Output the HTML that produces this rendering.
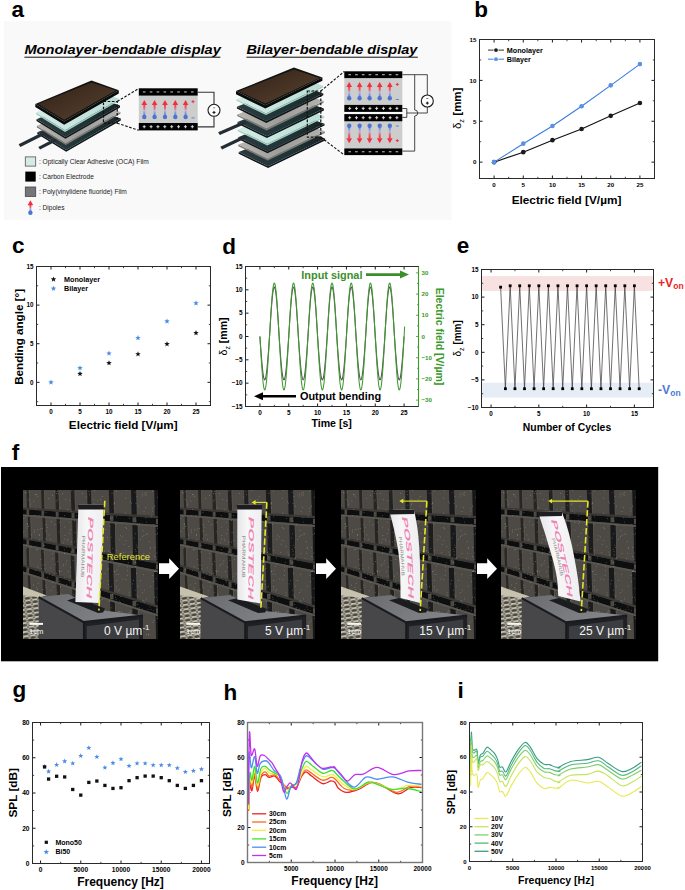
<!DOCTYPE html>
<html><head><meta charset="utf-8"><style>
html,body{margin:0;padding:0;background:#fff;}
svg{display:block;font-family:"Liberation Sans", sans-serif;}
</style></head><body>
<svg width="685" height="890" viewBox="0 0 685 890">
<text x="11.5" y="16.8" font-size="22.5" font-weight="bold" font-style="normal" text-anchor="start" fill="#000" >a</text>
<text x="474.2" y="16.8" font-size="22.5" font-weight="bold" font-style="normal" text-anchor="start" fill="#000" >b</text>
<text x="12" y="252.8" font-size="22.5" font-weight="bold" font-style="normal" text-anchor="start" fill="#000" >c</text>
<text x="222.3" y="254" font-size="22.5" font-weight="bold" font-style="normal" text-anchor="start" fill="#000" >d</text>
<text x="456.8" y="252.7" font-size="22.5" font-weight="bold" font-style="normal" text-anchor="start" fill="#000" >e</text>
<text x="11.8" y="460" font-size="22.5" font-weight="bold" font-style="normal" text-anchor="start" fill="#000" >f</text>
<text x="12.5" y="696.5" font-size="22.5" font-weight="bold" font-style="normal" text-anchor="start" fill="#000" >g</text>
<text x="223.5" y="699.5" font-size="22.5" font-weight="bold" font-style="normal" text-anchor="start" fill="#000" >h</text>
<text x="457.5" y="697.8" font-size="22.5" font-weight="bold" font-style="normal" text-anchor="start" fill="#000" >i</text>
<rect x="4" y="21" width="447.5" height="198.8" fill="#f9f9f9" />
<defs>
<linearGradient id="gphone" x1="0" y1="0" x2="1" y2="1">
<stop offset="0" stop-color="#2c1f15"/><stop offset="0.45" stop-color="#433022"/><stop offset="0.8" stop-color="#523c2b"/><stop offset="1" stop-color="#3a2a1e"/></linearGradient>
<linearGradient id="goca" x1="0" y1="0" x2="1" y2="0">
<stop offset="0" stop-color="#d3ebe5"/><stop offset="1" stop-color="#b9ddd5"/></linearGradient>
<linearGradient id="gel" x1="0" y1="0" x2="1" y2="0">
<stop offset="0" stop-color="#2c3a40"/><stop offset="0.6" stop-color="#1f3436"/><stop offset="1" stop-color="#1a2326"/></linearGradient>
<linearGradient id="gpv" x1="0" y1="0" x2="1" y2="0">
<stop offset="0" stop-color="#b9b6b0"/><stop offset="0.5" stop-color="#9d9c99"/><stop offset="1" stop-color="#b2b2ae"/></linearGradient>
<linearGradient id="gdip" x1="0" y1="0" x2="0" y2="1">
<stop offset="0" stop-color="#f03844"/><stop offset="0.3" stop-color="#e6687a"/><stop offset="0.5" stop-color="#c0b4dc"/><stop offset="0.7" stop-color="#7a98e0"/><stop offset="1" stop-color="#4a74d0"/></linearGradient>
<linearGradient id="gdipd" x1="0" y1="1" x2="0" y2="0">
<stop offset="0" stop-color="#f03844"/><stop offset="0.3" stop-color="#e6687a"/><stop offset="0.5" stop-color="#c0b4dc"/><stop offset="0.7" stop-color="#7a98e0"/><stop offset="1" stop-color="#4a74d0"/></linearGradient>
</defs>
<polygon points="37.3,132.2 66.2,149.9 120.8,118.6 120.8,120.4 66.2,151.7 37.3,134" fill="#10171a" />
<polygon points="37.3,132.2 93.5,108.9 120.8,118.6 66.2,149.9" fill="url(#gel)" />
<polygon points="38.3,146.9 56,137.8 57.76,140.52 40.06,149.62" fill="#232d33" />
<polygon points="36.9,125.7 65.8,143.4 120.4,112.1 120.4,113.8 65.8,145.1 36.9,127.4" fill="#7a7975" />
<polygon points="36.9,125.7 93.1,102.4 120.4,112.1 65.8,143.4" fill="url(#gpv)" />
<polygon points="36.5,119.2 65.4,136.9 120,105.6 120,107.4 65.4,138.7 36.5,121" fill="#10171a" />
<polygon points="36.5,119.2 92.7,95.9 120,105.6 65.4,136.9" fill="url(#gel)" />
<polygon points="18.6,144.2 44,131.6 45.76,134.32 20.36,146.92" fill="#232d33" />
<polygon points="40.5,133.5 44,131.6 52,137 48.5,139" fill="#232d33" />
<polygon points="36.1,112.6 65,130.3 119.6,99 119.6,100.6 65,131.9 36.1,114.2" fill="#a6d0c6" />
<polygon points="36.1,112.6 92.3,89.3 119.6,99 65,130.3" fill="url(#goca)" />
<polygon points="35.3,103.9 64.2,121.6 118.8,90.3 118.8,93.5 64.2,124.8 35.3,107.1" fill="#0b0b0b" />
<polygon points="35.3,103.9 91.5,80.6 118.8,90.3 64.2,121.6" fill="#121212" />
<polygon points="38.1,104.1 91.5,82.6 115.8,90.6 64.2,119.8" fill="url(#gphone)" />
<polygon points="238.7,152 268.1,166.3 325.1,138.6 325.1,140.4 268.1,168.1 238.7,153.8" fill="#10171a" />
<polygon points="238.7,152 296.6,128.5 325.1,138.6 268.1,166.3" fill="url(#gel)" />
<polygon points="238.4,144.6 267.8,158.9 324.8,131.2 324.8,132.9 267.8,160.6 238.4,146.3" fill="#7a7975" />
<polygon points="238.4,144.6 296.3,121.1 324.8,131.2 267.8,158.9" fill="url(#gpv)" />
<polygon points="238.1,137.2 267.5,151.5 324.5,123.8 324.5,125.6 267.5,153.3 238.1,139" fill="#10171a" />
<polygon points="238.1,137.2 296,113.7 324.5,123.8 267.5,151.5" fill="url(#gel)" />
<polygon points="220.3,146.8 245.5,134.8 247.26,137.52 222.06,149.52" fill="#232d33" />
<polygon points="237.8,129.6 267.2,143.9 324.2,116.2 324.2,117.8 267.2,145.5 237.8,131.2" fill="#a6d0c6" />
<polygon points="237.8,129.6 295.7,106.1 324.2,116.2 267.2,143.9" fill="url(#goca)" />
<polygon points="237.5,122 266.9,136.3 323.9,108.6 323.9,110.4 266.9,138.1 237.5,123.8" fill="#10171a" />
<polygon points="237.5,122 295.4,98.5 323.9,108.6 266.9,136.3" fill="url(#gel)" />
<polygon points="237.2,114.4 266.6,128.7 323.6,101 323.6,102.7 266.6,130.4 237.2,116.1" fill="#7a7975" />
<polygon points="237.2,114.4 295.1,90.9 323.6,101 266.6,128.7" fill="url(#gpv)" />
<polygon points="236.9,106.8 266.3,121.1 323.3,93.4 323.3,95.2 266.3,122.9 236.9,108.6" fill="#10171a" />
<polygon points="236.9,106.8 294.8,83.3 323.3,93.4 266.3,121.1" fill="url(#gel)" />
<polygon points="218.1,132.3 245,120.5 246.76,123.22 219.86,135.02" fill="#232d33" />
<polygon points="236.6,99.2 266,113.5 323,85.8 323,87.4 266,115.1 236.6,100.8" fill="#a6d0c6" />
<polygon points="236.6,99.2 294.5,75.7 323,85.8 266,113.5" fill="url(#goca)" />
<polygon points="236,91 265.4,105.3 322.4,77.6 322.4,80.8 265.4,108.5 236,94.2" fill="#0b0b0b" />
<polygon points="236,91 293.9,67.5 322.4,77.6 265.4,105.3" fill="#121212" />
<polygon points="238.8,91.2 293.9,69.5 319.4,77.9 265.4,103.5" fill="url(#gphone)" />
<rect x="103.5" y="101.5" width="13.7" height="21.7" fill="none" stroke="#111" stroke-width="1.2" stroke-dasharray="2.6,1.6"/>
<line x1="117.2" y1="101.5" x2="138.8" y2="88.5" stroke="#111" stroke-width="1.1" stroke-dasharray="2.6,1.6"/>
<line x1="117.2" y1="123.2" x2="138.8" y2="130.3" stroke="#111" stroke-width="1.1" stroke-dasharray="2.6,1.6"/>
<rect x="307.3" y="91" width="13.5" height="46.2" fill="none" stroke="#111" stroke-width="1.2" stroke-dasharray="2.6,1.6"/>
<line x1="320.8" y1="91" x2="344.3" y2="71.5" stroke="#111" stroke-width="1.1" stroke-dasharray="2.6,1.6"/>
<line x1="320.8" y1="137.2" x2="344.3" y2="155" stroke="#111" stroke-width="1.1" stroke-dasharray="2.6,1.6"/>
<rect x="138.8" y="95.4" width="58.9" height="27.6" fill="#cdcdcd" />
<rect x="138.8" y="88.3" width="58.9" height="7.3" fill="#000" />
<rect x="142.9" y="91.4" width="2.6" height="1.1" fill="#b8b8b8" />
<rect x="149.77" y="91.4" width="2.6" height="1.1" fill="#b8b8b8" />
<rect x="156.64" y="91.4" width="2.6" height="1.1" fill="#b8b8b8" />
<rect x="163.51" y="91.4" width="2.6" height="1.1" fill="#b8b8b8" />
<rect x="170.39" y="91.4" width="2.6" height="1.1" fill="#b8b8b8" />
<rect x="177.26" y="91.4" width="2.6" height="1.1" fill="#b8b8b8" />
<rect x="184.13" y="91.4" width="2.6" height="1.1" fill="#b8b8b8" />
<rect x="191" y="91.4" width="2.6" height="1.1" fill="#b8b8b8" />
<rect x="138.8" y="123" width="58.9" height="7.4" fill="#000" />
<rect x="142.7" y="126.2" width="3" height="1" fill="#d8d8d8" />
<rect x="143.7" y="125.1" width="1" height="3.2" fill="#d8d8d8" />
<rect x="149.57" y="126.2" width="3" height="1" fill="#d8d8d8" />
<rect x="150.57" y="125.1" width="1" height="3.2" fill="#d8d8d8" />
<rect x="156.44" y="126.2" width="3" height="1" fill="#d8d8d8" />
<rect x="157.44" y="125.1" width="1" height="3.2" fill="#d8d8d8" />
<rect x="163.31" y="126.2" width="3" height="1" fill="#d8d8d8" />
<rect x="164.31" y="125.1" width="1" height="3.2" fill="#d8d8d8" />
<rect x="170.19" y="126.2" width="3" height="1" fill="#d8d8d8" />
<rect x="171.19" y="125.1" width="1" height="3.2" fill="#d8d8d8" />
<rect x="177.06" y="126.2" width="3" height="1" fill="#d8d8d8" />
<rect x="178.06" y="125.1" width="1" height="3.2" fill="#d8d8d8" />
<rect x="183.93" y="126.2" width="3" height="1" fill="#d8d8d8" />
<rect x="184.93" y="125.1" width="1" height="3.2" fill="#d8d8d8" />
<rect x="190.8" y="126.2" width="3" height="1" fill="#d8d8d8" />
<rect x="191.8" y="125.1" width="1" height="3.2" fill="#d8d8d8" />
<rect x="143.3" y="104.4" width="2" height="12.6" fill="url(#gdip)" />
<polygon points="144.3,99.9 147.1,104.9 141.5,104.9" fill="#f2303c" />
<circle cx="144.3" cy="117" r="2.2" fill="#4a74d0"/>
<rect x="153.6" y="104.4" width="2" height="12.6" fill="url(#gdip)" />
<polygon points="154.6,99.9 157.4,104.9 151.8,104.9" fill="#f2303c" />
<circle cx="154.6" cy="117" r="2.2" fill="#4a74d0"/>
<rect x="164" y="104.4" width="2" height="12.6" fill="url(#gdip)" />
<polygon points="165,99.9 167.8,104.9 162.2,104.9" fill="#f2303c" />
<circle cx="165" cy="117" r="2.2" fill="#4a74d0"/>
<rect x="174.3" y="104.4" width="2" height="12.6" fill="url(#gdip)" />
<polygon points="175.3,99.9 178.1,104.9 172.5,104.9" fill="#f2303c" />
<circle cx="175.3" cy="117" r="2.2" fill="#4a74d0"/>
<rect x="184.6" y="104.4" width="2" height="12.6" fill="url(#gdip)" />
<polygon points="185.6,99.9 188.4,104.9 182.8,104.9" fill="#f2303c" />
<circle cx="185.6" cy="117" r="2.2" fill="#4a74d0"/>
<rect x="191.5" y="101.1" width="3" height="1" fill="#f2303c" />
<rect x="192.5" y="100.1" width="1" height="3" fill="#f2303c" />
<rect x="191.5" y="117.4" width="3" height="1" fill="#4a8ae0" />
<polyline points="197.7,92.3 214,92.3 214,104" fill="none" stroke="#333" stroke-width="1.1" />
<polyline points="214,116.5 214,126.9 197.7,126.9" fill="none" stroke="#333" stroke-width="1.1" />
<circle cx="214" cy="110.3" r="6" fill="#fff" stroke="#1a1a1a" stroke-width="1.1"/>
<rect x="212.9" y="107.4" width="2.2" height="0.9" fill="#777" />
<rect x="212.5" y="111.9" width="3" height="1" fill="#111" />
<rect x="213.5" y="110.9" width="1" height="3" fill="#111" />
<rect x="344.3" y="78.1" width="58" height="26.8" fill="#cdcdcd" />
<rect x="344.3" y="121.3" width="58" height="27.1" fill="#cdcdcd" />
<rect x="344.3" y="71.3" width="58" height="6.8" fill="#000" />
<rect x="348.4" y="74.15" width="2.6" height="1.1" fill="#b8b8b8" />
<rect x="355.14" y="74.15" width="2.6" height="1.1" fill="#b8b8b8" />
<rect x="361.89" y="74.15" width="2.6" height="1.1" fill="#b8b8b8" />
<rect x="368.63" y="74.15" width="2.6" height="1.1" fill="#b8b8b8" />
<rect x="375.37" y="74.15" width="2.6" height="1.1" fill="#b8b8b8" />
<rect x="382.11" y="74.15" width="2.6" height="1.1" fill="#b8b8b8" />
<rect x="388.86" y="74.15" width="2.6" height="1.1" fill="#b8b8b8" />
<rect x="395.6" y="74.15" width="2.6" height="1.1" fill="#b8b8b8" />
<rect x="344.3" y="104.9" width="58" height="7" fill="#000" />
<rect x="348.2" y="107.9" width="3" height="1" fill="#d8d8d8" />
<rect x="349.2" y="106.8" width="1" height="3.2" fill="#d8d8d8" />
<rect x="354.94" y="107.9" width="3" height="1" fill="#d8d8d8" />
<rect x="355.94" y="106.8" width="1" height="3.2" fill="#d8d8d8" />
<rect x="361.69" y="107.9" width="3" height="1" fill="#d8d8d8" />
<rect x="362.69" y="106.8" width="1" height="3.2" fill="#d8d8d8" />
<rect x="368.43" y="107.9" width="3" height="1" fill="#d8d8d8" />
<rect x="369.43" y="106.8" width="1" height="3.2" fill="#d8d8d8" />
<rect x="375.17" y="107.9" width="3" height="1" fill="#d8d8d8" />
<rect x="376.17" y="106.8" width="1" height="3.2" fill="#d8d8d8" />
<rect x="381.91" y="107.9" width="3" height="1" fill="#d8d8d8" />
<rect x="382.91" y="106.8" width="1" height="3.2" fill="#d8d8d8" />
<rect x="388.66" y="107.9" width="3" height="1" fill="#d8d8d8" />
<rect x="389.66" y="106.8" width="1" height="3.2" fill="#d8d8d8" />
<rect x="395.4" y="107.9" width="3" height="1" fill="#d8d8d8" />
<rect x="396.4" y="106.8" width="1" height="3.2" fill="#d8d8d8" />
<rect x="344.3" y="114.1" width="58" height="7.2" fill="#000" />
<rect x="348.2" y="117.2" width="3" height="1" fill="#d8d8d8" />
<rect x="349.2" y="116.1" width="1" height="3.2" fill="#d8d8d8" />
<rect x="354.94" y="117.2" width="3" height="1" fill="#d8d8d8" />
<rect x="355.94" y="116.1" width="1" height="3.2" fill="#d8d8d8" />
<rect x="361.69" y="117.2" width="3" height="1" fill="#d8d8d8" />
<rect x="362.69" y="116.1" width="1" height="3.2" fill="#d8d8d8" />
<rect x="368.43" y="117.2" width="3" height="1" fill="#d8d8d8" />
<rect x="369.43" y="116.1" width="1" height="3.2" fill="#d8d8d8" />
<rect x="375.17" y="117.2" width="3" height="1" fill="#d8d8d8" />
<rect x="376.17" y="116.1" width="1" height="3.2" fill="#d8d8d8" />
<rect x="381.91" y="117.2" width="3" height="1" fill="#d8d8d8" />
<rect x="382.91" y="116.1" width="1" height="3.2" fill="#d8d8d8" />
<rect x="388.66" y="117.2" width="3" height="1" fill="#d8d8d8" />
<rect x="389.66" y="116.1" width="1" height="3.2" fill="#d8d8d8" />
<rect x="395.4" y="117.2" width="3" height="1" fill="#d8d8d8" />
<rect x="396.4" y="116.1" width="1" height="3.2" fill="#d8d8d8" />
<rect x="344.3" y="148.4" width="58" height="6.7" fill="#000" />
<rect x="348.4" y="151.2" width="2.6" height="1.1" fill="#b8b8b8" />
<rect x="355.14" y="151.2" width="2.6" height="1.1" fill="#b8b8b8" />
<rect x="361.89" y="151.2" width="2.6" height="1.1" fill="#b8b8b8" />
<rect x="368.63" y="151.2" width="2.6" height="1.1" fill="#b8b8b8" />
<rect x="375.37" y="151.2" width="2.6" height="1.1" fill="#b8b8b8" />
<rect x="382.11" y="151.2" width="2.6" height="1.1" fill="#b8b8b8" />
<rect x="388.86" y="151.2" width="2.6" height="1.1" fill="#b8b8b8" />
<rect x="395.6" y="151.2" width="2.6" height="1.1" fill="#b8b8b8" />
<rect x="348.2" y="86.6" width="2" height="11.7" fill="url(#gdip)" />
<polygon points="349.2,82.1 352,87.1 346.4,87.1" fill="#f2303c" />
<circle cx="349.2" cy="98.3" r="2.2" fill="#4a74d0"/>
<rect x="348.2" y="125.3" width="2" height="12.9" fill="url(#gdipd)" />
<polygon points="349.2,143.2 352,138.2 346.4,138.2" fill="#f2303c" />
<circle cx="349.2" cy="125.8" r="2.2" fill="#4a74d0"/>
<rect x="358.6" y="86.6" width="2" height="11.7" fill="url(#gdip)" />
<polygon points="359.6,82.1 362.4,87.1 356.8,87.1" fill="#f2303c" />
<circle cx="359.6" cy="98.3" r="2.2" fill="#4a74d0"/>
<rect x="358.6" y="125.3" width="2" height="12.9" fill="url(#gdipd)" />
<polygon points="359.6,143.2 362.4,138.2 356.8,138.2" fill="#f2303c" />
<circle cx="359.6" cy="125.8" r="2.2" fill="#4a74d0"/>
<rect x="368.6" y="86.6" width="2" height="11.7" fill="url(#gdip)" />
<polygon points="369.6,82.1 372.4,87.1 366.8,87.1" fill="#f2303c" />
<circle cx="369.6" cy="98.3" r="2.2" fill="#4a74d0"/>
<rect x="368.6" y="125.3" width="2" height="12.9" fill="url(#gdipd)" />
<polygon points="369.6,143.2 372.4,138.2 366.8,138.2" fill="#f2303c" />
<circle cx="369.6" cy="125.8" r="2.2" fill="#4a74d0"/>
<rect x="378.7" y="86.6" width="2" height="11.7" fill="url(#gdip)" />
<polygon points="379.7,82.1 382.5,87.1 376.9,87.1" fill="#f2303c" />
<circle cx="379.7" cy="98.3" r="2.2" fill="#4a74d0"/>
<rect x="378.7" y="125.3" width="2" height="12.9" fill="url(#gdipd)" />
<polygon points="379.7,143.2 382.5,138.2 376.9,138.2" fill="#f2303c" />
<circle cx="379.7" cy="125.8" r="2.2" fill="#4a74d0"/>
<rect x="388.8" y="86.6" width="2" height="11.7" fill="url(#gdip)" />
<polygon points="389.8,82.1 392.6,87.1 387,87.1" fill="#f2303c" />
<circle cx="389.8" cy="98.3" r="2.2" fill="#4a74d0"/>
<rect x="388.8" y="125.3" width="2" height="12.9" fill="url(#gdipd)" />
<polygon points="389.8,143.2 392.6,138.2 387,138.2" fill="#f2303c" />
<circle cx="389.8" cy="125.8" r="2.2" fill="#4a74d0"/>
<rect x="395.8" y="83.9" width="3" height="1" fill="#f2303c" />
<rect x="396.8" y="82.9" width="1" height="3" fill="#f2303c" />
<rect x="395.8" y="99" width="3" height="1" fill="#4a8ae0" />
<rect x="395.8" y="125.5" width="3" height="1" fill="#4a8ae0" />
<rect x="395.8" y="140.1" width="3" height="1" fill="#f2303c" />
<rect x="396.8" y="139.1" width="1" height="3" fill="#f2303c" />
<polyline points="402.3,74.7 427.3,74.7 427.3,95.2" fill="none" stroke="#333" stroke-width="0.9" />
<polyline points="427.3,106.8 427.3,113 406.8,113" fill="none" stroke="#333" stroke-width="0.9" />
<polyline points="402.3,108.5 406.8,108.5 406.8,117.4 402.3,117.4" fill="none" stroke="#333" stroke-width="0.9" />
<path d="M414.7,74.7 L414.7,110 A3,3 0 0 1 414.7,116 L414.7,151.1 L402.3,151.1" fill="none" stroke="#333" stroke-width="0.9" />
<circle cx="427.3" cy="101" r="6" fill="#fff" stroke="#1a1a1a" stroke-width="1.1"/>
<rect x="426.2" y="98.1" width="2.2" height="0.9" fill="#777" />
<rect x="425.8" y="102.6" width="3" height="1" fill="#111" />
<rect x="426.8" y="101.6" width="1" height="3" fill="#111" />
<text x="24.4" y="54.3" font-size="13.6" font-weight="bold" font-style="italic" text-anchor="start" fill="#000" textLength="196.5" lengthAdjust="spacingAndGlyphs">Monolayer-bendable display</text>
<rect x="24.4" y="56.7" width="196" height="1" fill="#111" />
<text x="246.4" y="54.3" font-size="13.6" font-weight="bold" font-style="italic" text-anchor="start" fill="#000" textLength="171" lengthAdjust="spacingAndGlyphs">Bilayer-bendable display</text>
<rect x="246.4" y="56.7" width="171.4" height="1" fill="#111" />
<rect x="25.3" y="156.9" width="10.4" height="9.2" fill="#d6ebe6" stroke="#555" stroke-width="0.8"/>
<rect x="25.3" y="171.6" width="10.4" height="10" fill="#000" />
<rect x="25.3" y="187" width="10.4" height="9.4" fill="#74767a" stroke="#444" stroke-width="0.8"/>
<rect x="29.4" y="204.7" width="2" height="8.1" fill="url(#gdip)" />
<polygon points="30.4,200.2 33.2,205.2 27.6,205.2" fill="#f2303c" />
<circle cx="30.4" cy="212.8" r="2.2" fill="#4a74d0"/>
<text x="38.9" y="163.9" font-size="6.6" font-weight="normal" font-style="normal" text-anchor="start" fill="#222" >: Optically Clear Adhesive (OCA) Film</text>
<text x="38.9" y="179" font-size="6.6" font-weight="normal" font-style="normal" text-anchor="start" fill="#222" >: Carbon Electrode</text>
<text x="38.9" y="194" font-size="6.6" font-weight="normal" font-style="normal" text-anchor="start" fill="#222" >: Poly(vinylidene fluoride) Film</text>
<text x="38.9" y="210.3" font-size="6.6" font-weight="normal" font-style="normal" text-anchor="start" fill="#222" >: Dipoles</text>
<line x1="494.08" y1="178.5" x2="494.08" y2="175.5" stroke="#1a1a1a" stroke-width="1" />
<line x1="494.08" y1="39.5" x2="494.08" y2="42.5" stroke="#1a1a1a" stroke-width="1" />
<line x1="523.25" y1="178.5" x2="523.25" y2="175.5" stroke="#1a1a1a" stroke-width="1" />
<line x1="523.25" y1="39.5" x2="523.25" y2="42.5" stroke="#1a1a1a" stroke-width="1" />
<line x1="552.42" y1="178.5" x2="552.42" y2="175.5" stroke="#1a1a1a" stroke-width="1" />
<line x1="552.42" y1="39.5" x2="552.42" y2="42.5" stroke="#1a1a1a" stroke-width="1" />
<line x1="581.58" y1="178.5" x2="581.58" y2="175.5" stroke="#1a1a1a" stroke-width="1" />
<line x1="581.58" y1="39.5" x2="581.58" y2="42.5" stroke="#1a1a1a" stroke-width="1" />
<line x1="610.75" y1="178.5" x2="610.75" y2="175.5" stroke="#1a1a1a" stroke-width="1" />
<line x1="610.75" y1="39.5" x2="610.75" y2="42.5" stroke="#1a1a1a" stroke-width="1" />
<line x1="639.92" y1="178.5" x2="639.92" y2="175.5" stroke="#1a1a1a" stroke-width="1" />
<line x1="639.92" y1="39.5" x2="639.92" y2="42.5" stroke="#1a1a1a" stroke-width="1" />
<line x1="508.67" y1="178.5" x2="508.67" y2="176.8" stroke="#1a1a1a" stroke-width="0.8" />
<line x1="508.67" y1="39.5" x2="508.67" y2="41.2" stroke="#1a1a1a" stroke-width="0.8" />
<line x1="537.83" y1="178.5" x2="537.83" y2="176.8" stroke="#1a1a1a" stroke-width="0.8" />
<line x1="537.83" y1="39.5" x2="537.83" y2="41.2" stroke="#1a1a1a" stroke-width="0.8" />
<line x1="567" y1="178.5" x2="567" y2="176.8" stroke="#1a1a1a" stroke-width="0.8" />
<line x1="567" y1="39.5" x2="567" y2="41.2" stroke="#1a1a1a" stroke-width="0.8" />
<line x1="596.17" y1="178.5" x2="596.17" y2="176.8" stroke="#1a1a1a" stroke-width="0.8" />
<line x1="596.17" y1="39.5" x2="596.17" y2="41.2" stroke="#1a1a1a" stroke-width="0.8" />
<line x1="625.33" y1="178.5" x2="625.33" y2="176.8" stroke="#1a1a1a" stroke-width="0.8" />
<line x1="625.33" y1="39.5" x2="625.33" y2="41.2" stroke="#1a1a1a" stroke-width="0.8" />
<line x1="479.5" y1="162.15" x2="482.5" y2="162.15" stroke="#1a1a1a" stroke-width="1" />
<line x1="654.5" y1="162.15" x2="651.5" y2="162.15" stroke="#1a1a1a" stroke-width="1" />
<line x1="479.5" y1="121.26" x2="482.5" y2="121.26" stroke="#1a1a1a" stroke-width="1" />
<line x1="654.5" y1="121.26" x2="651.5" y2="121.26" stroke="#1a1a1a" stroke-width="1" />
<line x1="479.5" y1="80.38" x2="482.5" y2="80.38" stroke="#1a1a1a" stroke-width="1" />
<line x1="654.5" y1="80.38" x2="651.5" y2="80.38" stroke="#1a1a1a" stroke-width="1" />
<line x1="479.5" y1="39.5" x2="482.5" y2="39.5" stroke="#1a1a1a" stroke-width="1" />
<line x1="654.5" y1="39.5" x2="651.5" y2="39.5" stroke="#1a1a1a" stroke-width="1" />
<line x1="479.5" y1="141.71" x2="481.2" y2="141.71" stroke="#1a1a1a" stroke-width="0.8" />
<line x1="654.5" y1="141.71" x2="652.8" y2="141.71" stroke="#1a1a1a" stroke-width="0.8" />
<line x1="479.5" y1="100.82" x2="481.2" y2="100.82" stroke="#1a1a1a" stroke-width="0.8" />
<line x1="654.5" y1="100.82" x2="652.8" y2="100.82" stroke="#1a1a1a" stroke-width="0.8" />
<line x1="479.5" y1="59.94" x2="481.2" y2="59.94" stroke="#1a1a1a" stroke-width="0.8" />
<line x1="654.5" y1="59.94" x2="652.8" y2="59.94" stroke="#1a1a1a" stroke-width="0.8" />
<rect x="479.5" y="39.5" width="175" height="139" fill="none" stroke="#2a2a2a" stroke-width="1"/>
<text x="494.08" y="187.2" font-size="6.2" font-weight="bold" font-style="normal" text-anchor="middle" fill="#000" >0</text>
<text x="523.25" y="187.2" font-size="6.2" font-weight="bold" font-style="normal" text-anchor="middle" fill="#000" >5</text>
<text x="552.42" y="187.2" font-size="6.2" font-weight="bold" font-style="normal" text-anchor="middle" fill="#000" >10</text>
<text x="581.58" y="187.2" font-size="6.2" font-weight="bold" font-style="normal" text-anchor="middle" fill="#000" >15</text>
<text x="610.75" y="187.2" font-size="6.2" font-weight="bold" font-style="normal" text-anchor="middle" fill="#000" >20</text>
<text x="639.92" y="187.2" font-size="6.2" font-weight="bold" font-style="normal" text-anchor="middle" fill="#000" >25</text>
<text x="476.5" y="164.38" font-size="6.2" font-weight="bold" font-style="normal" text-anchor="end" fill="#000" >0</text>
<text x="476.5" y="123.5" font-size="6.2" font-weight="bold" font-style="normal" text-anchor="end" fill="#000" >5</text>
<text x="476.5" y="82.61" font-size="6.2" font-weight="bold" font-style="normal" text-anchor="end" fill="#000" >10</text>
<text x="476.5" y="41.73" font-size="6.2" font-weight="bold" font-style="normal" text-anchor="end" fill="#000" >15</text>
<polyline points="494.08,162.15 523.25,152.17 552.42,140.15 581.58,129.03 610.75,115.87 639.92,103.03" fill="none" stroke="#111" stroke-width="1.1" />
<polyline points="494.08,162.15 523.25,143.67 552.42,126.01 581.58,106.22 610.75,85.37 639.92,64.11" fill="none" stroke="#3b7ddd" stroke-width="1.1" />
<circle cx="494.08" cy="162.15" r="2.3" fill="#1a1a1a"/>
<circle cx="523.25" cy="152.17" r="2.3" fill="#1a1a1a"/>
<circle cx="552.42" cy="140.15" r="2.3" fill="#1a1a1a"/>
<circle cx="581.58" cy="129.03" r="2.3" fill="#1a1a1a"/>
<circle cx="610.75" cy="115.87" r="2.3" fill="#1a1a1a"/>
<circle cx="639.92" cy="103.03" r="2.3" fill="#1a1a1a"/>
<circle cx="494.08" cy="162.15" r="2.3" fill="#5b8fe8"/>
<circle cx="523.25" cy="143.67" r="2.3" fill="#5b8fe8"/>
<circle cx="552.42" cy="126.01" r="2.3" fill="#5b8fe8"/>
<circle cx="581.58" cy="106.22" r="2.3" fill="#5b8fe8"/>
<circle cx="610.75" cy="85.37" r="2.3" fill="#5b8fe8"/>
<circle cx="639.92" cy="64.11" r="2.3" fill="#5b8fe8"/>
<line x1="488" y1="50.1" x2="493.6" y2="50.1" stroke="#333" stroke-width="1" />
<line x1="498.4" y1="50.1" x2="504" y2="50.1" stroke="#333" stroke-width="1" />
<circle cx="496" cy="50.1" r="1.9" fill="#1a1a1a"/>
<line x1="488" y1="59.2" x2="493.6" y2="59.2" stroke="#3b7ddd" stroke-width="1" />
<line x1="498.4" y1="59.2" x2="504" y2="59.2" stroke="#3b7ddd" stroke-width="1" />
<circle cx="496" cy="59.2" r="1.9" fill="#5b8fe8"/>
<text x="506.8" y="52.6" font-size="7.2" font-weight="bold" font-style="normal" text-anchor="start" fill="#000" >Monolayer</text>
<text x="506.8" y="61.7" font-size="7.2" font-weight="bold" font-style="normal" text-anchor="start" fill="#000" >Bilayer</text>
<text x="566.5" y="203.8" font-size="11.8" font-weight="bold" font-style="normal" text-anchor="middle" fill="#000" >Electric field [V/µm]</text>
<text transform="translate(460.6,108.3) rotate(-90)" font-size="11.5" font-weight="bold" text-anchor="middle"><tspan font-weight="normal">δ</tspan><tspan font-size="7.5" dy="3" font-weight="normal">z</tspan><tspan dy="-3"> [mm]</tspan></text>
<line x1="51" y1="405.5" x2="51" y2="402.5" stroke="#1a1a1a" stroke-width="1" />
<line x1="51" y1="266.5" x2="51" y2="269.5" stroke="#1a1a1a" stroke-width="1" />
<line x1="80" y1="405.5" x2="80" y2="402.5" stroke="#1a1a1a" stroke-width="1" />
<line x1="80" y1="266.5" x2="80" y2="269.5" stroke="#1a1a1a" stroke-width="1" />
<line x1="109" y1="405.5" x2="109" y2="402.5" stroke="#1a1a1a" stroke-width="1" />
<line x1="109" y1="266.5" x2="109" y2="269.5" stroke="#1a1a1a" stroke-width="1" />
<line x1="138" y1="405.5" x2="138" y2="402.5" stroke="#1a1a1a" stroke-width="1" />
<line x1="138" y1="266.5" x2="138" y2="269.5" stroke="#1a1a1a" stroke-width="1" />
<line x1="167" y1="405.5" x2="167" y2="402.5" stroke="#1a1a1a" stroke-width="1" />
<line x1="167" y1="266.5" x2="167" y2="269.5" stroke="#1a1a1a" stroke-width="1" />
<line x1="196" y1="405.5" x2="196" y2="402.5" stroke="#1a1a1a" stroke-width="1" />
<line x1="196" y1="266.5" x2="196" y2="269.5" stroke="#1a1a1a" stroke-width="1" />
<line x1="65.5" y1="405.5" x2="65.5" y2="403.8" stroke="#1a1a1a" stroke-width="0.8" />
<line x1="65.5" y1="266.5" x2="65.5" y2="268.2" stroke="#1a1a1a" stroke-width="0.8" />
<line x1="94.5" y1="405.5" x2="94.5" y2="403.8" stroke="#1a1a1a" stroke-width="0.8" />
<line x1="94.5" y1="266.5" x2="94.5" y2="268.2" stroke="#1a1a1a" stroke-width="0.8" />
<line x1="123.5" y1="405.5" x2="123.5" y2="403.8" stroke="#1a1a1a" stroke-width="0.8" />
<line x1="123.5" y1="266.5" x2="123.5" y2="268.2" stroke="#1a1a1a" stroke-width="0.8" />
<line x1="152.5" y1="405.5" x2="152.5" y2="403.8" stroke="#1a1a1a" stroke-width="0.8" />
<line x1="152.5" y1="266.5" x2="152.5" y2="268.2" stroke="#1a1a1a" stroke-width="0.8" />
<line x1="181.5" y1="405.5" x2="181.5" y2="403.8" stroke="#1a1a1a" stroke-width="0.8" />
<line x1="181.5" y1="266.5" x2="181.5" y2="268.2" stroke="#1a1a1a" stroke-width="0.8" />
<line x1="36.5" y1="382.33" x2="39.5" y2="382.33" stroke="#1a1a1a" stroke-width="1" />
<line x1="210.5" y1="382.33" x2="207.5" y2="382.33" stroke="#1a1a1a" stroke-width="1" />
<line x1="36.5" y1="343.72" x2="39.5" y2="343.72" stroke="#1a1a1a" stroke-width="1" />
<line x1="210.5" y1="343.72" x2="207.5" y2="343.72" stroke="#1a1a1a" stroke-width="1" />
<line x1="36.5" y1="305.11" x2="39.5" y2="305.11" stroke="#1a1a1a" stroke-width="1" />
<line x1="210.5" y1="305.11" x2="207.5" y2="305.11" stroke="#1a1a1a" stroke-width="1" />
<line x1="36.5" y1="266.5" x2="39.5" y2="266.5" stroke="#1a1a1a" stroke-width="1" />
<line x1="210.5" y1="266.5" x2="207.5" y2="266.5" stroke="#1a1a1a" stroke-width="1" />
<line x1="36.5" y1="363.03" x2="38.2" y2="363.03" stroke="#1a1a1a" stroke-width="0.8" />
<line x1="210.5" y1="363.03" x2="208.8" y2="363.03" stroke="#1a1a1a" stroke-width="0.8" />
<line x1="36.5" y1="324.42" x2="38.2" y2="324.42" stroke="#1a1a1a" stroke-width="0.8" />
<line x1="210.5" y1="324.42" x2="208.8" y2="324.42" stroke="#1a1a1a" stroke-width="0.8" />
<line x1="36.5" y1="285.81" x2="38.2" y2="285.81" stroke="#1a1a1a" stroke-width="0.8" />
<line x1="210.5" y1="285.81" x2="208.8" y2="285.81" stroke="#1a1a1a" stroke-width="0.8" />
<line x1="36.5" y1="401.64" x2="38.2" y2="401.64" stroke="#1a1a1a" stroke-width="0.8" />
<line x1="210.5" y1="401.64" x2="208.8" y2="401.64" stroke="#1a1a1a" stroke-width="0.8" />
<rect x="36.5" y="266.5" width="174" height="139" fill="none" stroke="#2a2a2a" stroke-width="1"/>
<text x="51" y="414.2" font-size="6.3" font-weight="bold" font-style="normal" text-anchor="middle" fill="#000" >0</text>
<text x="80" y="414.2" font-size="6.3" font-weight="bold" font-style="normal" text-anchor="middle" fill="#000" >5</text>
<text x="109" y="414.2" font-size="6.3" font-weight="bold" font-style="normal" text-anchor="middle" fill="#000" >10</text>
<text x="138" y="414.2" font-size="6.3" font-weight="bold" font-style="normal" text-anchor="middle" fill="#000" >15</text>
<text x="167" y="414.2" font-size="6.3" font-weight="bold" font-style="normal" text-anchor="middle" fill="#000" >20</text>
<text x="196" y="414.2" font-size="6.3" font-weight="bold" font-style="normal" text-anchor="middle" fill="#000" >25</text>
<text x="33.5" y="384.6" font-size="6.3" font-weight="bold" font-style="normal" text-anchor="end" fill="#000" >0</text>
<text x="33.5" y="345.99" font-size="6.3" font-weight="bold" font-style="normal" text-anchor="end" fill="#000" >5</text>
<text x="33.5" y="307.38" font-size="6.3" font-weight="bold" font-style="normal" text-anchor="end" fill="#000" >10</text>
<text x="33.5" y="268.77" font-size="6.3" font-weight="bold" font-style="normal" text-anchor="end" fill="#000" >15</text>
<polygon points="80,370.94 80.72,372.85 82.76,372.94 81.16,374.22 81.7,376.19 80,375.06 78.3,376.19 78.84,374.22 77.24,372.94 79.28,372.85" fill="#111" />
<polygon points="109,360.13 109.72,362.04 111.76,362.13 110.16,363.4 110.7,365.37 109,364.25 107.3,365.37 107.84,363.4 106.24,362.13 108.28,362.04" fill="#111" />
<polygon points="138,351.25 138.72,353.16 140.76,353.25 139.16,354.52 139.7,356.49 138,355.37 136.3,356.49 136.84,354.52 135.24,353.25 137.28,353.16" fill="#111" />
<polygon points="167,341.21 167.72,343.12 169.76,343.21 168.16,344.48 168.7,346.45 167,345.33 165.3,346.45 165.84,344.48 164.24,343.21 166.28,343.12" fill="#111" />
<polygon points="196,330.01 196.72,331.93 198.76,332.01 197.16,333.29 197.7,335.26 196,334.13 194.3,335.26 194.84,333.29 193.24,332.01 195.28,331.93" fill="#111" />
<polygon points="51,379.43 51.72,381.35 53.76,381.44 52.16,382.71 52.7,384.68 51,383.55 49.3,384.68 49.84,382.71 48.24,381.44 50.28,381.35" fill="#4a8ae8" />
<polygon points="80,365.15 80.72,367.06 82.76,367.15 81.16,368.42 81.7,370.39 80,369.27 78.3,370.39 78.84,368.42 77.24,367.15 79.28,367.06" fill="#4a8ae8" />
<polygon points="109,350.48 109.72,352.39 111.76,352.48 110.16,353.75 110.7,355.72 109,354.59 107.3,355.72 107.84,353.75 106.24,352.48 108.28,352.39" fill="#4a8ae8" />
<polygon points="138,335.03 138.72,336.95 140.76,337.03 139.16,338.31 139.7,340.28 138,339.15 136.3,340.28 136.84,338.31 135.24,337.03 137.28,336.95" fill="#4a8ae8" />
<polygon points="167,318.43 167.72,320.34 169.76,320.43 168.16,321.7 168.7,323.67 167,322.55 165.3,323.67 165.84,321.7 164.24,320.43 166.28,320.34" fill="#4a8ae8" />
<polygon points="196,300.28 196.72,302.2 198.76,302.28 197.16,303.56 197.7,305.53 196,304.4 194.3,305.53 194.84,303.56 193.24,302.28 195.28,302.2" fill="#4a8ae8" />
<polygon points="53.5,276.4 54.22,278.31 56.26,278.4 54.66,279.68 55.2,281.65 53.5,280.52 51.8,281.65 52.34,279.68 50.74,278.4 52.78,278.31" fill="#111" />
<polygon points="53.5,285.7 54.22,287.61 56.26,287.7 54.66,288.98 55.2,290.95 53.5,289.82 51.8,290.95 52.34,288.98 50.74,287.7 52.78,287.61" fill="#4a8ae8" />
<text x="64" y="282" font-size="7.2" font-weight="bold" font-style="normal" text-anchor="start" fill="#000" >Monolayer</text>
<text x="64" y="291.3" font-size="7.2" font-weight="bold" font-style="normal" text-anchor="start" fill="#000" >Bilayer</text>
<text x="123.2" y="429.4" font-size="11.7" font-weight="bold" font-style="normal" text-anchor="middle" fill="#000" >Electric field [V/µm]</text>
<text transform="translate(23.2,336.9) rotate(-90)" font-size="11.2" font-weight="bold" text-anchor="middle" textLength="95.8" lengthAdjust="spacingAndGlyphs">Bending angle [°]</text>
<line x1="259.92" y1="406.5" x2="259.92" y2="403.5" stroke="#1a1a1a" stroke-width="1" />
<line x1="259.92" y1="266.5" x2="259.92" y2="269.5" stroke="#1a1a1a" stroke-width="1" />
<line x1="288.75" y1="406.5" x2="288.75" y2="403.5" stroke="#1a1a1a" stroke-width="1" />
<line x1="288.75" y1="266.5" x2="288.75" y2="269.5" stroke="#1a1a1a" stroke-width="1" />
<line x1="317.58" y1="406.5" x2="317.58" y2="403.5" stroke="#1a1a1a" stroke-width="1" />
<line x1="317.58" y1="266.5" x2="317.58" y2="269.5" stroke="#1a1a1a" stroke-width="1" />
<line x1="346.42" y1="406.5" x2="346.42" y2="403.5" stroke="#1a1a1a" stroke-width="1" />
<line x1="346.42" y1="266.5" x2="346.42" y2="269.5" stroke="#1a1a1a" stroke-width="1" />
<line x1="375.25" y1="406.5" x2="375.25" y2="403.5" stroke="#1a1a1a" stroke-width="1" />
<line x1="375.25" y1="266.5" x2="375.25" y2="269.5" stroke="#1a1a1a" stroke-width="1" />
<line x1="404.08" y1="406.5" x2="404.08" y2="403.5" stroke="#1a1a1a" stroke-width="1" />
<line x1="404.08" y1="266.5" x2="404.08" y2="269.5" stroke="#1a1a1a" stroke-width="1" />
<line x1="274.33" y1="406.5" x2="274.33" y2="404.8" stroke="#1a1a1a" stroke-width="0.8" />
<line x1="274.33" y1="266.5" x2="274.33" y2="268.2" stroke="#1a1a1a" stroke-width="0.8" />
<line x1="303.17" y1="406.5" x2="303.17" y2="404.8" stroke="#1a1a1a" stroke-width="0.8" />
<line x1="303.17" y1="266.5" x2="303.17" y2="268.2" stroke="#1a1a1a" stroke-width="0.8" />
<line x1="332" y1="406.5" x2="332" y2="404.8" stroke="#1a1a1a" stroke-width="0.8" />
<line x1="332" y1="266.5" x2="332" y2="268.2" stroke="#1a1a1a" stroke-width="0.8" />
<line x1="360.83" y1="406.5" x2="360.83" y2="404.8" stroke="#1a1a1a" stroke-width="0.8" />
<line x1="360.83" y1="266.5" x2="360.83" y2="268.2" stroke="#1a1a1a" stroke-width="0.8" />
<line x1="389.67" y1="406.5" x2="389.67" y2="404.8" stroke="#1a1a1a" stroke-width="0.8" />
<line x1="389.67" y1="266.5" x2="389.67" y2="268.2" stroke="#1a1a1a" stroke-width="0.8" />
<line x1="245.5" y1="406.5" x2="248.5" y2="406.5" stroke="#1a1a1a" stroke-width="1" />
<line x1="245.5" y1="383.17" x2="248.5" y2="383.17" stroke="#1a1a1a" stroke-width="1" />
<line x1="245.5" y1="359.83" x2="248.5" y2="359.83" stroke="#1a1a1a" stroke-width="1" />
<line x1="245.5" y1="336.5" x2="248.5" y2="336.5" stroke="#1a1a1a" stroke-width="1" />
<line x1="245.5" y1="313.17" x2="248.5" y2="313.17" stroke="#1a1a1a" stroke-width="1" />
<line x1="245.5" y1="289.83" x2="248.5" y2="289.83" stroke="#1a1a1a" stroke-width="1" />
<line x1="245.5" y1="266.5" x2="248.5" y2="266.5" stroke="#1a1a1a" stroke-width="1" />
<line x1="245.5" y1="394.83" x2="247.2" y2="394.83" stroke="#1a1a1a" stroke-width="0.8" />
<line x1="245.5" y1="371.5" x2="247.2" y2="371.5" stroke="#1a1a1a" stroke-width="0.8" />
<line x1="245.5" y1="348.17" x2="247.2" y2="348.17" stroke="#1a1a1a" stroke-width="0.8" />
<line x1="245.5" y1="324.83" x2="247.2" y2="324.83" stroke="#1a1a1a" stroke-width="0.8" />
<line x1="245.5" y1="301.5" x2="247.2" y2="301.5" stroke="#1a1a1a" stroke-width="0.8" />
<line x1="245.5" y1="278.17" x2="247.2" y2="278.17" stroke="#1a1a1a" stroke-width="0.8" />
<rect x="245.5" y="266.5" width="173" height="140" fill="none" stroke="#2a2a2a" stroke-width="1"/>
<text x="259.92" y="415.2" font-size="6.4" font-weight="bold" font-style="normal" text-anchor="middle" fill="#000" >0</text>
<text x="288.75" y="415.2" font-size="6.4" font-weight="bold" font-style="normal" text-anchor="middle" fill="#000" >5</text>
<text x="317.58" y="415.2" font-size="6.4" font-weight="bold" font-style="normal" text-anchor="middle" fill="#000" >10</text>
<text x="346.42" y="415.2" font-size="6.4" font-weight="bold" font-style="normal" text-anchor="middle" fill="#000" >15</text>
<text x="375.25" y="415.2" font-size="6.4" font-weight="bold" font-style="normal" text-anchor="middle" fill="#000" >20</text>
<text x="404.08" y="415.2" font-size="6.4" font-weight="bold" font-style="normal" text-anchor="middle" fill="#000" >25</text>
<text x="242.5" y="408.8" font-size="6.4" font-weight="bold" font-style="normal" text-anchor="end" fill="#000" >−15</text>
<text x="242.5" y="385.47" font-size="6.4" font-weight="bold" font-style="normal" text-anchor="end" fill="#000" >−10</text>
<text x="242.5" y="362.14" font-size="6.4" font-weight="bold" font-style="normal" text-anchor="end" fill="#000" >−5</text>
<text x="242.5" y="338.8" font-size="6.4" font-weight="bold" font-style="normal" text-anchor="end" fill="#000" >0</text>
<text x="242.5" y="315.47" font-size="6.4" font-weight="bold" font-style="normal" text-anchor="end" fill="#000" >5</text>
<text x="242.5" y="292.14" font-size="6.4" font-weight="bold" font-style="normal" text-anchor="end" fill="#000" >10</text>
<text x="242.5" y="268.8" font-size="6.4" font-weight="bold" font-style="normal" text-anchor="end" fill="#000" >15</text>
<line x1="418.5" y1="266.5" x2="418.5" y2="406.5" stroke="#3a9a2a" stroke-width="1.1" />
<line x1="418.5" y1="400.14" x2="416" y2="400.14" stroke="#3a9a2a" stroke-width="0.8" />
<text x="421.5" y="402.34" font-size="6.2" font-weight="bold" font-style="normal" text-anchor="start" fill="#3a9a2a" >−30</text>
<line x1="418.5" y1="378.92" x2="416" y2="378.92" stroke="#3a9a2a" stroke-width="0.8" />
<text x="421.5" y="381.12" font-size="6.2" font-weight="bold" font-style="normal" text-anchor="start" fill="#3a9a2a" >−20</text>
<line x1="418.5" y1="357.71" x2="416" y2="357.71" stroke="#3a9a2a" stroke-width="0.8" />
<text x="421.5" y="359.91" font-size="6.2" font-weight="bold" font-style="normal" text-anchor="start" fill="#3a9a2a" >−10</text>
<line x1="418.5" y1="336.5" x2="416" y2="336.5" stroke="#3a9a2a" stroke-width="0.8" />
<text x="421.5" y="338.7" font-size="6.2" font-weight="bold" font-style="normal" text-anchor="start" fill="#3a9a2a" >0</text>
<line x1="418.5" y1="315.29" x2="416" y2="315.29" stroke="#3a9a2a" stroke-width="0.8" />
<text x="421.5" y="317.49" font-size="6.2" font-weight="bold" font-style="normal" text-anchor="start" fill="#3a9a2a" >10</text>
<line x1="418.5" y1="294.08" x2="416" y2="294.08" stroke="#3a9a2a" stroke-width="0.8" />
<text x="421.5" y="296.28" font-size="6.2" font-weight="bold" font-style="normal" text-anchor="start" fill="#3a9a2a" >20</text>
<line x1="418.5" y1="272.86" x2="416" y2="272.86" stroke="#3a9a2a" stroke-width="0.8" />
<text x="421.5" y="275.06" font-size="6.2" font-weight="bold" font-style="normal" text-anchor="start" fill="#3a9a2a" >30</text>
<line x1="418.5" y1="389.53" x2="417" y2="389.53" stroke="#3a9a2a" stroke-width="0.8" />
<line x1="418.5" y1="368.32" x2="417" y2="368.32" stroke="#3a9a2a" stroke-width="0.8" />
<line x1="418.5" y1="347.11" x2="417" y2="347.11" stroke="#3a9a2a" stroke-width="0.8" />
<line x1="418.5" y1="325.89" x2="417" y2="325.89" stroke="#3a9a2a" stroke-width="0.8" />
<line x1="418.5" y1="304.68" x2="417" y2="304.68" stroke="#3a9a2a" stroke-width="0.8" />
<line x1="418.5" y1="283.47" x2="417" y2="283.47" stroke="#3a9a2a" stroke-width="0.8" />
<polyline points="259.92,336.5 260.2,340.58 260.49,344.63 260.78,348.61 261.07,352.48 261.36,356.2 261.65,359.75 261.94,363.1 262.22,366.21 262.51,369.05 262.8,371.61 263.09,373.86 263.38,375.77 263.67,377.33 263.95,378.54 264.24,379.37 264.53,379.81 264.82,379.88 265.11,379.56 265.39,378.85 265.68,377.78 265.97,376.33 266.26,374.53 266.55,372.4 266.84,369.94 267.12,367.19 267.41,364.16 267.7,360.89 267.99,357.41 268.28,353.74 268.57,349.91 268.86,345.97 269.14,341.94 269.43,337.86 269.72,333.39 270.01,328.76 270.3,324.2 270.58,319.74 270.87,315.44 271.16,311.32 271.45,307.42 271.74,303.79 272.03,300.44 272.31,297.41 272.6,294.73 272.89,292.42 273.18,290.51 273.47,289 273.76,287.91 274.05,287.25 274.33,287.03 274.62,287.25 274.91,287.91 275.2,289 275.49,290.51 275.77,292.42 276.06,294.73 276.35,297.41 276.64,300.44 276.93,303.79 277.22,307.42 277.5,311.32 277.79,315.44 278.08,319.74 278.37,324.2 278.66,328.76 278.95,333.39 279.24,337.86 279.52,341.94 279.81,345.97 280.1,349.91 280.39,353.74 280.68,357.41 280.97,360.89 281.25,364.16 281.54,367.19 281.83,369.94 282.12,372.4 282.41,374.53 282.69,376.33 282.98,377.78 283.27,378.85 283.56,379.56 283.85,379.88 284.14,379.81 284.43,379.37 284.71,378.54 285,377.33 285.29,375.77 285.58,373.86 285.87,371.61 286.15,369.05 286.44,366.21 286.73,363.1 287.02,359.75 287.31,356.2 287.6,352.48 287.88,348.61 288.17,344.63 288.46,340.58 288.75,336.5 289.04,331.84 289.33,327.23 289.62,322.7 289.9,318.29 290.19,314.04 290.48,309.99 290.77,306.18 291.06,302.64 291.35,299.39 291.63,296.48 291.92,293.92 292.21,291.74 292.5,289.96 292.79,288.59 293.07,287.64 293.36,287.13 293.65,287.06 293.94,287.42 294.23,288.22 294.52,289.45 294.81,291.1 295.09,293.15 295.38,295.59 295.67,298.39 295.96,301.52 296.25,304.97 296.53,308.7 296.82,312.67 297.11,316.85 297.4,321.21 297.69,325.71 297.98,330.3 298.26,334.95 298.55,339.23 298.84,343.29 299.13,347.29 299.42,351.2 299.71,354.98 300,358.59 300.28,362.01 300.57,365.2 300.86,368.14 301.15,370.79 301.44,373.14 301.73,375.17 302.01,376.85 302.3,378.18 302.59,379.13 302.88,379.71 303.17,379.9 303.45,379.71 303.74,379.13 304.03,378.18 304.32,376.85 304.61,375.17 304.9,373.14 305.19,370.79 305.47,368.14 305.76,365.2 306.05,362.01 306.34,358.59 306.63,354.98 306.92,351.2 307.2,347.29 307.49,343.29 307.78,339.23 308.07,334.95 308.36,330.3 308.64,325.71 308.93,321.21 309.22,316.85 309.51,312.67 309.8,308.7 310.09,304.97 310.38,301.52 310.66,298.39 310.95,295.59 311.24,293.15 311.53,291.1 311.82,289.45 312.11,288.22 312.39,287.42 312.68,287.06 312.97,287.13 313.26,287.64 313.55,288.59 313.83,289.96 314.12,291.74 314.41,293.92 314.7,296.48 314.99,299.39 315.28,302.64 315.56,306.18 315.85,309.99 316.14,314.04 316.43,318.29 316.72,322.7 317.01,327.23 317.3,331.84 317.58,336.5 317.87,340.58 318.16,344.63 318.45,348.61 318.74,352.48 319.02,356.2 319.31,359.75 319.6,363.1 319.89,366.21 320.18,369.05 320.47,371.61 320.75,373.86 321.04,375.77 321.33,377.33 321.62,378.54 321.91,379.37 322.2,379.81 322.49,379.88 322.77,379.56 323.06,378.85 323.35,377.78 323.64,376.33 323.93,374.53 324.22,372.4 324.5,369.94 324.79,367.19 325.08,364.16 325.37,360.89 325.66,357.41 325.94,353.74 326.23,349.91 326.52,345.97 326.81,341.94 327.1,337.86 327.39,333.39 327.68,328.76 327.96,324.2 328.25,319.74 328.54,315.44 328.83,311.32 329.12,307.42 329.4,303.79 329.69,300.44 329.98,297.41 330.27,294.73 330.56,292.42 330.85,290.51 331.13,289 331.42,287.91 331.71,287.25 332,287.03 332.29,287.25 332.58,287.91 332.87,289 333.15,290.51 333.44,292.42 333.73,294.73 334.02,297.41 334.31,300.44 334.6,303.79 334.88,307.42 335.17,311.32 335.46,315.44 335.75,319.74 336.04,324.2 336.32,328.76 336.61,333.39 336.9,337.86 337.19,341.94 337.48,345.97 337.77,349.91 338.06,353.74 338.34,357.41 338.63,360.89 338.92,364.16 339.21,367.19 339.5,369.94 339.79,372.4 340.07,374.53 340.36,376.33 340.65,377.78 340.94,378.85 341.23,379.56 341.51,379.88 341.8,379.81 342.09,379.37 342.38,378.54 342.67,377.33 342.96,375.77 343.25,373.86 343.53,371.61 343.82,369.05 344.11,366.21 344.4,363.1 344.69,359.75 344.98,356.2 345.26,352.48 345.55,348.61 345.84,344.63 346.13,340.58 346.42,336.5 346.71,331.84 346.99,327.23 347.28,322.7 347.57,318.29 347.86,314.04 348.15,309.99 348.44,306.18 348.72,302.64 349.01,299.39 349.3,296.48 349.59,293.92 349.88,291.74 350.16,289.96 350.45,288.59 350.74,287.64 351.03,287.13 351.32,287.06 351.61,287.42 351.89,288.22 352.18,289.45 352.47,291.1 352.76,293.15 353.05,295.59 353.34,298.39 353.62,301.52 353.91,304.97 354.2,308.7 354.49,312.67 354.78,316.85 355.07,321.21 355.36,325.71 355.64,330.3 355.93,334.95 356.22,339.23 356.51,343.29 356.8,347.29 357.09,351.2 357.37,354.98 357.66,358.59 357.95,362.01 358.24,365.2 358.53,368.14 358.81,370.79 359.1,373.14 359.39,375.17 359.68,376.85 359.97,378.18 360.26,379.13 360.54,379.71 360.83,379.9 361.12,379.71 361.41,379.13 361.7,378.18 361.99,376.85 362.27,375.17 362.56,373.14 362.85,370.79 363.14,368.14 363.43,365.2 363.72,362.01 364,358.59 364.29,354.98 364.58,351.2 364.87,347.29 365.16,343.29 365.45,339.23 365.74,334.95 366.02,330.3 366.31,325.71 366.6,321.21 366.89,316.85 367.18,312.67 367.46,308.7 367.75,304.97 368.04,301.52 368.33,298.39 368.62,295.59 368.91,293.15 369.19,291.1 369.48,289.45 369.77,288.22 370.06,287.42 370.35,287.06 370.64,287.13 370.93,287.64 371.21,288.59 371.5,289.96 371.79,291.74 372.08,293.92 372.37,296.48 372.65,299.39 372.94,302.64 373.23,306.18 373.52,309.99 373.81,314.04 374.1,318.29 374.38,322.7 374.67,327.23 374.96,331.84 375.25,336.5 375.54,340.58 375.83,344.63 376.12,348.61 376.4,352.48 376.69,356.2 376.98,359.75 377.27,363.1 377.56,366.21 377.85,369.05 378.13,371.61 378.42,373.86 378.71,375.77 379,377.33 379.29,378.54 379.58,379.37 379.86,379.81 380.15,379.88 380.44,379.56 380.73,378.85 381.02,377.78 381.31,376.33 381.59,374.53 381.88,372.4 382.17,369.94 382.46,367.19 382.75,364.16 383.03,360.89 383.32,357.41 383.61,353.74 383.9,349.91 384.19,345.97 384.48,341.94 384.76,337.86 385.05,333.39 385.34,328.76 385.63,324.2 385.92,319.74 386.21,315.44 386.5,311.32 386.78,307.42 387.07,303.79 387.36,300.44 387.65,297.41 387.94,294.73 388.23,292.42 388.51,290.51 388.8,289 389.09,287.91 389.38,287.25 389.67,287.03 389.96,287.25 390.24,287.91 390.53,289 390.82,290.51 391.11,292.42 391.4,294.73 391.69,297.41 391.97,300.44 392.26,303.79 392.55,307.42 392.84,311.32 393.13,315.44 393.41,319.74 393.7,324.2 393.99,328.76 394.28,333.39 394.57,337.86 394.86,341.94 395.14,345.97 395.43,349.91 395.72,353.74 396.01,357.41 396.3,360.89 396.59,364.16 396.88,367.19 397.16,369.94 397.45,372.4 397.74,374.53 398.03,376.33 398.32,377.78 398.61,378.85 398.89,379.56 399.18,379.88 399.47,379.81 399.76,379.37 400.05,378.54 400.34,377.33 400.62,375.77 400.91,373.86 401.2,371.61 401.49,369.05 401.78,366.21 402.06,363.1 402.35,359.75 402.64,356.2 402.93,352.48 403.22,348.61 403.51,344.63 403.79,340.58 404.08,336.5" fill="none" stroke="#555" stroke-width="1.1" />
<polyline points="259.92,336.5 260.2,341.53 260.49,346.51 260.78,351.41 261.07,356.17 261.36,360.76 261.65,365.13 261.94,369.25 262.22,373.08 262.51,376.58 262.8,379.73 263.09,382.49 263.38,384.85 263.67,386.77 263.95,388.25 264.24,389.28 264.53,389.83 264.82,389.91 265.11,389.51 265.39,388.65 265.68,387.32 265.97,385.54 266.26,383.32 266.55,380.69 266.84,377.67 267.12,374.28 267.41,370.56 267.7,366.53 267.99,362.24 268.28,357.72 268.57,353.01 268.86,348.16 269.14,343.2 269.43,338.18 269.72,333.14 270.01,328.14 270.3,323.21 270.58,318.4 270.87,313.75 271.16,309.3 271.45,305.09 271.74,301.16 272.03,297.55 272.31,294.28 272.6,291.38 272.89,288.89 273.18,286.82 273.47,285.19 273.76,284.01 274.05,283.3 274.33,283.07 274.62,283.3 274.91,284.01 275.2,285.19 275.49,286.82 275.77,288.89 276.06,291.38 276.35,294.28 276.64,297.55 276.93,301.16 277.22,305.09 277.5,309.3 277.79,313.75 278.08,318.4 278.37,323.21 278.66,328.14 278.95,333.14 279.24,338.18 279.52,343.2 279.81,348.16 280.1,353.01 280.39,357.72 280.68,362.24 280.97,366.53 281.25,370.56 281.54,374.28 281.83,377.67 282.12,380.69 282.41,383.32 282.69,385.54 282.98,387.32 283.27,388.65 283.56,389.51 283.85,389.91 284.14,389.83 284.43,389.28 284.71,388.25 285,386.77 285.29,384.85 285.58,382.49 285.87,379.73 286.15,376.58 286.44,373.08 286.73,369.25 287.02,365.13 287.31,360.76 287.6,356.17 287.88,351.41 288.17,346.51 288.46,341.53 288.75,336.5 289.04,331.47 289.33,326.49 289.62,321.59 289.9,316.83 290.19,312.24 290.48,307.87 290.77,303.75 291.06,299.92 291.35,296.42 291.63,293.27 291.92,290.51 292.21,288.15 292.5,286.23 292.79,284.75 293.07,283.72 293.36,283.17 293.65,283.09 293.94,283.49 294.23,284.35 294.52,285.68 294.81,287.46 295.09,289.68 295.38,292.31 295.67,295.33 295.96,298.72 296.25,302.44 296.53,306.47 296.82,310.76 297.11,315.28 297.4,319.99 297.69,324.84 297.98,329.8 298.26,334.82 298.55,339.86 298.84,344.86 299.13,349.79 299.42,354.6 299.71,359.25 300,363.7 300.28,367.91 300.57,371.84 300.86,375.45 301.15,378.72 301.44,381.62 301.73,384.11 302.01,386.18 302.3,387.81 302.59,388.99 302.88,389.7 303.17,389.93 303.45,389.7 303.74,388.99 304.03,387.81 304.32,386.18 304.61,384.11 304.9,381.62 305.19,378.72 305.47,375.45 305.76,371.84 306.05,367.91 306.34,363.7 306.63,359.25 306.92,354.6 307.2,349.79 307.49,344.86 307.78,339.86 308.07,334.82 308.36,329.8 308.64,324.84 308.93,319.99 309.22,315.28 309.51,310.76 309.8,306.47 310.09,302.44 310.38,298.72 310.66,295.33 310.95,292.31 311.24,289.68 311.53,287.46 311.82,285.68 312.11,284.35 312.39,283.49 312.68,283.09 312.97,283.17 313.26,283.72 313.55,284.75 313.83,286.23 314.12,288.15 314.41,290.51 314.7,293.27 314.99,296.42 315.28,299.92 315.56,303.75 315.85,307.87 316.14,312.24 316.43,316.83 316.72,321.59 317.01,326.49 317.3,331.47 317.58,336.5 317.87,341.53 318.16,346.51 318.45,351.41 318.74,356.17 319.02,360.76 319.31,365.13 319.6,369.25 319.89,373.08 320.18,376.58 320.47,379.73 320.75,382.49 321.04,384.85 321.33,386.77 321.62,388.25 321.91,389.28 322.2,389.83 322.49,389.91 322.77,389.51 323.06,388.65 323.35,387.32 323.64,385.54 323.93,383.32 324.22,380.69 324.5,377.67 324.79,374.28 325.08,370.56 325.37,366.53 325.66,362.24 325.94,357.72 326.23,353.01 326.52,348.16 326.81,343.2 327.1,338.18 327.39,333.14 327.68,328.14 327.96,323.21 328.25,318.4 328.54,313.75 328.83,309.3 329.12,305.09 329.4,301.16 329.69,297.55 329.98,294.28 330.27,291.38 330.56,288.89 330.85,286.82 331.13,285.19 331.42,284.01 331.71,283.3 332,283.07 332.29,283.3 332.58,284.01 332.87,285.19 333.15,286.82 333.44,288.89 333.73,291.38 334.02,294.28 334.31,297.55 334.6,301.16 334.88,305.09 335.17,309.3 335.46,313.75 335.75,318.4 336.04,323.21 336.32,328.14 336.61,333.14 336.9,338.18 337.19,343.2 337.48,348.16 337.77,353.01 338.06,357.72 338.34,362.24 338.63,366.53 338.92,370.56 339.21,374.28 339.5,377.67 339.79,380.69 340.07,383.32 340.36,385.54 340.65,387.32 340.94,388.65 341.23,389.51 341.51,389.91 341.8,389.83 342.09,389.28 342.38,388.25 342.67,386.77 342.96,384.85 343.25,382.49 343.53,379.73 343.82,376.58 344.11,373.08 344.4,369.25 344.69,365.13 344.98,360.76 345.26,356.17 345.55,351.41 345.84,346.51 346.13,341.53 346.42,336.5 346.71,331.47 346.99,326.49 347.28,321.59 347.57,316.83 347.86,312.24 348.15,307.87 348.44,303.75 348.72,299.92 349.01,296.42 349.3,293.27 349.59,290.51 349.88,288.15 350.16,286.23 350.45,284.75 350.74,283.72 351.03,283.17 351.32,283.09 351.61,283.49 351.89,284.35 352.18,285.68 352.47,287.46 352.76,289.68 353.05,292.31 353.34,295.33 353.62,298.72 353.91,302.44 354.2,306.47 354.49,310.76 354.78,315.28 355.07,319.99 355.36,324.84 355.64,329.8 355.93,334.82 356.22,339.86 356.51,344.86 356.8,349.79 357.09,354.6 357.37,359.25 357.66,363.7 357.95,367.91 358.24,371.84 358.53,375.45 358.81,378.72 359.1,381.62 359.39,384.11 359.68,386.18 359.97,387.81 360.26,388.99 360.54,389.7 360.83,389.93 361.12,389.7 361.41,388.99 361.7,387.81 361.99,386.18 362.27,384.11 362.56,381.62 362.85,378.72 363.14,375.45 363.43,371.84 363.72,367.91 364,363.7 364.29,359.25 364.58,354.6 364.87,349.79 365.16,344.86 365.45,339.86 365.74,334.82 366.02,329.8 366.31,324.84 366.6,319.99 366.89,315.28 367.18,310.76 367.46,306.47 367.75,302.44 368.04,298.72 368.33,295.33 368.62,292.31 368.91,289.68 369.19,287.46 369.48,285.68 369.77,284.35 370.06,283.49 370.35,283.09 370.64,283.17 370.93,283.72 371.21,284.75 371.5,286.23 371.79,288.15 372.08,290.51 372.37,293.27 372.65,296.42 372.94,299.92 373.23,303.75 373.52,307.87 373.81,312.24 374.1,316.83 374.38,321.59 374.67,326.49 374.96,331.47 375.25,336.5 375.54,341.53 375.83,346.51 376.12,351.41 376.4,356.17 376.69,360.76 376.98,365.13 377.27,369.25 377.56,373.08 377.85,376.58 378.13,379.73 378.42,382.49 378.71,384.85 379,386.77 379.29,388.25 379.58,389.28 379.86,389.83 380.15,389.91 380.44,389.51 380.73,388.65 381.02,387.32 381.31,385.54 381.59,383.32 381.88,380.69 382.17,377.67 382.46,374.28 382.75,370.56 383.03,366.53 383.32,362.24 383.61,357.72 383.9,353.01 384.19,348.16 384.48,343.2 384.76,338.18 385.05,333.14 385.34,328.14 385.63,323.21 385.92,318.4 386.21,313.75 386.5,309.3 386.78,305.09 387.07,301.16 387.36,297.55 387.65,294.28 387.94,291.38 388.23,288.89 388.51,286.82 388.8,285.19 389.09,284.01 389.38,283.3 389.67,283.07 389.96,283.3 390.24,284.01 390.53,285.19 390.82,286.82 391.11,288.89 391.4,291.38 391.69,294.28 391.97,297.55 392.26,301.16 392.55,305.09 392.84,309.3 393.13,313.75 393.41,318.4 393.7,323.21 393.99,328.14 394.28,333.14 394.57,338.18 394.86,343.2 395.14,348.16 395.43,353.01 395.72,357.72 396.01,362.24 396.3,366.53 396.59,370.56 396.88,374.28 397.16,377.67 397.45,380.69 397.74,383.32 398.03,385.54 398.32,387.32 398.61,388.65 398.89,389.51 399.18,389.91 399.47,389.83 399.76,389.28 400.05,388.25 400.34,386.77 400.62,384.85 400.91,382.49 401.2,379.73 401.49,376.58 401.78,373.08 402.06,369.25 402.35,365.13 402.64,360.76 402.93,356.17 403.22,351.41 403.51,346.51 403.79,341.53 404.08,336.5 404.37,331.47 404.66,326.49" fill="none" stroke="#3f9a30" stroke-width="1.05" />
<text x="301.3" y="279" font-size="10.9" font-weight="bold" font-style="normal" text-anchor="start" fill="#3a8f2a" >Input signal</text>
<line x1="366" y1="274.6" x2="402" y2="274.6" stroke="#3a8f2a" stroke-width="2.6" />
<polygon points="400,270.6 409,274.6 400,278.6" fill="#3a8f2a" />
<text x="300" y="400" font-size="10.9" font-weight="bold" font-style="normal" text-anchor="start" fill="#000" >Output bending</text>
<line x1="262" y1="396.3" x2="296" y2="396.3" stroke="#000" stroke-width="2.6" />
<polygon points="263,392.3 254,396.3 263,400.3" fill="#000" />
<text x="331.7" y="427.1" font-size="10.6" font-weight="bold" font-style="normal" text-anchor="middle" fill="#000" >Time [s]</text>
<text transform="translate(227.2,336.5) rotate(-90)" font-size="10.5" font-weight="bold" text-anchor="middle"><tspan font-weight="normal">δ</tspan><tspan font-size="7" dy="3" font-weight="normal">z</tspan><tspan dy="-3"> [mm]</tspan></text>
<text transform="translate(436,336.5) rotate(90)" font-size="10.5" font-weight="bold" text-anchor="middle" fill="#3a9a2a">Electric field [V/µm]</text>
<rect x="481.5" y="276.12" width="172" height="14.9" fill="#f8e1e1" />
<rect x="481.5" y="382.66" width="172" height="14.9" fill="#e7edf7" />
<line x1="491.06" y1="407.5" x2="491.06" y2="404.5" stroke="#1a1a1a" stroke-width="1" />
<line x1="491.06" y1="269.5" x2="491.06" y2="272.5" stroke="#1a1a1a" stroke-width="1" />
<line x1="538.83" y1="407.5" x2="538.83" y2="404.5" stroke="#1a1a1a" stroke-width="1" />
<line x1="538.83" y1="269.5" x2="538.83" y2="272.5" stroke="#1a1a1a" stroke-width="1" />
<line x1="586.61" y1="407.5" x2="586.61" y2="404.5" stroke="#1a1a1a" stroke-width="1" />
<line x1="586.61" y1="269.5" x2="586.61" y2="272.5" stroke="#1a1a1a" stroke-width="1" />
<line x1="634.39" y1="407.5" x2="634.39" y2="404.5" stroke="#1a1a1a" stroke-width="1" />
<line x1="634.39" y1="269.5" x2="634.39" y2="272.5" stroke="#1a1a1a" stroke-width="1" />
<line x1="514.94" y1="407.5" x2="514.94" y2="405.8" stroke="#1a1a1a" stroke-width="0.8" />
<line x1="514.94" y1="269.5" x2="514.94" y2="271.2" stroke="#1a1a1a" stroke-width="0.8" />
<line x1="562.72" y1="407.5" x2="562.72" y2="405.8" stroke="#1a1a1a" stroke-width="0.8" />
<line x1="562.72" y1="269.5" x2="562.72" y2="271.2" stroke="#1a1a1a" stroke-width="0.8" />
<line x1="610.5" y1="407.5" x2="610.5" y2="405.8" stroke="#1a1a1a" stroke-width="0.8" />
<line x1="610.5" y1="269.5" x2="610.5" y2="271.2" stroke="#1a1a1a" stroke-width="0.8" />
<line x1="481.5" y1="407.5" x2="484.5" y2="407.5" stroke="#1a1a1a" stroke-width="1" />
<line x1="653.5" y1="407.5" x2="650.5" y2="407.5" stroke="#1a1a1a" stroke-width="1" />
<line x1="481.5" y1="379.9" x2="484.5" y2="379.9" stroke="#1a1a1a" stroke-width="1" />
<line x1="653.5" y1="379.9" x2="650.5" y2="379.9" stroke="#1a1a1a" stroke-width="1" />
<line x1="481.5" y1="352.3" x2="484.5" y2="352.3" stroke="#1a1a1a" stroke-width="1" />
<line x1="653.5" y1="352.3" x2="650.5" y2="352.3" stroke="#1a1a1a" stroke-width="1" />
<line x1="481.5" y1="324.7" x2="484.5" y2="324.7" stroke="#1a1a1a" stroke-width="1" />
<line x1="653.5" y1="324.7" x2="650.5" y2="324.7" stroke="#1a1a1a" stroke-width="1" />
<line x1="481.5" y1="297.1" x2="484.5" y2="297.1" stroke="#1a1a1a" stroke-width="1" />
<line x1="653.5" y1="297.1" x2="650.5" y2="297.1" stroke="#1a1a1a" stroke-width="1" />
<line x1="481.5" y1="269.5" x2="484.5" y2="269.5" stroke="#1a1a1a" stroke-width="1" />
<line x1="653.5" y1="269.5" x2="650.5" y2="269.5" stroke="#1a1a1a" stroke-width="1" />
<line x1="481.5" y1="393.7" x2="483.2" y2="393.7" stroke="#1a1a1a" stroke-width="0.8" />
<line x1="653.5" y1="393.7" x2="651.8" y2="393.7" stroke="#1a1a1a" stroke-width="0.8" />
<line x1="481.5" y1="366.1" x2="483.2" y2="366.1" stroke="#1a1a1a" stroke-width="0.8" />
<line x1="653.5" y1="366.1" x2="651.8" y2="366.1" stroke="#1a1a1a" stroke-width="0.8" />
<line x1="481.5" y1="338.5" x2="483.2" y2="338.5" stroke="#1a1a1a" stroke-width="0.8" />
<line x1="653.5" y1="338.5" x2="651.8" y2="338.5" stroke="#1a1a1a" stroke-width="0.8" />
<line x1="481.5" y1="310.9" x2="483.2" y2="310.9" stroke="#1a1a1a" stroke-width="0.8" />
<line x1="653.5" y1="310.9" x2="651.8" y2="310.9" stroke="#1a1a1a" stroke-width="0.8" />
<line x1="481.5" y1="283.3" x2="483.2" y2="283.3" stroke="#1a1a1a" stroke-width="0.8" />
<line x1="653.5" y1="283.3" x2="651.8" y2="283.3" stroke="#1a1a1a" stroke-width="0.8" />
<rect x="481.5" y="269.5" width="172" height="138" fill="none" stroke="#2a2a2a" stroke-width="1"/>
<text x="491.06" y="416.2" font-size="6.3" font-weight="bold" font-style="normal" text-anchor="middle" fill="#000" >0</text>
<text x="538.83" y="416.2" font-size="6.3" font-weight="bold" font-style="normal" text-anchor="middle" fill="#000" >5</text>
<text x="586.61" y="416.2" font-size="6.3" font-weight="bold" font-style="normal" text-anchor="middle" fill="#000" >10</text>
<text x="634.39" y="416.2" font-size="6.3" font-weight="bold" font-style="normal" text-anchor="middle" fill="#000" >15</text>
<text x="478.5" y="409.77" font-size="6.3" font-weight="bold" font-style="normal" text-anchor="end" fill="#000" >−10</text>
<text x="478.5" y="382.17" font-size="6.3" font-weight="bold" font-style="normal" text-anchor="end" fill="#000" >−5</text>
<text x="478.5" y="354.57" font-size="6.3" font-weight="bold" font-style="normal" text-anchor="end" fill="#000" >0</text>
<text x="478.5" y="326.97" font-size="6.3" font-weight="bold" font-style="normal" text-anchor="end" fill="#000" >5</text>
<text x="478.5" y="299.37" font-size="6.3" font-weight="bold" font-style="normal" text-anchor="end" fill="#000" >10</text>
<text x="478.5" y="271.77" font-size="6.3" font-weight="bold" font-style="normal" text-anchor="end" fill="#000" >15</text>
<polyline points="500.61,287.16 505.39,388.73 510.17,285.78 514.94,388.73 519.72,285.78 524.5,388.73 529.28,285.78 534.06,388.73 538.83,285.78 543.61,388.73 548.39,285.78 553.17,388.73 557.94,285.78 562.72,388.73 567.5,285.78 572.28,388.73 577.06,285.78 581.83,388.73 586.61,285.78 591.39,388.73 596.17,285.78 600.94,388.73 605.72,285.78 610.5,388.73 615.28,285.78 620.06,388.73 624.83,285.78 629.61,388.73 634.39,285.78 639.17,388.73" fill="none" stroke="#333" stroke-width="0.7" />
<rect x="499.21" y="285.76" width="2.8" height="2.8" fill="#000" />
<rect x="503.99" y="387.33" width="2.8" height="2.8" fill="#000" />
<rect x="508.77" y="284.38" width="2.8" height="2.8" fill="#000" />
<rect x="513.54" y="387.33" width="2.8" height="2.8" fill="#000" />
<rect x="518.32" y="284.38" width="2.8" height="2.8" fill="#000" />
<rect x="523.1" y="387.33" width="2.8" height="2.8" fill="#000" />
<rect x="527.88" y="284.38" width="2.8" height="2.8" fill="#000" />
<rect x="532.66" y="387.33" width="2.8" height="2.8" fill="#000" />
<rect x="537.43" y="284.38" width="2.8" height="2.8" fill="#000" />
<rect x="542.21" y="387.33" width="2.8" height="2.8" fill="#000" />
<rect x="546.99" y="284.38" width="2.8" height="2.8" fill="#000" />
<rect x="551.77" y="387.33" width="2.8" height="2.8" fill="#000" />
<rect x="556.54" y="284.38" width="2.8" height="2.8" fill="#000" />
<rect x="561.32" y="387.33" width="2.8" height="2.8" fill="#000" />
<rect x="566.1" y="284.38" width="2.8" height="2.8" fill="#000" />
<rect x="570.88" y="387.33" width="2.8" height="2.8" fill="#000" />
<rect x="575.66" y="284.38" width="2.8" height="2.8" fill="#000" />
<rect x="580.43" y="387.33" width="2.8" height="2.8" fill="#000" />
<rect x="585.21" y="284.38" width="2.8" height="2.8" fill="#000" />
<rect x="589.99" y="387.33" width="2.8" height="2.8" fill="#000" />
<rect x="594.77" y="284.38" width="2.8" height="2.8" fill="#000" />
<rect x="599.54" y="387.33" width="2.8" height="2.8" fill="#000" />
<rect x="604.32" y="284.38" width="2.8" height="2.8" fill="#000" />
<rect x="609.1" y="387.33" width="2.8" height="2.8" fill="#000" />
<rect x="613.88" y="284.38" width="2.8" height="2.8" fill="#000" />
<rect x="618.66" y="387.33" width="2.8" height="2.8" fill="#000" />
<rect x="623.43" y="284.38" width="2.8" height="2.8" fill="#000" />
<rect x="628.21" y="387.33" width="2.8" height="2.8" fill="#000" />
<rect x="632.99" y="284.38" width="2.8" height="2.8" fill="#000" />
<rect x="637.77" y="387.33" width="2.8" height="2.8" fill="#000" />
<text x="658" y="286.5" font-size="12.2" font-weight="bold" font-style="normal" text-anchor="start" fill="#ea2424" >+V<tspan font-size="8.5" dy="2.8">on</tspan></text>
<text x="658" y="393.5" font-size="12.2" font-weight="bold" font-style="normal" text-anchor="start" fill="#4f7ad4" >-V<tspan font-size="8.5" dy="2.8">on</tspan></text>
<text x="567" y="430.5" font-size="10.4" font-weight="bold" font-style="normal" text-anchor="middle" fill="#000" >Number of Cycles</text>
<text transform="translate(461.4,338.3) rotate(-90)" font-size="10" font-weight="bold" text-anchor="middle"><tspan font-weight="normal">δ</tspan><tspan font-size="7" dy="3" font-weight="normal">z</tspan><tspan dy="-3"> [mm]</tspan></text>
<line x1="40.55" y1="863.5" x2="40.55" y2="860.5" stroke="#1a1a1a" stroke-width="1" />
<line x1="40.55" y1="722.5" x2="40.55" y2="725.5" stroke="#1a1a1a" stroke-width="1" />
<line x1="80.77" y1="863.5" x2="80.77" y2="860.5" stroke="#1a1a1a" stroke-width="1" />
<line x1="80.77" y1="722.5" x2="80.77" y2="725.5" stroke="#1a1a1a" stroke-width="1" />
<line x1="121" y1="863.5" x2="121" y2="860.5" stroke="#1a1a1a" stroke-width="1" />
<line x1="121" y1="722.5" x2="121" y2="725.5" stroke="#1a1a1a" stroke-width="1" />
<line x1="161.23" y1="863.5" x2="161.23" y2="860.5" stroke="#1a1a1a" stroke-width="1" />
<line x1="161.23" y1="722.5" x2="161.23" y2="725.5" stroke="#1a1a1a" stroke-width="1" />
<line x1="201.45" y1="863.5" x2="201.45" y2="860.5" stroke="#1a1a1a" stroke-width="1" />
<line x1="201.45" y1="722.5" x2="201.45" y2="725.5" stroke="#1a1a1a" stroke-width="1" />
<line x1="60.66" y1="863.5" x2="60.66" y2="861.8" stroke="#1a1a1a" stroke-width="0.8" />
<line x1="60.66" y1="722.5" x2="60.66" y2="724.2" stroke="#1a1a1a" stroke-width="0.8" />
<line x1="100.89" y1="863.5" x2="100.89" y2="861.8" stroke="#1a1a1a" stroke-width="0.8" />
<line x1="100.89" y1="722.5" x2="100.89" y2="724.2" stroke="#1a1a1a" stroke-width="0.8" />
<line x1="141.11" y1="863.5" x2="141.11" y2="861.8" stroke="#1a1a1a" stroke-width="0.8" />
<line x1="141.11" y1="722.5" x2="141.11" y2="724.2" stroke="#1a1a1a" stroke-width="0.8" />
<line x1="181.34" y1="863.5" x2="181.34" y2="861.8" stroke="#1a1a1a" stroke-width="0.8" />
<line x1="181.34" y1="722.5" x2="181.34" y2="724.2" stroke="#1a1a1a" stroke-width="0.8" />
<line x1="32.5" y1="863.5" x2="35.5" y2="863.5" stroke="#1a1a1a" stroke-width="1" />
<line x1="209.5" y1="863.5" x2="206.5" y2="863.5" stroke="#1a1a1a" stroke-width="1" />
<line x1="32.5" y1="828.25" x2="35.5" y2="828.25" stroke="#1a1a1a" stroke-width="1" />
<line x1="209.5" y1="828.25" x2="206.5" y2="828.25" stroke="#1a1a1a" stroke-width="1" />
<line x1="32.5" y1="793" x2="35.5" y2="793" stroke="#1a1a1a" stroke-width="1" />
<line x1="209.5" y1="793" x2="206.5" y2="793" stroke="#1a1a1a" stroke-width="1" />
<line x1="32.5" y1="757.75" x2="35.5" y2="757.75" stroke="#1a1a1a" stroke-width="1" />
<line x1="209.5" y1="757.75" x2="206.5" y2="757.75" stroke="#1a1a1a" stroke-width="1" />
<line x1="32.5" y1="722.5" x2="35.5" y2="722.5" stroke="#1a1a1a" stroke-width="1" />
<line x1="209.5" y1="722.5" x2="206.5" y2="722.5" stroke="#1a1a1a" stroke-width="1" />
<line x1="32.5" y1="845.88" x2="34.2" y2="845.88" stroke="#1a1a1a" stroke-width="0.8" />
<line x1="209.5" y1="845.88" x2="207.8" y2="845.88" stroke="#1a1a1a" stroke-width="0.8" />
<line x1="32.5" y1="810.62" x2="34.2" y2="810.62" stroke="#1a1a1a" stroke-width="0.8" />
<line x1="209.5" y1="810.62" x2="207.8" y2="810.62" stroke="#1a1a1a" stroke-width="0.8" />
<line x1="32.5" y1="775.38" x2="34.2" y2="775.38" stroke="#1a1a1a" stroke-width="0.8" />
<line x1="209.5" y1="775.38" x2="207.8" y2="775.38" stroke="#1a1a1a" stroke-width="0.8" />
<line x1="32.5" y1="740.12" x2="34.2" y2="740.12" stroke="#1a1a1a" stroke-width="0.8" />
<line x1="209.5" y1="740.12" x2="207.8" y2="740.12" stroke="#1a1a1a" stroke-width="0.8" />
<rect x="32.5" y="722.5" width="177" height="141" fill="none" stroke="#2a2a2a" stroke-width="1"/>
<text x="40.55" y="872.2" font-size="6.6" font-weight="bold" font-style="normal" text-anchor="middle" fill="#000" >0</text>
<text x="80.77" y="872.2" font-size="6.6" font-weight="bold" font-style="normal" text-anchor="middle" fill="#000" >5000</text>
<text x="121" y="872.2" font-size="6.6" font-weight="bold" font-style="normal" text-anchor="middle" fill="#000" >10000</text>
<text x="161.23" y="872.2" font-size="6.6" font-weight="bold" font-style="normal" text-anchor="middle" fill="#000" >15000</text>
<text x="201.45" y="872.2" font-size="6.6" font-weight="bold" font-style="normal" text-anchor="middle" fill="#000" >20000</text>
<text x="29.5" y="865.88" font-size="6.6" font-weight="bold" font-style="normal" text-anchor="end" fill="#000" >0</text>
<text x="29.5" y="830.63" font-size="6.6" font-weight="bold" font-style="normal" text-anchor="end" fill="#000" >20</text>
<text x="29.5" y="795.38" font-size="6.6" font-weight="bold" font-style="normal" text-anchor="end" fill="#000" >40</text>
<text x="29.5" y="760.13" font-size="6.6" font-weight="bold" font-style="normal" text-anchor="end" fill="#000" >60</text>
<text x="29.5" y="724.88" font-size="6.6" font-weight="bold" font-style="normal" text-anchor="end" fill="#000" >80</text>
<polygon points="44.57,763.86 45.23,765.65 47.14,765.73 45.65,766.91 46.16,768.75 44.57,767.7 42.98,768.75 43.49,766.91 42,765.73 43.9,765.65" fill="#4a8ae8" />
<polygon points="48.59,768.8 49.26,770.58 51.16,770.66 49.67,771.85 50.18,773.68 48.59,772.63 47,773.68 47.51,771.85 46.02,770.66 47.92,770.58" fill="#4a8ae8" />
<polygon points="56.64,762.1 57.3,763.88 59.2,763.97 57.71,765.15 58.22,766.98 56.64,765.93 55.05,766.98 55.56,765.15 54.07,763.97 55.97,763.88" fill="#4a8ae8" />
<polygon points="64.68,758.57 65.35,760.36 67.25,760.44 65.76,761.63 66.27,763.46 64.68,762.41 63.09,763.46 63.6,761.63 62.11,760.44 64.02,760.36" fill="#4a8ae8" />
<polygon points="72.73,760.69 73.39,762.47 75.3,762.56 73.81,763.74 74.31,765.57 72.73,764.52 71.14,765.57 71.65,763.74 70.16,762.56 72.06,762.47" fill="#4a8ae8" />
<polygon points="80.77,753.11 81.44,754.89 83.34,754.98 81.85,756.16 82.36,758 80.77,756.95 79.19,758 79.69,756.16 78.2,754.98 80.11,754.89" fill="#4a8ae8" />
<polygon points="88.82,745.18 89.48,746.96 91.39,747.05 89.9,748.23 90.41,750.06 88.82,749.01 87.23,750.06 87.74,748.23 86.25,747.05 88.15,746.96" fill="#4a8ae8" />
<polygon points="96.86,754.17 97.53,755.95 99.43,756.03 97.94,757.22 98.45,759.05 96.86,758 95.28,759.05 95.79,757.22 94.3,756.03 96.2,755.95" fill="#4a8ae8" />
<polygon points="104.91,764.92 105.58,766.7 107.48,766.79 105.99,767.97 106.5,769.8 104.91,768.75 103.32,769.8 103.83,767.97 102.34,766.79 104.24,766.7" fill="#4a8ae8" />
<polygon points="112.95,760.34 113.62,762.12 115.52,762.2 114.03,763.39 114.54,765.22 112.95,764.17 111.37,765.22 111.88,763.39 110.39,762.2 112.29,762.12" fill="#4a8ae8" />
<polygon points="121,756.46 121.67,758.24 123.57,758.33 122.08,759.51 122.59,761.34 121,760.29 119.41,761.34 119.92,759.51 118.43,758.33 120.33,758.24" fill="#4a8ae8" />
<polygon points="129.05,763.16 129.71,764.94 131.61,765.02 130.12,766.21 130.63,768.04 129.05,766.99 127.46,768.04 127.97,766.21 126.48,765.02 128.38,764.94" fill="#4a8ae8" />
<polygon points="137.09,760.69 137.76,762.47 139.66,762.56 138.17,763.74 138.68,765.57 137.09,764.52 135.5,765.57 136.01,763.74 134.52,762.56 136.42,762.47" fill="#4a8ae8" />
<polygon points="145.14,760.69 145.8,762.47 147.7,762.56 146.21,763.74 146.72,765.57 145.14,764.52 143.55,765.57 144.06,763.74 142.57,762.56 144.47,762.47" fill="#4a8ae8" />
<polygon points="153.18,762.45 153.85,764.24 155.75,764.32 154.26,765.5 154.77,767.34 153.18,766.29 151.59,767.34 152.1,765.5 150.61,764.32 152.52,764.24" fill="#4a8ae8" />
<polygon points="161.23,762.45 161.89,764.24 163.8,764.32 162.31,765.5 162.81,767.34 161.23,766.29 159.64,767.34 160.15,765.5 158.66,764.32 160.56,764.24" fill="#4a8ae8" />
<polygon points="169.27,762.45 169.94,764.24 171.84,764.32 170.35,765.5 170.86,767.34 169.27,766.29 167.69,767.34 168.19,765.5 166.7,764.32 168.61,764.24" fill="#4a8ae8" />
<polygon points="177.32,765.45 177.98,767.23 179.89,767.31 178.4,768.5 178.91,770.33 177.32,769.28 175.73,770.33 176.24,768.5 174.75,767.31 176.65,767.23" fill="#4a8ae8" />
<polygon points="185.36,769.15 186.03,770.93 187.93,771.02 186.44,772.2 186.95,774.03 185.36,772.98 183.78,774.03 184.29,772.2 182.8,771.02 184.7,770.93" fill="#4a8ae8" />
<polygon points="193.41,768.09 194.08,769.88 195.98,769.96 194.49,771.14 195,772.98 193.41,771.93 191.82,772.98 192.33,771.14 190.84,769.96 192.74,769.88" fill="#4a8ae8" />
<polygon points="201.45,766.51 202.12,768.29 204.02,768.37 202.53,769.56 203.04,771.39 201.45,770.34 199.87,771.39 200.38,769.56 198.89,768.37 200.79,768.29" fill="#4a8ae8" />
<rect x="42.92" y="765.26" width="3.3" height="3.3" fill="#111" />
<rect x="46.94" y="777.43" width="3.3" height="3.3" fill="#111" />
<rect x="54.99" y="774.61" width="3.3" height="3.3" fill="#111" />
<rect x="63.03" y="775.31" width="3.3" height="3.3" fill="#111" />
<rect x="71.08" y="787.83" width="3.3" height="3.3" fill="#111" />
<rect x="79.12" y="793.47" width="3.3" height="3.3" fill="#111" />
<rect x="87.17" y="780.77" width="3.3" height="3.3" fill="#111" />
<rect x="95.21" y="779.37" width="3.3" height="3.3" fill="#111" />
<rect x="103.26" y="783.77" width="3.3" height="3.3" fill="#111" />
<rect x="111.3" y="786.77" width="3.3" height="3.3" fill="#111" />
<rect x="119.35" y="786.06" width="3.3" height="3.3" fill="#111" />
<rect x="127.4" y="779.01" width="3.3" height="3.3" fill="#111" />
<rect x="135.44" y="776.02" width="3.3" height="3.3" fill="#111" />
<rect x="143.49" y="774.43" width="3.3" height="3.3" fill="#111" />
<rect x="151.53" y="774.43" width="3.3" height="3.3" fill="#111" />
<rect x="159.58" y="776.02" width="3.3" height="3.3" fill="#111" />
<rect x="167.62" y="779.01" width="3.3" height="3.3" fill="#111" />
<rect x="175.67" y="783.77" width="3.3" height="3.3" fill="#111" />
<rect x="183.71" y="786.77" width="3.3" height="3.3" fill="#111" />
<rect x="191.76" y="783.77" width="3.3" height="3.3" fill="#111" />
<rect x="199.8" y="779.01" width="3.3" height="3.3" fill="#111" />
<rect x="44.7" y="840.7" width="3.2" height="3.2" fill="#111" />
<polygon points="46.3,849.1 47.02,851.01 49.06,851.1 47.46,852.38 48,854.35 46.3,853.22 44.6,854.35 45.14,852.38 43.54,851.1 45.58,851.01" fill="#4a8ae8" />
<text x="55.4" y="844.6" font-size="7" font-weight="bold" font-style="normal" text-anchor="start" fill="#000" >Mono50</text>
<text x="55.4" y="854.4" font-size="7" font-weight="bold" font-style="normal" text-anchor="start" fill="#000" >Bi50</text>
<text x="120.5" y="885.5" font-size="12" font-weight="bold" font-style="normal" text-anchor="middle" fill="#000" >Frequency [Hz]</text>
<text transform="translate(16.6,792.8) rotate(-90)" font-size="11.5" font-weight="bold" text-anchor="middle" textLength="49.5" lengthAdjust="spacingAndGlyphs">SPL [dB]</text>
<line x1="291.25" y1="862.5" x2="291.25" y2="859.5" stroke="#1a1a1a" stroke-width="1" />
<line x1="291.25" y1="722.5" x2="291.25" y2="725.5" stroke="#1a1a1a" stroke-width="1" />
<line x1="335" y1="862.5" x2="335" y2="859.5" stroke="#1a1a1a" stroke-width="1" />
<line x1="335" y1="722.5" x2="335" y2="725.5" stroke="#1a1a1a" stroke-width="1" />
<line x1="378.75" y1="862.5" x2="378.75" y2="859.5" stroke="#1a1a1a" stroke-width="1" />
<line x1="378.75" y1="722.5" x2="378.75" y2="725.5" stroke="#1a1a1a" stroke-width="1" />
<line x1="422.5" y1="862.5" x2="422.5" y2="859.5" stroke="#1a1a1a" stroke-width="1" />
<line x1="422.5" y1="722.5" x2="422.5" y2="725.5" stroke="#1a1a1a" stroke-width="1" />
<line x1="269.38" y1="862.5" x2="269.38" y2="860.8" stroke="#1a1a1a" stroke-width="0.8" />
<line x1="269.38" y1="722.5" x2="269.38" y2="724.2" stroke="#1a1a1a" stroke-width="0.8" />
<line x1="313.12" y1="862.5" x2="313.12" y2="860.8" stroke="#1a1a1a" stroke-width="0.8" />
<line x1="313.12" y1="722.5" x2="313.12" y2="724.2" stroke="#1a1a1a" stroke-width="0.8" />
<line x1="356.88" y1="862.5" x2="356.88" y2="860.8" stroke="#1a1a1a" stroke-width="0.8" />
<line x1="356.88" y1="722.5" x2="356.88" y2="724.2" stroke="#1a1a1a" stroke-width="0.8" />
<line x1="400.62" y1="862.5" x2="400.62" y2="860.8" stroke="#1a1a1a" stroke-width="0.8" />
<line x1="400.62" y1="722.5" x2="400.62" y2="724.2" stroke="#1a1a1a" stroke-width="0.8" />
<line x1="247.5" y1="862.5" x2="250.5" y2="862.5" stroke="#1a1a1a" stroke-width="1" />
<line x1="422.5" y1="862.5" x2="419.5" y2="862.5" stroke="#1a1a1a" stroke-width="1" />
<line x1="247.5" y1="827.5" x2="250.5" y2="827.5" stroke="#1a1a1a" stroke-width="1" />
<line x1="422.5" y1="827.5" x2="419.5" y2="827.5" stroke="#1a1a1a" stroke-width="1" />
<line x1="247.5" y1="792.5" x2="250.5" y2="792.5" stroke="#1a1a1a" stroke-width="1" />
<line x1="422.5" y1="792.5" x2="419.5" y2="792.5" stroke="#1a1a1a" stroke-width="1" />
<line x1="247.5" y1="757.5" x2="250.5" y2="757.5" stroke="#1a1a1a" stroke-width="1" />
<line x1="422.5" y1="757.5" x2="419.5" y2="757.5" stroke="#1a1a1a" stroke-width="1" />
<line x1="247.5" y1="722.5" x2="250.5" y2="722.5" stroke="#1a1a1a" stroke-width="1" />
<line x1="422.5" y1="722.5" x2="419.5" y2="722.5" stroke="#1a1a1a" stroke-width="1" />
<line x1="247.5" y1="845" x2="249.2" y2="845" stroke="#1a1a1a" stroke-width="0.8" />
<line x1="422.5" y1="845" x2="420.8" y2="845" stroke="#1a1a1a" stroke-width="0.8" />
<line x1="247.5" y1="810" x2="249.2" y2="810" stroke="#1a1a1a" stroke-width="0.8" />
<line x1="422.5" y1="810" x2="420.8" y2="810" stroke="#1a1a1a" stroke-width="0.8" />
<line x1="247.5" y1="775" x2="249.2" y2="775" stroke="#1a1a1a" stroke-width="0.8" />
<line x1="422.5" y1="775" x2="420.8" y2="775" stroke="#1a1a1a" stroke-width="0.8" />
<line x1="247.5" y1="740" x2="249.2" y2="740" stroke="#1a1a1a" stroke-width="0.8" />
<line x1="422.5" y1="740" x2="420.8" y2="740" stroke="#1a1a1a" stroke-width="0.8" />
<rect x="247.5" y="722.5" width="175" height="140" fill="none" stroke="#777" stroke-width="1.4"/>
<text x="291.25" y="871.2" font-size="6.5" font-weight="bold" font-style="normal" text-anchor="middle" fill="#000" >5000</text>
<text x="335" y="871.2" font-size="6.5" font-weight="bold" font-style="normal" text-anchor="middle" fill="#000" >10000</text>
<text x="378.75" y="871.2" font-size="6.5" font-weight="bold" font-style="normal" text-anchor="middle" fill="#000" >15000</text>
<text x="422.5" y="871.2" font-size="6.5" font-weight="bold" font-style="normal" text-anchor="middle" fill="#000" >20000</text>
<text x="244.5" y="864.84" font-size="6.5" font-weight="bold" font-style="normal" text-anchor="end" fill="#000" >0</text>
<text x="244.5" y="829.84" font-size="6.5" font-weight="bold" font-style="normal" text-anchor="end" fill="#000" >20</text>
<text x="244.5" y="794.84" font-size="6.5" font-weight="bold" font-style="normal" text-anchor="end" fill="#000" >40</text>
<text x="244.5" y="759.84" font-size="6.5" font-weight="bold" font-style="normal" text-anchor="end" fill="#000" >60</text>
<text x="244.5" y="724.84" font-size="6.5" font-weight="bold" font-style="normal" text-anchor="end" fill="#000" >80</text>
<clipPath id="ch30"><rect x="247.5" y="722.5" width="175.0" height="140.0"/></clipPath>
<path d="M248.47,810.7 C248.7,806.54 249.28,789.09 249.85,785.74 C250.43,782.38 251.13,792.21 251.93,790.59 C252.74,788.97 253.78,775.91 254.71,776.03 C255.63,776.14 256.44,791.05 257.48,791.28 C258.52,791.51 259.68,780.19 260.95,777.41 C262.22,774.64 263.72,774.64 265.11,774.64 C266.5,774.64 267.65,777.18 269.27,777.41 C270.89,777.64 273.09,775.33 274.82,776.03 C276.55,776.72 278.06,779.96 279.67,781.57 C281.29,783.19 283.14,784.58 284.53,785.74 C285.92,786.89 286.72,788.28 288,788.51 C289.27,788.74 290.77,787.24 292.16,787.12 C293.54,787.01 294.7,789.66 296.32,787.82 C297.94,785.97 300.25,778.68 301.87,776.03 C303.48,773.37 304.41,771.87 306.03,771.87 C307.64,771.87 308.8,774.06 311.57,776.03 C314.35,777.99 319.43,782.85 322.67,783.65 C325.91,784.46 328.96,781.11 330.99,780.88 C333.03,780.65 333.65,781.04 334.88,782.27 C336.1,783.5 336.36,786.56 338.32,788.25 C340.28,789.94 343.41,792.18 346.64,792.41 C349.88,792.64 353.58,791.26 357.74,789.64 C361.9,788.02 367.45,783.28 371.61,782.7 C375.77,782.13 378.31,784.32 382.7,786.17 C387.1,788.02 393.34,793.57 397.96,793.8 C402.58,794.03 406.51,788.6 410.44,787.56 C414.37,786.52 419.69,787.56 421.54,787.56" fill="none" stroke="#f02020" stroke-width="1.3" clip-path="url(#ch30)" stroke-linejoin="round"/>
<clipPath id="ch25"><rect x="247.5" y="722.5" width="175.0" height="140.0"/></clipPath>
<path d="M248.47,810.7 C248.7,805.85 249.28,785.5 249.85,781.57 C250.43,777.64 251.13,788.51 251.93,787.12 C252.74,785.74 253.78,773.02 254.71,773.25 C255.63,773.48 256.44,788.05 257.48,788.51 C258.52,788.97 259.68,778.8 260.95,776.03 C262.22,773.25 263.72,771.87 265.11,771.87 C266.5,771.87 267.65,775.56 269.27,776.03 C270.89,776.49 273.09,773.95 274.82,774.64 C276.55,775.33 278.06,778.34 279.67,780.19 C281.29,782.04 283.14,784.46 284.53,785.74 C285.92,787.01 286.72,787.82 288,787.82 C289.27,787.82 290.77,785.85 292.16,785.74 C293.54,785.62 294.7,788.97 296.32,787.12 C297.94,785.27 300.25,777.53 301.87,774.64 C303.48,771.75 304.41,770.02 306.03,769.79 C307.64,769.55 308.8,771.52 311.57,773.25 C314.35,774.99 319.43,779.49 322.67,780.19 C325.91,780.88 328.96,777.64 330.99,777.41 C333.03,777.18 332.73,776.99 334.88,778.8 C337.02,780.61 340.64,786.4 343.87,788.25 C347.1,790.11 349.65,790.89 354.27,789.92 C358.9,788.95 366.87,783.17 371.61,782.43 C376.35,781.69 378.54,783.81 382.7,785.48 C386.87,787.14 391.95,792.3 396.57,792.41 C401.2,792.53 406.28,787.1 410.44,786.17 C414.6,785.25 419.69,786.75 421.54,786.87" fill="none" stroke="#f86a20" stroke-width="1.3" clip-path="url(#ch25)" stroke-linejoin="round"/>
<clipPath id="ch20"><rect x="247.5" y="722.5" width="175.0" height="140.0"/></clipPath>
<path d="M248.47,809.31 C248.7,804.23 249.28,783.19 249.85,778.8 C250.43,774.41 251.13,784.35 251.93,782.96 C252.74,781.57 253.78,770.02 254.71,770.48 C255.63,770.94 256.44,785.27 257.48,785.74 C258.52,786.2 259.68,776.14 260.95,773.25 C262.22,770.36 263.72,768.4 265.11,768.4 C266.5,768.4 267.65,772.33 269.27,773.25 C270.89,774.18 273.09,773.37 274.82,773.95 C276.55,774.52 278.06,774.52 279.67,776.72 C281.29,778.92 283.14,784.93 284.53,787.12 C285.92,789.32 286.72,790.36 288,789.9 C289.27,789.43 290.77,785.04 292.16,784.35 C293.54,783.65 294.7,787.58 296.32,785.74 C297.94,783.89 300.25,776.49 301.87,773.25 C303.48,770.02 304.41,766.9 306.03,766.32 C307.64,765.74 308.8,768.05 311.57,769.79 C314.35,771.52 319.43,775.91 322.67,776.72 C325.91,777.53 328.96,774.75 330.99,774.64 C333.03,774.52 332.73,774.34 334.88,776.03 C337.02,777.72 340.52,782.56 343.87,784.79 C347.22,787.01 350.8,789.71 354.97,789.36 C359.13,789.02 364.67,783.47 368.83,782.7 C373,781.94 375.77,783.63 379.93,784.79 C384.09,785.94 389.18,789.52 393.8,789.64 C398.42,789.75 403.05,786.06 407.67,785.48 C412.29,784.9 419.23,786.06 421.54,786.17" fill="none" stroke="#f0f040" stroke-width="1.3" clip-path="url(#ch20)" stroke-linejoin="round"/>
<clipPath id="ch15"><rect x="247.5" y="722.5" width="175.0" height="140.0"/></clipPath>
<path d="M248.47,805.15 C248.7,799.84 249.28,777.41 249.85,773.25 C250.43,769.09 251.13,781.34 251.93,780.19 C252.74,779.03 253.78,765.86 254.71,766.32 C255.63,766.78 256.44,782.61 257.48,782.96 C258.52,783.31 259.68,771.17 260.95,768.4 C262.22,765.62 263.72,766.09 265.11,766.32 C266.5,766.55 267.65,768.63 269.27,769.79 C270.89,770.94 273.09,772.21 274.82,773.25 C276.55,774.29 278.17,773.71 279.67,776.03 C281.18,778.34 282.56,784.23 283.83,787.12 C285.11,790.01 286.03,793.59 287.3,793.36 C288.57,793.13 289.96,787.47 291.46,785.74 C292.97,784 294.58,785.74 296.32,782.96 C298.05,780.19 300.25,772.67 301.87,769.09 C303.48,765.51 304.41,762.16 306.03,761.46 C307.64,760.77 308.8,762.97 311.57,764.93 C314.35,766.9 319.43,772.33 322.67,773.25 C325.91,774.18 328.96,770.71 330.99,770.48 C333.03,770.25 334.35,771.68 334.88,771.87 C335.4,772.05 332.66,770.03 334.16,771.61 C335.66,773.18 340.4,778.43 343.87,781.32 C347.34,784.21 350.8,788.83 354.97,788.95 C359.13,789.06 364.67,782.59 368.83,782.01 C373,781.43 376,784.21 379.93,785.48 C383.86,786.75 388.02,789.18 392.41,789.64 C396.81,790.1 401.43,787.91 406.28,788.25 C411.14,788.6 419,791.14 421.54,791.72" fill="none" stroke="#40e030" stroke-width="1.3" clip-path="url(#ch15)" stroke-linejoin="round"/>
<clipPath id="ch10"><rect x="247.5" y="722.5" width="175.0" height="140.0"/></clipPath>
<path d="M248.05,792.67 C248.24,785.97 248.63,756.61 249.16,752.45 C249.69,748.29 250.32,767.01 251.24,767.7 C252.17,768.4 253.71,755.68 254.71,756.61 C255.7,757.53 256.28,772.1 257.21,773.25 C258.13,774.41 258.82,765.62 260.26,763.54 C261.69,761.46 264.3,760.77 265.8,760.77 C267.31,760.77 267.88,761.93 269.27,763.54 C270.66,765.16 272.39,768.63 274.13,770.48 C275.86,772.33 278.29,772.79 279.67,774.64 C281.06,776.49 281.29,777.53 282.45,781.57 C283.6,785.62 285.22,797.99 286.61,798.91 C288,799.84 289.15,789.78 290.77,787.12 C292.39,784.46 294.7,786.2 296.32,782.96 C297.94,779.72 298.86,772.21 300.48,767.7 C302.1,763.2 303.95,757.07 306.03,755.92 C308.11,754.76 310.19,758.57 312.96,760.77 C315.74,762.97 319.66,767.94 322.67,769.09 C325.67,770.25 328.96,767.94 330.99,767.7 C333.03,767.47 334.35,767.79 334.88,767.7 C335.4,767.62 332.66,765.36 334.16,767.17 C335.66,768.98 340.52,775.21 343.87,778.54 C347.22,781.87 350.57,787.37 354.27,787.14 C357.97,786.91 362.25,778.47 366.06,777.16 C369.88,775.84 372.76,779.28 377.16,779.24 C381.55,779.19 387.33,776.42 392.41,776.88 C397.5,777.34 402.82,780.76 407.67,782.01 C412.52,783.26 419.23,783.98 421.54,784.37" fill="none" stroke="#4a90f0" stroke-width="1.3" clip-path="url(#ch10)" stroke-linejoin="round"/>
<clipPath id="ch5"><rect x="247.5" y="722.5" width="175.0" height="140.0"/></clipPath>
<path d="M248.47,803.77 C248.63,791.98 248.98,741.12 249.44,733.03 C249.9,724.94 250.36,752.56 251.24,755.22 C252.12,757.88 253.71,747.13 254.71,748.98 C255.7,750.83 256.28,765.16 257.21,766.32 C258.13,767.47 259.05,757.72 260.26,755.92 C261.46,754.11 263.03,754.92 264.42,755.5 C265.8,756.08 267.31,758.16 268.58,759.38 C269.85,760.61 271.01,761.46 272.05,762.85 C273.09,764.24 273.78,765.97 274.82,767.7 C275.86,769.44 277.25,770.94 278.29,773.25 C279.33,775.56 280.14,778.45 281.06,781.57 C281.99,784.69 282.91,791.05 283.83,791.98 C284.76,792.9 285.57,788.62 286.61,787.12 C287.65,785.62 289.04,783.19 290.08,782.96 C291.12,782.73 291.81,784.69 292.85,785.74 C293.89,786.78 295.28,790.36 296.32,789.2 C297.36,788.05 298.17,783.31 299.09,778.8 C300.02,774.29 300.71,766.43 301.87,762.16 C303.02,757.88 304.64,754.07 306.03,753.14 C307.41,752.22 308.57,754.88 310.19,756.61 C311.81,758.34 313.65,761.58 315.74,763.54 C317.82,765.51 320.13,767.82 322.67,768.4 C325.21,768.98 328.96,767.13 330.99,767.01 C333.03,766.9 334.35,767.68 334.88,767.7 C335.4,767.73 333.12,766.06 334.16,767.17 C335.2,768.28 338.9,772.07 341.1,774.38 C343.29,776.69 345.03,780.99 347.34,781.04 C349.65,781.09 352.31,775.82 354.97,774.66 C357.62,773.5 359.59,775.31 363.29,774.11 C366.99,772.9 372.07,767.36 377.16,767.45 C382.24,767.54 388.48,774.08 393.8,774.66 C399.12,775.24 404.43,771.61 409.06,770.92 C413.68,770.22 419.46,770.57 421.54,770.5" fill="none" stroke="#c030f0" stroke-width="1.3" clip-path="url(#ch5)" stroke-linejoin="round"/>
<line x1="252.1" y1="813.8" x2="266.2" y2="813.8" stroke="#f02020" stroke-width="1.3" />
<text x="268.9" y="816.2" font-size="6.8" font-weight="bold" font-style="normal" text-anchor="start" fill="#000" >30cm</text>
<line x1="252.1" y1="822" x2="266.2" y2="822" stroke="#f86a20" stroke-width="1.3" />
<text x="268.9" y="824.4" font-size="6.8" font-weight="bold" font-style="normal" text-anchor="start" fill="#000" >25cm</text>
<line x1="252.1" y1="830.3" x2="266.2" y2="830.3" stroke="#f0f040" stroke-width="1.3" />
<text x="268.9" y="832.7" font-size="6.8" font-weight="bold" font-style="normal" text-anchor="start" fill="#000" >20cm</text>
<line x1="252.1" y1="838.9" x2="266.2" y2="838.9" stroke="#40e030" stroke-width="1.3" />
<text x="268.9" y="841.3" font-size="6.8" font-weight="bold" font-style="normal" text-anchor="start" fill="#000" >15cm</text>
<line x1="252.1" y1="847.2" x2="266.2" y2="847.2" stroke="#4a90f0" stroke-width="1.3" />
<text x="268.9" y="849.6" font-size="6.8" font-weight="bold" font-style="normal" text-anchor="start" fill="#000" >10cm</text>
<line x1="252.1" y1="855.5" x2="266.2" y2="855.5" stroke="#c030f0" stroke-width="1.3" />
<text x="268.9" y="857.9" font-size="6.8" font-weight="bold" font-style="normal" text-anchor="start" fill="#000" >5cm</text>
<text x="334.7" y="885.2" font-size="12" font-weight="bold" font-style="normal" text-anchor="middle" fill="#000" >Frequency [Hz]</text>
<text transform="translate(231.1,792.4) rotate(-90)" font-size="11.5" font-weight="bold" text-anchor="middle" textLength="49.3" lengthAdjust="spacingAndGlyphs">SPL [dB]</text>
<line x1="469.5" y1="861.5" x2="469.5" y2="858.5" stroke="#1a1a1a" stroke-width="1" />
<line x1="469.5" y1="722.5" x2="469.5" y2="725.5" stroke="#1a1a1a" stroke-width="1" />
<line x1="512.75" y1="861.5" x2="512.75" y2="858.5" stroke="#1a1a1a" stroke-width="1" />
<line x1="512.75" y1="722.5" x2="512.75" y2="725.5" stroke="#1a1a1a" stroke-width="1" />
<line x1="556" y1="861.5" x2="556" y2="858.5" stroke="#1a1a1a" stroke-width="1" />
<line x1="556" y1="722.5" x2="556" y2="725.5" stroke="#1a1a1a" stroke-width="1" />
<line x1="599.25" y1="861.5" x2="599.25" y2="858.5" stroke="#1a1a1a" stroke-width="1" />
<line x1="599.25" y1="722.5" x2="599.25" y2="725.5" stroke="#1a1a1a" stroke-width="1" />
<line x1="642.5" y1="861.5" x2="642.5" y2="858.5" stroke="#1a1a1a" stroke-width="1" />
<line x1="642.5" y1="722.5" x2="642.5" y2="725.5" stroke="#1a1a1a" stroke-width="1" />
<line x1="491.12" y1="861.5" x2="491.12" y2="859.8" stroke="#1a1a1a" stroke-width="0.8" />
<line x1="491.12" y1="722.5" x2="491.12" y2="724.2" stroke="#1a1a1a" stroke-width="0.8" />
<line x1="534.38" y1="861.5" x2="534.38" y2="859.8" stroke="#1a1a1a" stroke-width="0.8" />
<line x1="534.38" y1="722.5" x2="534.38" y2="724.2" stroke="#1a1a1a" stroke-width="0.8" />
<line x1="577.62" y1="861.5" x2="577.62" y2="859.8" stroke="#1a1a1a" stroke-width="0.8" />
<line x1="577.62" y1="722.5" x2="577.62" y2="724.2" stroke="#1a1a1a" stroke-width="0.8" />
<line x1="620.88" y1="861.5" x2="620.88" y2="859.8" stroke="#1a1a1a" stroke-width="0.8" />
<line x1="620.88" y1="722.5" x2="620.88" y2="724.2" stroke="#1a1a1a" stroke-width="0.8" />
<line x1="469.5" y1="861.5" x2="472.5" y2="861.5" stroke="#1a1a1a" stroke-width="1" />
<line x1="642.5" y1="861.5" x2="639.5" y2="861.5" stroke="#1a1a1a" stroke-width="1" />
<line x1="469.5" y1="826.75" x2="472.5" y2="826.75" stroke="#1a1a1a" stroke-width="1" />
<line x1="642.5" y1="826.75" x2="639.5" y2="826.75" stroke="#1a1a1a" stroke-width="1" />
<line x1="469.5" y1="792" x2="472.5" y2="792" stroke="#1a1a1a" stroke-width="1" />
<line x1="642.5" y1="792" x2="639.5" y2="792" stroke="#1a1a1a" stroke-width="1" />
<line x1="469.5" y1="757.25" x2="472.5" y2="757.25" stroke="#1a1a1a" stroke-width="1" />
<line x1="642.5" y1="757.25" x2="639.5" y2="757.25" stroke="#1a1a1a" stroke-width="1" />
<line x1="469.5" y1="722.5" x2="472.5" y2="722.5" stroke="#1a1a1a" stroke-width="1" />
<line x1="642.5" y1="722.5" x2="639.5" y2="722.5" stroke="#1a1a1a" stroke-width="1" />
<line x1="469.5" y1="844.12" x2="471.2" y2="844.12" stroke="#1a1a1a" stroke-width="0.8" />
<line x1="642.5" y1="844.12" x2="640.8" y2="844.12" stroke="#1a1a1a" stroke-width="0.8" />
<line x1="469.5" y1="809.38" x2="471.2" y2="809.38" stroke="#1a1a1a" stroke-width="0.8" />
<line x1="642.5" y1="809.38" x2="640.8" y2="809.38" stroke="#1a1a1a" stroke-width="0.8" />
<line x1="469.5" y1="774.62" x2="471.2" y2="774.62" stroke="#1a1a1a" stroke-width="0.8" />
<line x1="642.5" y1="774.62" x2="640.8" y2="774.62" stroke="#1a1a1a" stroke-width="0.8" />
<line x1="469.5" y1="739.88" x2="471.2" y2="739.88" stroke="#1a1a1a" stroke-width="0.8" />
<line x1="642.5" y1="739.88" x2="640.8" y2="739.88" stroke="#1a1a1a" stroke-width="0.8" />
<rect x="469.5" y="722.5" width="173" height="139" fill="none" stroke="#2a2a2a" stroke-width="1"/>
<text x="469.5" y="870.2" font-size="6" font-weight="bold" font-style="normal" text-anchor="middle" fill="#000" >0</text>
<text x="512.75" y="870.2" font-size="6" font-weight="bold" font-style="normal" text-anchor="middle" fill="#000" >5000</text>
<text x="556" y="870.2" font-size="6" font-weight="bold" font-style="normal" text-anchor="middle" fill="#000" >10000</text>
<text x="599.25" y="870.2" font-size="6" font-weight="bold" font-style="normal" text-anchor="middle" fill="#000" >15000</text>
<text x="642.5" y="870.2" font-size="6" font-weight="bold" font-style="normal" text-anchor="middle" fill="#000" >20000</text>
<text x="466.5" y="863.66" font-size="6" font-weight="bold" font-style="normal" text-anchor="end" fill="#000" >0</text>
<text x="466.5" y="828.91" font-size="6" font-weight="bold" font-style="normal" text-anchor="end" fill="#000" >20</text>
<text x="466.5" y="794.16" font-size="6" font-weight="bold" font-style="normal" text-anchor="end" fill="#000" >40</text>
<text x="466.5" y="759.41" font-size="6" font-weight="bold" font-style="normal" text-anchor="end" fill="#000" >60</text>
<text x="466.5" y="724.66" font-size="6" font-weight="bold" font-style="normal" text-anchor="end" fill="#000" >80</text>
<clipPath id="ci0"><rect x="469.5" y="722.5" width="173.0" height="139.0"/></clipPath>
<path d="M470.55,760.77 C470.69,756.03 471.1,734.53 471.38,732.34 C471.66,730.14 471.77,744.59 472.21,747.59 C472.65,750.6 473.37,750.14 474.02,750.37 C474.66,750.6 475.56,748.87 476.1,748.98 C476.63,749.1 476.86,748.87 477.21,751.06 C477.55,753.26 477.67,761.46 478.18,762.16 C478.68,762.85 479.45,756.72 480.26,755.22 C481.07,753.72 481.92,754.48 483.03,753.14 C484.14,751.8 485.64,747.76 486.91,747.18 C488.19,746.6 489.34,748.56 490.66,749.67 C491.98,750.78 493.66,752.22 494.82,753.83 C495.98,755.45 496.78,757.19 497.59,759.38 C498.4,761.58 498.87,765.74 499.67,767.01 C500.48,768.28 501.41,766.2 502.45,767.01 C503.49,767.82 504.53,772.67 505.92,771.87 C507.3,771.06 508.8,765.74 510.77,762.16 C512.73,758.57 515.35,753.65 517.7,750.37 C520.06,747.09 522.84,743.04 524.92,742.46 C527,741.88 528.15,744.2 530.19,746.9 C532.22,749.6 534.81,755.8 537.12,758.69 C539.43,761.58 541.98,763.24 544.06,764.24 C546.14,765.23 547.76,764.19 549.6,764.65 C551.45,765.12 553.42,766.55 555.15,767.01 C556.89,767.47 559.48,767.31 560.01,767.43 C560.54,767.54 556.52,768.7 558.32,767.7 C560.12,766.71 565.95,762.8 570.8,761.46 C575.66,760.12 582.82,760.35 587.45,759.66 C592.07,758.97 595.08,756.66 598.54,757.3 C602.01,757.95 604.32,761.16 608.25,763.54 C612.18,765.92 617.96,770.89 622.12,771.59 C626.28,772.28 629.98,769.28 633.22,767.7 C636.45,766.13 640.15,763.08 641.54,762.16" fill="none" stroke="#3a9c86" stroke-width="1.1" clip-path="url(#ci0)" stroke-linejoin="round"/>
<clipPath id="ci1"><rect x="469.5" y="722.5" width="173.0" height="139.0"/></clipPath>
<path d="M470.55,763.82 C470.69,759.08 471.1,737.58 471.38,735.39 C471.66,733.19 471.77,747.72 472.21,750.64 C472.65,753.57 473.37,752.87 474.02,752.92 C474.66,752.97 475.56,750.98 476.1,750.95 C476.63,750.92 476.86,750.62 477.21,752.72 C477.55,754.82 477.67,762.79 478.18,763.54 C478.68,764.3 479.45,758.52 480.26,757.27 C481.07,756.02 481.92,757.06 483.03,756.07 C484.14,755.08 485.64,751.71 486.91,751.34 C488.19,750.97 489.34,752.73 490.66,753.83 C491.98,754.94 493.66,756.38 494.82,758 C495.98,759.61 496.78,761.35 497.59,763.54 C498.4,765.74 498.87,769.9 499.67,771.17 C500.48,772.44 501.41,770.36 502.45,771.17 C503.49,771.98 504.53,776.88 505.92,776.03 C507.3,775.17 508.8,769.73 510.77,766.03 C512.73,762.34 515.35,757.26 517.7,753.84 C520.06,750.42 522.84,746.11 524.92,745.51 C527,744.92 528.15,747.43 530.19,750.26 C532.22,753.08 534.81,759.42 537.12,762.45 C539.43,765.47 541.98,767.36 544.06,768.4 C546.14,769.43 547.76,768.26 549.6,768.67 C551.45,769.08 553.42,770.47 555.15,770.88 C556.89,771.3 559.48,771.12 560.01,771.17 C560.54,771.22 556.52,772.21 558.32,771.17 C560.12,770.13 565.95,766.25 570.8,764.93 C575.66,763.61 582.82,763.96 587.45,763.27 C592.07,762.57 595.08,760.15 598.54,760.77 C602.01,761.39 604.32,764.58 608.25,767.01 C612.18,769.44 617.96,774.64 622.12,775.33 C626.28,776.03 629.98,772.79 633.22,771.17 C636.45,769.55 640.15,766.55 641.54,765.62" fill="none" stroke="#52b97c" stroke-width="1.1" clip-path="url(#ci1)" stroke-linejoin="round"/>
<clipPath id="ci2"><rect x="469.5" y="722.5" width="173.0" height="139.0"/></clipPath>
<path d="M470.55,768.4 C470.69,763.66 471.1,742.16 471.38,739.97 C471.66,737.77 471.77,752.32 472.21,755.22 C472.65,758.12 473.37,757.36 474.02,757.37 C474.66,757.37 475.56,755.32 476.1,755.25 C476.63,755.18 476.86,754.87 477.21,756.95 C477.55,759.02 477.67,766.94 478.18,767.7 C478.68,768.47 479.45,762.74 480.26,761.53 C481.07,760.32 481.92,761.4 483.03,760.46 C484.14,759.53 485.64,756.29 486.91,755.92 C488.19,755.54 489.34,757.16 490.66,758.19 C491.98,759.23 493.66,760.56 494.82,762.11 C495.98,763.66 496.78,765.35 497.59,767.5 C498.4,769.65 498.87,773.78 499.67,775 C500.48,776.23 501.41,774.09 502.45,774.84 C503.49,775.59 504.53,780.32 505.92,779.49 C507.3,778.66 508.8,773.41 510.77,769.86 C512.73,766.3 515.35,761.42 517.7,758.17 C520.06,754.92 522.84,750.94 524.92,750.37 C527,749.79 528.15,752.05 530.19,754.73 C532.22,757.4 534.81,763.56 537.12,766.42 C539.43,769.27 541.98,770.87 544.06,771.87 C546.14,772.86 547.76,771.88 549.6,772.38 C551.45,772.87 553.42,774.34 555.15,774.83 C556.89,775.32 559.48,775.25 560.01,775.33 C560.54,775.42 556.52,776.37 558.32,775.33 C560.12,774.29 565.95,770.48 570.8,769.09 C575.66,767.7 582.82,767.75 587.45,767.01 C592.07,766.27 595.08,764.08 598.54,764.65 C602.01,765.23 604.32,768.07 608.25,770.48 C612.18,772.88 617.96,778.38 622.12,779.08 C626.28,779.77 629.98,776.12 633.22,774.64 C636.45,773.16 640.15,770.94 641.54,770.2" fill="none" stroke="#7ed068" stroke-width="1.1" clip-path="url(#ci2)" stroke-linejoin="round"/>
<clipPath id="ci3"><rect x="469.5" y="722.5" width="173.0" height="139.0"/></clipPath>
<path d="M470.55,773.95 C470.69,769.21 471.1,747.71 471.38,745.51 C471.66,743.32 471.77,758.01 472.21,760.77 C472.65,763.53 473.37,762.37 474.02,762.08 C474.66,761.78 475.56,759.31 476.1,759 C476.63,758.68 476.86,758.26 477.21,760.17 C477.55,762.09 477.67,769.68 478.18,770.48 C478.68,771.28 479.45,765.91 480.26,764.96 C481.07,764.01 481.92,765.36 483.03,764.78 C484.14,764.19 485.64,761.59 486.91,761.46 C488.19,761.34 489.34,762.89 490.66,764.01 C491.98,765.14 493.66,766.6 494.82,768.24 C495.98,769.87 496.78,771.62 497.59,773.82 C498.4,776.03 498.87,780.2 499.67,781.48 C500.48,782.77 501.41,780.7 502.45,781.52 C503.49,782.35 504.53,787.25 505.92,786.43 C507.3,785.61 508.8,780.24 510.77,776.61 C512.73,772.99 515.35,768.01 517.7,764.67 C520.06,761.34 522.84,757.26 524.92,756.61 C527,755.96 528.15,758.18 530.19,760.78 C532.22,763.38 534.81,769.44 537.12,772.22 C539.43,774.99 541.98,776.38 544.06,777.41 C546.14,778.45 547.76,777.75 549.6,778.41 C551.45,779.06 553.42,780.7 555.15,781.35 C556.89,781.99 559.48,782.11 560.01,782.27 C560.54,782.42 556.52,783.42 558.32,782.27 C560.12,781.11 565.95,776.65 570.8,775.33 C575.66,774.02 582.82,775.06 587.45,774.36 C592.07,773.67 595.08,770.89 598.54,771.17 C602.01,771.45 604.32,773.6 608.25,776.03 C612.18,778.45 617.96,784.81 622.12,785.74 C626.28,786.66 629.98,783.19 633.22,781.57 C636.45,779.96 640.15,776.95 641.54,776.03" fill="none" stroke="#c4e45e" stroke-width="1.1" clip-path="url(#ci3)" stroke-linejoin="round"/>
<clipPath id="ci4"><rect x="469.5" y="722.5" width="173.0" height="139.0"/></clipPath>
<path d="M470.55,785.74 C470.69,781 471.1,759.5 471.38,757.3 C471.66,755.11 471.77,769.55 472.21,772.56 C472.65,775.56 473.37,775.1 474.02,775.33 C474.66,775.56 475.56,773.83 476.1,773.95 C476.63,774.06 476.86,773.83 477.21,776.03 C477.55,778.22 477.67,786.41 478.18,787.12 C478.68,787.83 479.45,781.75 480.26,780.29 C481.07,778.82 481.92,779.63 483.03,778.34 C484.14,777.05 485.64,773.14 486.91,772.56 C488.19,771.98 489.34,773.8 490.66,774.84 C491.98,775.87 493.66,777.2 494.82,778.75 C495.98,780.31 496.78,781.99 497.59,784.14 C498.4,786.29 498.87,790.42 499.67,791.65 C500.48,792.87 501.41,790.74 502.45,791.49 C503.49,792.23 504.53,796.95 505.92,796.14 C507.3,795.32 508.8,790.12 510.77,786.61 C512.73,783.09 515.35,778.27 517.7,775.07 C520.06,771.87 522.84,767.99 524.92,767.43 C527,766.86 528.15,769.04 530.19,771.67 C532.22,774.31 534.81,780.41 537.12,783.21 C539.43,786.02 541.98,787.82 544.06,788.51 C546.14,789.2 547.76,787.4 549.6,787.33 C551.45,787.26 553.42,788.13 555.15,788.1 C556.89,788.06 559.48,787.05 560.01,787.12 C560.54,787.19 556.52,789.66 558.32,788.51 C560.12,787.35 565.95,781.11 570.8,780.19 C575.66,779.26 582.82,782.78 587.45,782.96 C592.07,783.15 595.08,780.6 598.54,781.3 C602.01,781.99 604.32,784.65 608.25,787.12 C612.18,789.6 617.96,795.33 622.12,796.14 C626.28,796.95 629.98,793.59 633.22,791.98 C636.45,790.36 640.15,787.35 641.54,786.43" fill="none" stroke="#e8e850" stroke-width="1.1" clip-path="url(#ci4)" stroke-linejoin="round"/>
<line x1="474.5" y1="818.5" x2="488.5" y2="818.5" stroke="#e8e850" stroke-width="1.3" />
<text x="491" y="820.9" font-size="6.8" font-weight="bold" font-style="normal" text-anchor="start" fill="#000" >10V</text>
<line x1="474.5" y1="826.7" x2="488.5" y2="826.7" stroke="#c4e45e" stroke-width="1.3" />
<text x="491" y="829.1" font-size="6.8" font-weight="bold" font-style="normal" text-anchor="start" fill="#000" >20V</text>
<line x1="474.5" y1="834.9" x2="488.5" y2="834.9" stroke="#7ed068" stroke-width="1.3" />
<text x="491" y="837.3" font-size="6.8" font-weight="bold" font-style="normal" text-anchor="start" fill="#000" >30V</text>
<line x1="474.5" y1="843.1" x2="488.5" y2="843.1" stroke="#52b97c" stroke-width="1.3" />
<text x="491" y="845.5" font-size="6.8" font-weight="bold" font-style="normal" text-anchor="start" fill="#000" >40V</text>
<line x1="474.5" y1="851.3" x2="488.5" y2="851.3" stroke="#3a9c86" stroke-width="1.3" />
<text x="491" y="853.7" font-size="6.8" font-weight="bold" font-style="normal" text-anchor="start" fill="#000" >50V</text>
<text x="556" y="884.2" font-size="10.5" font-weight="bold" font-style="normal" text-anchor="middle" fill="#000" >Frequency [Hz]</text>
<text transform="translate(454.6,792.2) rotate(-90)" font-size="10.5" font-weight="bold" text-anchor="middle">SPL [dB]</text>
<rect x="1" y="467" width="657.2" height="194.3" fill="#000" />
<defs>
<pattern id="mesh" width="7" height="4.4" patternUnits="userSpaceOnUse" patternTransform="rotate(-8)">
<rect width="7" height="4.4" fill="#c4c0ae"/>
<ellipse cx="3.5" cy="2.2" rx="3.1" ry="1.35" fill="#4a4841"/>
<ellipse cx="0" cy="0" rx="1.2" ry="0.6" fill="#4a4841"/>
<ellipse cx="7" cy="0" rx="1.2" ry="0.6" fill="#4a4841"/>
<ellipse cx="0" cy="4.4" rx="1.2" ry="0.6" fill="#4a4841"/>
<ellipse cx="7" cy="4.4" rx="1.2" ry="0.6" fill="#4a4841"/>
</pattern>
<linearGradient id="gboxtop" x1="0" y1="0" x2="1" y2="0.3">
<stop offset="0" stop-color="#6a6b6f"/><stop offset="1" stop-color="#85868a"/></linearGradient>
<linearGradient id="gstrip" x1="0" y1="0" x2="1" y2="0">
<stop offset="0" stop-color="#e6e6ea"/><stop offset="0.4" stop-color="#f7f7f8"/><stop offset="1" stop-color="#eeeef0"/></linearGradient>
</defs>
<defs><g id="foam"><rect x="0" y="0" width="135" height="149" fill="#4d4a45"/>
<polygon points="-11.2,-5.06 -8.8,-5.06 -8,18.58 -10.4,18.58" fill="#2b2926"/>
<polygon points="-8.8,-5.06 -7.9,-5.06 -7.1,18.58 -8,18.58" fill="#55524c"/>
<polygon points="3.24,-5.7 5.76,-5.7 6.56,19.62 4.04,19.62" fill="#2a2825"/>
<polygon points="5.76,-5.7 6.66,-5.7 7.46,19.62 6.56,19.62" fill="#55524c"/>
<polygon points="17.94,-6.36 20.86,-6.36 21.66,20.69 18.74,20.69" fill="#272623"/>
<polygon points="20.86,-6.36 21.76,-6.36 22.56,20.69 21.66,20.69" fill="#55524c"/>
<polygon points="32.05,-7 35.35,-7 36.15,21.72 32.85,21.72" fill="#252422"/>
<polygon points="35.35,-7 36.25,-7 37.05,21.72 36.15,21.72" fill="#55524c"/>
<polygon points="47.64,-7.7 51.36,-7.7 52.16,22.86 48.44,22.86" fill="#222220"/>
<polygon points="51.36,-7.7 52.26,-7.7 53.06,22.86 52.16,22.86" fill="#55524c"/>
<polygon points="63.92,-8.43 68.08,-8.43 68.88,24.04 64.72,24.04" fill="#201f1f"/>
<polygon points="68.08,-8.43 68.98,-8.43 69.78,24.04 68.88,24.04" fill="#55524c"/>
<polygon points="85.63,-9.41 90.37,-9.41 91.17,25.62 86.43,25.62" fill="#1c1c1c"/>
<polygon points="90.37,-9.41 91.27,-9.41 92.07,25.62 91.17,25.62" fill="#55524c"/>
<polygon points="107.83,-10.41 113.17,-10.41 113.97,27.24 108.63,27.24" fill="#18191a"/>
<polygon points="113.17,-10.41 114.07,-10.41 114.87,27.24 113.97,27.24" fill="#55524c"/>
<polygon points="131.01,-11.46 136.99,-11.46 137.79,28.93 131.81,28.93" fill="#151618"/>
<polygon points="136.99,-11.46 137.89,-11.46 138.69,28.93 137.79,28.93" fill="#55524c"/>
<polygon points="157,-12.61 163,-12.61 163.8,30.8 157.8,30.8" fill="#151618"/>
<polygon points="163,-12.61 163.9,-12.61 164.7,30.8 163.8,30.8" fill="#55524c"/>
<polygon points="-9.7,23.69 -7.3,23.69 -6.5,47.39 -8.9,47.39" fill="#2b2926"/>
<polygon points="-7.3,23.69 -6.4,23.69 -5.6,47.39 -6.5,47.39" fill="#55524c"/>
<polygon points="4.72,24.73 7.28,24.73 8.08,50.13 5.52,50.13" fill="#2a2825"/>
<polygon points="7.28,24.73 8.18,24.73 8.98,50.13 8.08,50.13" fill="#55524c"/>
<polygon points="19.42,25.8 22.38,25.8 23.18,52.95 20.22,52.95" fill="#272623"/>
<polygon points="22.38,25.8 23.28,25.8 24.08,52.95 23.18,52.95" fill="#55524c"/>
<polygon points="33.53,26.83 36.87,26.83 37.67,55.65 34.33,55.65" fill="#252422"/>
<polygon points="36.87,26.83 37.77,26.83 38.57,55.65 37.67,55.65" fill="#55524c"/>
<polygon points="49.12,27.96 52.88,27.96 53.68,58.63 49.92,58.63" fill="#222120"/>
<polygon points="52.88,27.96 53.78,27.96 54.58,58.63 53.68,58.63" fill="#55524c"/>
<polygon points="65.4,29.15 69.6,29.15 70.4,61.75 66.2,61.75" fill="#201f1f"/>
<polygon points="69.6,29.15 70.5,29.15 71.3,61.75 70.4,61.75" fill="#55524c"/>
<polygon points="87.11,30.73 91.89,30.73 92.69,65.91 87.91,65.91" fill="#1c1c1c"/>
<polygon points="91.89,30.73 92.79,30.73 93.59,65.91 92.69,65.91" fill="#55524c"/>
<polygon points="109.31,32.35 114.69,32.35 115.49,70.16 110.11,70.16" fill="#18191a"/>
<polygon points="114.69,32.35 115.59,32.35 116.39,70.16 115.49,70.16" fill="#55524c"/>
<polygon points="132.5,34.04 138.5,34.04 139.3,74.59 133.3,74.59" fill="#151618"/>
<polygon points="138.5,34.04 139.4,34.04 140.2,74.59 139.3,74.59" fill="#55524c"/>
<polygon points="158.5,35.9 164.5,35.9 165.3,79.51 159.3,79.51" fill="#151618"/>
<polygon points="164.5,35.9 165.4,35.9 166.2,79.51 165.3,79.51" fill="#55524c"/>
<polygon points="-11.2,52.11 -8.8,52.11 -8,73.39 -10.4,73.39" fill="#2b2926"/>
<polygon points="-8.8,52.11 -7.9,52.11 -7.1,73.39 -8,73.39" fill="#55524c"/>
<polygon points="3.24,54.85 5.76,54.85 6.56,77.9 4.04,77.9" fill="#2a2825"/>
<polygon points="5.76,54.85 6.66,54.85 7.46,77.9 6.56,77.9" fill="#55524c"/>
<polygon points="17.94,57.66 20.86,57.66 21.66,82.54 18.74,82.54" fill="#272623"/>
<polygon points="20.86,57.66 21.76,57.66 22.56,82.54 21.66,82.54" fill="#55524c"/>
<polygon points="32.05,60.37 35.35,60.37 36.15,86.98 32.85,86.98" fill="#252422"/>
<polygon points="35.35,60.37 36.25,60.37 37.05,86.98 36.15,86.98" fill="#55524c"/>
<polygon points="47.64,63.35 51.36,63.35 52.16,91.9 48.44,91.9" fill="#222220"/>
<polygon points="51.36,63.35 52.26,63.35 53.06,91.9 52.16,91.9" fill="#55524c"/>
<polygon points="63.92,66.47 68.08,66.47 68.88,97.03 64.72,97.03" fill="#201f1f"/>
<polygon points="68.08,66.47 68.98,66.47 69.78,97.03 68.88,97.03" fill="#55524c"/>
<polygon points="85.63,70.62 90.37,70.62 91.17,103.88 86.43,103.88" fill="#1c1c1c"/>
<polygon points="90.37,70.62 91.27,70.62 92.07,103.88 91.17,103.88" fill="#55524c"/>
<polygon points="107.83,74.87 113.17,74.87 113.97,110.88 108.63,110.88" fill="#18191a"/>
<polygon points="113.17,74.87 114.07,74.87 114.87,110.88 113.97,110.88" fill="#55524c"/>
<polygon points="131.01,79.31 136.99,79.31 137.79,118.19 131.81,118.19" fill="#151618"/>
<polygon points="136.99,79.31 137.89,79.31 138.69,118.19 137.79,118.19" fill="#55524c"/>
<polygon points="157,84.22 163,84.22 163.8,126.28 157.8,126.28" fill="#151618"/>
<polygon points="163,84.22 163.9,84.22 164.7,126.28 163.8,126.28" fill="#55524c"/>
<polygon points="-9.7,78.86 -7.3,78.86 -6.5,97.25 -8.9,97.25" fill="#2b2926"/>
<polygon points="-7.3,78.86 -6.4,78.86 -5.6,97.25 -6.5,97.25" fill="#55524c"/>
<polygon points="4.72,83.37 7.28,83.37 8.08,103.64 5.52,103.64" fill="#2a2825"/>
<polygon points="7.28,83.37 8.18,83.37 8.98,103.64 8.08,103.64" fill="#55524c"/>
<polygon points="19.42,88 22.38,88 23.18,110.21 20.22,110.21" fill="#272623"/>
<polygon points="22.38,88 23.28,88 24.08,110.21 23.18,110.21" fill="#55524c"/>
<polygon points="33.53,92.45 36.87,92.45 37.67,116.51 34.33,116.51" fill="#252422"/>
<polygon points="36.87,92.45 37.77,92.45 38.57,116.51 37.67,116.51" fill="#55524c"/>
<polygon points="49.12,97.37 52.88,97.37 53.68,123.48 49.92,123.48" fill="#222120"/>
<polygon points="52.88,97.37 53.78,97.37 54.58,123.48 53.68,123.48" fill="#55524c"/>
<polygon points="65.4,102.5 69.6,102.5 70.4,130.75 66.2,130.75" fill="#201f1f"/>
<polygon points="69.6,102.5 70.5,102.5 71.3,130.75 70.4,130.75" fill="#55524c"/>
<polygon points="87.11,109.34 91.89,109.34 92.69,140.45 87.91,140.45" fill="#1c1c1c"/>
<polygon points="91.89,109.34 92.79,109.34 93.59,140.45 92.69,140.45" fill="#55524c"/>
<polygon points="109.31,116.34 114.69,116.34 115.49,150.36 110.11,150.36" fill="#18191a"/>
<polygon points="114.69,116.34 115.59,116.34 116.39,150.36 115.49,150.36" fill="#55524c"/>
<polygon points="132.5,123.66 138.5,123.66 139.3,160.72 133.3,160.72" fill="#151618"/>
<polygon points="138.5,123.66 139.4,123.66 140.2,160.72 139.3,160.72" fill="#55524c"/>
<polygon points="158.5,131.74 164.5,131.74 165.3,172.18 159.3,172.18" fill="#151618"/>
<polygon points="164.5,131.74 165.4,131.74 166.2,172.18 165.3,172.18" fill="#55524c"/>
<polygon points="-11.2,101.59 -8.8,101.59 -8,117.8 -10.4,117.8" fill="#2b2926"/>
<polygon points="-8.8,101.59 -7.9,101.59 -7.1,117.8 -8,117.8" fill="#55524c"/>
<polygon points="3.24,107.98 5.76,107.98 6.56,126.07 4.04,126.07" fill="#2a2825"/>
<polygon points="5.76,107.98 6.66,107.98 7.46,126.07 6.56,126.07" fill="#55524c"/>
<polygon points="17.94,114.55 20.86,114.55 21.66,134.57 18.74,134.57" fill="#272623"/>
<polygon points="20.86,114.55 21.76,114.55 22.56,134.57 21.66,134.57" fill="#55524c"/>
<polygon points="32.05,120.85 35.35,120.85 36.15,142.72 32.85,142.72" fill="#252422"/>
<polygon points="35.35,120.85 36.25,120.85 37.05,142.72 36.15,142.72" fill="#55524c"/>
<polygon points="47.64,127.82 51.36,127.82 52.16,151.73 48.44,151.73" fill="#222220"/>
<polygon points="51.36,127.82 52.26,127.82 53.06,151.73 52.16,151.73" fill="#55524c"/>
<polygon points="63.92,135.09 68.08,135.09 68.88,161.14 64.72,161.14" fill="#201f1f"/>
<polygon points="68.08,135.09 68.98,135.09 69.78,161.14 68.88,161.14" fill="#55524c"/>
<polygon points="85.63,144.79 90.37,144.79 91.17,173.69 86.43,173.69" fill="#1c1c1c"/>
<polygon points="90.37,144.79 91.27,144.79 92.07,173.69 91.17,173.69" fill="#55524c"/>
<polygon points="107.83,154.7 113.17,154.7 113.97,186.53 108.63,186.53" fill="#18191a"/>
<polygon points="113.17,154.7 114.07,154.7 114.87,186.53 113.97,186.53" fill="#55524c"/>
<polygon points="131.01,165.06 136.99,165.06 137.79,199.93 131.81,199.93" fill="#151618"/>
<polygon points="136.99,165.06 137.89,165.06 138.69,199.93 137.79,199.93" fill="#55524c"/>
<polygon points="157,176.52 163,176.52 163.8,214.76 157.8,214.76" fill="#151618"/>
<polygon points="163,176.52 163.9,176.52 164.7,214.76 163.8,214.76" fill="#55524c"/>
<polygon points="-9.7,123.65 -7.3,123.65 -6.5,139.52 -8.9,139.52" fill="#2b2926"/>
<polygon points="-7.3,123.65 -6.4,123.65 -5.6,139.52 -6.5,139.52" fill="#55524c"/>
<polygon points="4.72,131.92 7.28,131.92 8.08,149.72 5.52,149.72" fill="#2a2825"/>
<polygon points="7.28,131.92 8.18,131.92 8.98,149.72 8.08,149.72" fill="#55524c"/>
<polygon points="19.42,140.42 22.38,140.42 23.18,160.21 20.22,160.21" fill="#272623"/>
<polygon points="22.38,140.42 23.28,140.42 24.08,160.21 23.18,160.21" fill="#55524c"/>
<polygon points="33.53,148.58 36.87,148.58 37.67,170.27 34.33,170.27" fill="#252422"/>
<polygon points="36.87,148.58 37.77,148.58 38.57,170.27 37.67,170.27" fill="#55524c"/>
<polygon points="49.12,157.59 52.88,157.59 53.68,181.39 49.92,181.39" fill="#222120"/>
<polygon points="52.88,157.59 53.78,157.59 54.58,181.39 53.68,181.39" fill="#55524c"/>
<polygon points="65.4,167 69.6,167 70.4,193 66.2,193" fill="#201f1f"/>
<polygon points="69.6,167 70.5,167 71.3,193 70.4,193" fill="#55524c"/>
<polygon points="87.11,179.55 91.89,179.55 92.69,208.48 87.91,208.48" fill="#1c1c1c"/>
<polygon points="91.89,179.55 92.79,179.55 93.59,208.48 92.69,208.48" fill="#55524c"/>
<polygon points="109.31,192.38 114.69,192.38 115.49,224.31 110.11,224.31" fill="#18191a"/>
<polygon points="114.69,192.38 115.59,192.38 116.39,224.31 115.49,224.31" fill="#55524c"/>
<polygon points="132.5,205.79 138.5,205.79 139.3,240.85 133.3,240.85" fill="#151618"/>
<polygon points="138.5,205.79 139.4,205.79 140.2,240.85 139.3,240.85" fill="#55524c"/>
<polygon points="158.5,220.61 164.5,220.61 165.3,259.15 159.3,259.15" fill="#151618"/>
<polygon points="164.5,220.61 165.4,220.61 166.2,259.15 165.3,259.15" fill="#55524c"/>
<polygon points="-8.4,-10.23 3.5,-10.76 3.5,-5.56 -8.4,-5.03" fill="#0d0e10"/>
<polygon points="6.14,-10.92 18.4,-11.46 18.4,-6.17 6.14,-5.63" fill="#0d0e10"/>
<polygon points="21.19,-11.7 32.7,-12.21 32.7,-6.69 21.19,-6.18" fill="#0d0e10"/>
<polygon points="35.64,-12.45 48.5,-13.02 48.5,-7.29 35.64,-6.72" fill="#0d0e10"/>
<polygon points="51.59,-13.28 65,-13.88 65,-7.9 51.59,-7.31" fill="#0d0e10"/>
<polygon points="68.26,-14.15 87,-14.98 87,-8.75 68.26,-7.92" fill="#0d0e10"/>
<polygon points="90.48,-15.3 109.5,-16.15 109.5,-9.59 90.48,-8.74" fill="#0d0e10"/>
<polygon points="113.2,-16.48 133,-17.36 133,-10.46 113.2,-9.58" fill="#0d0e10"/>
<polygon points="136.94,-17.71 159,-18.69 159,-11.44 136.94,-10.46" fill="#0d0e10"/>
<polygon points="0,-5.4 135,-10.6 135,-8.4 0,-3.6" fill="#59554f"/>
<polygon points="0,-12.4 135,-19.4 135,-17.2 0,-10.6" fill="#3c3935"/>
<polygon points="-8.4,18.6 3.5,19.45 3.5,24.65 -8.4,23.8" fill="#0d0e10"/>
<polygon points="6.14,19.6 18.4,20.48 18.4,25.77 6.14,24.89" fill="#0d0e10"/>
<polygon points="21.19,20.56 32.7,21.39 32.7,26.91 21.19,26.08" fill="#0d0e10"/>
<polygon points="35.64,21.49 48.5,22.42 48.5,28.15 35.64,27.23" fill="#0d0e10"/>
<polygon points="51.59,22.52 65,23.48 65,29.46 51.59,28.49" fill="#0d0e10"/>
<polygon points="68.26,23.59 87,24.94 87,31.16 68.26,29.82" fill="#0d0e10"/>
<polygon points="90.48,25.02 109.5,26.39 109.5,32.95 90.48,31.58" fill="#0d0e10"/>
<polygon points="113.2,26.48 133,27.91 133,34.81 113.2,33.38" fill="#0d0e10"/>
<polygon points="136.94,28.01 159,29.6 159,36.85 136.94,35.27" fill="#0d0e10"/>
<polygon points="0,24.4 135,34.9 135,37.1 0,26.2" fill="#59554f"/>
<polygon points="0,17.4 135,26.1 135,28.3 0,19.2" fill="#3c3935"/>
<polygon points="-8.4,47.31 3.5,49.56 3.5,54.76 -8.4,52.51" fill="#0d0e10"/>
<polygon points="6.14,50.01 18.4,52.33 18.4,57.62 6.14,55.31" fill="#0d0e10"/>
<polygon points="21.19,52.74 32.7,54.92 32.7,60.44 21.19,58.26" fill="#0d0e10"/>
<polygon points="35.64,55.36 48.5,57.79 48.5,63.53 35.64,61.1" fill="#0d0e10"/>
<polygon points="51.59,58.26 65,60.79 65,66.76 51.59,64.23" fill="#0d0e10"/>
<polygon points="68.26,61.28 87,64.82 87,71.05 68.26,67.51" fill="#0d0e10"/>
<polygon points="90.48,65.31 109.5,68.9 109.5,75.46 90.48,71.87" fill="#0d0e10"/>
<polygon points="113.2,69.43 133,73.17 133,80.07 113.2,76.33" fill="#0d0e10"/>
<polygon points="136.94,73.74 159,77.91 159,85.16 136.94,80.99" fill="#0d0e10"/>
<polygon points="0,54.1 135,80.4 135,82.6 0,55.9" fill="#59554f"/>
<polygon points="0,47.1 135,71.6 135,73.8 0,48.9" fill="#3c3935"/>
<polygon points="-8.4,73.79 3.5,77.49 3.5,82.69 -8.4,78.99" fill="#0d0e10"/>
<polygon points="6.14,78.27 18.4,82.08 18.4,87.37 6.14,83.56" fill="#0d0e10"/>
<polygon points="21.19,82.83 32.7,86.41 32.7,91.93 21.19,88.35" fill="#0d0e10"/>
<polygon points="35.64,87.22 48.5,91.22 48.5,96.96 35.64,92.95" fill="#0d0e10"/>
<polygon points="51.59,92.06 65,96.24 65,102.21 51.59,98.04" fill="#0d0e10"/>
<polygon points="68.26,97.12 87,102.95 87,109.18 68.26,103.35" fill="#0d0e10"/>
<polygon points="90.48,103.87 109.5,109.79 109.5,116.35 90.48,110.43" fill="#0d0e10"/>
<polygon points="113.2,110.77 133,116.93 133,123.83 113.2,117.67" fill="#0d0e10"/>
<polygon points="136.94,117.98 159,124.84 159,132.09 136.94,125.23" fill="#0d0e10"/>
<polygon points="0,81.6 135,124.4 135,126.6 0,83.4" fill="#59554f"/>
<polygon points="0,74.6 135,115.6 135,117.8 0,76.4" fill="#3c3935"/>
<polygon points="-8.4,97.2 3.5,102.44 3.5,107.64 -8.4,102.4" fill="#0d0e10"/>
<polygon points="6.14,103.56 18.4,108.96 18.4,114.26 6.14,108.85" fill="#0d0e10"/>
<polygon points="21.19,110.08 32.7,115.15 32.7,120.67 21.19,115.6" fill="#0d0e10"/>
<polygon points="35.64,116.34 48.5,122.01 48.5,127.74 35.64,122.07" fill="#0d0e10"/>
<polygon points="51.59,123.25 65,129.16 65,135.14 51.59,129.23" fill="#0d0e10"/>
<polygon points="68.26,130.47 87,138.73 87,144.96 68.26,136.7" fill="#0d0e10"/>
<polygon points="90.48,140.1 109.5,148.48 109.5,155.04 90.48,146.66" fill="#0d0e10"/>
<polygon points="113.2,149.95 133,158.67 133,165.57 113.2,156.84" fill="#0d0e10"/>
<polygon points="136.94,160.23 159,169.95 159,177.2 136.94,167.48" fill="#0d0e10"/>
<polygon points="0,106.1 135,166.4 135,168.6 0,107.9" fill="#59554f"/>
<polygon points="0,99.1 135,157.6 135,159.8 0,100.9" fill="#3c3935"/>
<polygon points="-8.4,118.61 3.5,125.4 3.5,130.6 -8.4,123.81" fill="#0d0e10"/>
<polygon points="6.14,126.86 18.4,133.85 18.4,139.14 6.14,132.15" fill="#0d0e10"/>
<polygon points="21.19,135.33 32.7,141.89 32.7,147.41 21.19,140.85" fill="#0d0e10"/>
<polygon points="35.64,143.46 48.5,150.8 48.5,156.53 35.64,149.19" fill="#0d0e10"/>
<polygon points="51.59,152.44 65,160.09 65,166.06 51.59,158.42" fill="#0d0e10"/>
<polygon points="68.26,161.82 87,172.51 87,178.73 68.26,168.05" fill="#0d0e10"/>
<polygon points="90.48,174.33 109.5,185.18 109.5,191.73 90.48,180.89" fill="#0d0e10"/>
<polygon points="113.2,187.12 133,198.41 133,205.31 113.2,194.02" fill="#0d0e10"/>
<polygon points="136.94,200.48 159,213.06 159,220.32 136.94,207.73" fill="#0d0e10"/>
<polygon points="0,128.6 135,206.4 135,208.6 0,130.4" fill="#59554f"/>
<polygon points="0,121.6 135,197.6 135,199.8 0,123.4" fill="#3c3935"/>
<polygon points="-8.4,139.49 3.5,147.86 3.5,153.06 -8.4,144.69" fill="#0d0e10"/>
<polygon points="6.14,149.68 18.4,158.3 18.4,163.59 6.14,154.97" fill="#0d0e10"/>
<polygon points="21.19,160.16 32.7,168.25 32.7,173.77 21.19,165.67" fill="#0d0e10"/>
<polygon points="35.64,170.21 48.5,179.26 48.5,185 35.64,175.95" fill="#0d0e10"/>
<polygon points="51.59,181.32 65,190.75 65,196.73 51.59,187.29" fill="#0d0e10"/>
<polygon points="68.26,192.92 87,206.11 87,212.33 68.26,199.15" fill="#0d0e10"/>
<polygon points="90.48,208.39 109.5,221.78 109.5,228.33 90.48,214.95" fill="#0d0e10"/>
<polygon points="113.2,224.21 133,238.14 133,245.04 113.2,231.11" fill="#0d0e10"/>
<polygon points="136.94,240.74 159,256.26 159,263.52 136.94,247.99" fill="#0d0e10"/>
<polygon points="0,150.6 135,246.4 135,248.6 0,152.4" fill="#59554f"/>
<polygon points="0,143.6 135,237.6 135,239.8 0,145.4" fill="#3c3935"/>
<rect x="18.14" y="126.27" width="0.7" height="0.7" fill="#d4d0bf" opacity="0.55"/>
<rect x="103.11" y="38.01" width="0.7" height="0.7" fill="#d4d0bf" opacity="0.55"/>
<rect x="66.88" y="66.97" width="0.7" height="0.7" fill="#d4d0bf" opacity="0.55"/>
<rect x="87.97" y="117.52" width="0.7" height="0.7" fill="#d4d0bf" opacity="0.55"/>
<rect x="12.67" y="4.22" width="0.7" height="0.7" fill="#d4d0bf" opacity="0.55"/>
<rect x="112.83" y="64.48" width="0.7" height="0.7" fill="#d4d0bf" opacity="0.55"/>
<rect x="102.91" y="0.31" width="0.7" height="0.7" fill="#d4d0bf" opacity="0.55"/>
<rect x="60.13" y="107.51" width="0.7" height="0.7" fill="#d4d0bf" opacity="0.55"/>
<rect x="30.88" y="140.85" width="0.7" height="0.7" fill="#d4d0bf" opacity="0.55"/>
<rect x="121.69" y="4.56" width="0.7" height="0.7" fill="#d4d0bf" opacity="0.55"/>
<rect x="3.44" y="80.67" width="0.7" height="0.7" fill="#d4d0bf" opacity="0.55"/>
<rect x="126.79" y="56.8" width="0.7" height="0.7" fill="#d4d0bf" opacity="0.55"/>
<rect x="29.24" y="62.9" width="0.7" height="0.7" fill="#d4d0bf" opacity="0.55"/>
<rect x="3.92" y="33.03" width="0.7" height="0.7" fill="#d4d0bf" opacity="0.55"/>
<rect x="59.11" y="73.88" width="0.7" height="0.7" fill="#d4d0bf" opacity="0.55"/>
<rect x="31.47" y="34.4" width="0.7" height="0.7" fill="#d4d0bf" opacity="0.55"/>
<rect x="29.54" y="68.48" width="0.7" height="0.7" fill="#d4d0bf" opacity="0.55"/>
<rect x="39.12" y="3.2" width="0.7" height="0.7" fill="#d4d0bf" opacity="0.55"/>
<rect x="113.07" y="82.91" width="0.7" height="0.7" fill="#d4d0bf" opacity="0.55"/>
<rect x="86.71" y="27.7" width="0.7" height="0.7" fill="#d4d0bf" opacity="0.55"/>
<rect x="133.99" y="128.13" width="0.7" height="0.7" fill="#d4d0bf" opacity="0.55"/>
<rect x="16.32" y="49.57" width="0.7" height="0.7" fill="#d4d0bf" opacity="0.55"/>
<rect x="97.4" y="105.97" width="0.7" height="0.7" fill="#d4d0bf" opacity="0.55"/>
<rect x="126.42" y="62.89" width="0.7" height="0.7" fill="#d4d0bf" opacity="0.55"/>
<rect x="112.05" y="99.88" width="0.7" height="0.7" fill="#d4d0bf" opacity="0.55"/>
<rect x="40.95" y="87.55" width="0.7" height="0.7" fill="#d4d0bf" opacity="0.55"/>
<rect x="119.13" y="126.08" width="0.7" height="0.7" fill="#d4d0bf" opacity="0.55"/>
<rect x="68.21" y="87.76" width="0.7" height="0.7" fill="#d4d0bf" opacity="0.55"/>
<rect x="4.66" y="36.17" width="0.7" height="0.7" fill="#d4d0bf" opacity="0.55"/>
<rect x="107.65" y="61.73" width="0.7" height="0.7" fill="#d4d0bf" opacity="0.55"/>
<rect x="23.36" y="81.77" width="0.7" height="0.7" fill="#d4d0bf" opacity="0.55"/>
<rect x="94.91" y="100.5" width="0.7" height="0.7" fill="#d4d0bf" opacity="0.55"/>
<rect x="50.58" y="65.41" width="0.7" height="0.7" fill="#d4d0bf" opacity="0.55"/>
<rect x="68.64" y="115.99" width="0.7" height="0.7" fill="#d4d0bf" opacity="0.55"/>
<rect x="70.33" y="58.6" width="0.7" height="0.7" fill="#d4d0bf" opacity="0.55"/>
<rect x="66.11" y="4.41" width="0.7" height="0.7" fill="#d4d0bf" opacity="0.55"/>
<rect x="5.87" y="104.8" width="0.7" height="0.7" fill="#d4d0bf" opacity="0.55"/>
<rect x="132.73" y="88.38" width="0.7" height="0.7" fill="#d4d0bf" opacity="0.55"/>
<rect x="53.14" y="25.38" width="0.7" height="0.7" fill="#d4d0bf" opacity="0.55"/>
<rect x="67.8" y="146.33" width="0.7" height="0.7" fill="#d4d0bf" opacity="0.55"/>
<rect x="104.02" y="80.4" width="0.7" height="0.7" fill="#d4d0bf" opacity="0.55"/>
<rect x="116.14" y="34.59" width="0.7" height="0.7" fill="#d4d0bf" opacity="0.55"/>
<rect x="69.36" y="141.92" width="0.7" height="0.7" fill="#d4d0bf" opacity="0.55"/>
<rect x="78" y="68.41" width="0.7" height="0.7" fill="#d4d0bf" opacity="0.55"/>
<rect x="36.35" y="81.65" width="0.7" height="0.7" fill="#d4d0bf" opacity="0.55"/>
<rect x="129.21" y="0.85" width="0.7" height="0.7" fill="#d4d0bf" opacity="0.55"/>
<rect x="105.79" y="122.25" width="0.7" height="0.7" fill="#d4d0bf" opacity="0.55"/>
<rect x="119.63" y="110.34" width="0.7" height="0.7" fill="#d4d0bf" opacity="0.55"/>
<rect x="109.23" y="77.28" width="0.7" height="0.7" fill="#d4d0bf" opacity="0.55"/>
<rect x="75.78" y="63.49" width="0.7" height="0.7" fill="#d4d0bf" opacity="0.55"/>
<rect x="7.58" y="129.63" width="0.7" height="0.7" fill="#d4d0bf" opacity="0.55"/>
<rect x="76.95" y="29.78" width="0.7" height="0.7" fill="#d4d0bf" opacity="0.55"/>
<rect x="68.14" y="72.25" width="0.7" height="0.7" fill="#d4d0bf" opacity="0.55"/>
<rect x="48.17" y="51.57" width="0.7" height="0.7" fill="#d4d0bf" opacity="0.55"/>
<rect x="72.69" y="92.9" width="0.7" height="0.7" fill="#d4d0bf" opacity="0.55"/>
<rect x="82.68" y="68.26" width="0.7" height="0.7" fill="#d4d0bf" opacity="0.55"/>
<rect x="3.78" y="34.21" width="0.7" height="0.7" fill="#d4d0bf" opacity="0.55"/>
<rect x="23.92" y="87.08" width="0.7" height="0.7" fill="#d4d0bf" opacity="0.55"/>
<rect x="116.24" y="118.97" width="0.7" height="0.7" fill="#d4d0bf" opacity="0.55"/>
<rect x="107.61" y="121.65" width="0.7" height="0.7" fill="#d4d0bf" opacity="0.55"/>
<rect x="34.46" y="125.42" width="0.7" height="0.7" fill="#d4d0bf" opacity="0.55"/>
<rect x="90.87" y="12.4" width="0.7" height="0.7" fill="#d4d0bf" opacity="0.55"/>
<rect x="2.25" y="2.17" width="0.7" height="0.7" fill="#d4d0bf" opacity="0.55"/>
<rect x="102" y="37.18" width="0.7" height="0.7" fill="#d4d0bf" opacity="0.55"/>
<rect x="14.78" y="93.1" width="0.7" height="0.7" fill="#d4d0bf" opacity="0.55"/>
<rect x="46.5" y="10.36" width="0.7" height="0.7" fill="#d4d0bf" opacity="0.55"/>
<rect x="21.55" y="78.58" width="0.7" height="0.7" fill="#d4d0bf" opacity="0.55"/>
<rect x="22.7" y="40.66" width="0.7" height="0.7" fill="#d4d0bf" opacity="0.55"/>
<rect x="96.06" y="67.75" width="0.7" height="0.7" fill="#d4d0bf" opacity="0.55"/>
<rect x="43.47" y="70.59" width="0.7" height="0.7" fill="#d4d0bf" opacity="0.55"/>
<rect x="3.19" y="57.6" width="0.7" height="0.7" fill="#d4d0bf" opacity="0.55"/>
<rect x="56.82" y="28.02" width="0.7" height="0.7" fill="#d4d0bf" opacity="0.55"/>
<rect x="14.68" y="134.07" width="0.7" height="0.7" fill="#d4d0bf" opacity="0.55"/>
<rect x="68.87" y="31.15" width="0.7" height="0.7" fill="#d4d0bf" opacity="0.55"/>
<rect x="81.76" y="121.74" width="0.7" height="0.7" fill="#d4d0bf" opacity="0.55"/>
<rect x="2.81" y="2.66" width="0.7" height="0.7" fill="#d4d0bf" opacity="0.55"/>
<rect x="19.77" y="107.11" width="0.7" height="0.7" fill="#d4d0bf" opacity="0.55"/>
<rect x="21.63" y="104.99" width="0.7" height="0.7" fill="#d4d0bf" opacity="0.55"/>
<rect x="91.55" y="81.16" width="0.7" height="0.7" fill="#d4d0bf" opacity="0.55"/>
<rect x="29.78" y="145.36" width="0.7" height="0.7" fill="#d4d0bf" opacity="0.55"/>
<rect x="107.7" y="76.97" width="0.7" height="0.7" fill="#d4d0bf" opacity="0.55"/>
<rect x="30.13" y="96.63" width="0.7" height="0.7" fill="#d4d0bf" opacity="0.55"/>
<rect x="53.31" y="85.8" width="0.7" height="0.7" fill="#d4d0bf" opacity="0.55"/>
<rect x="43.37" y="94.01" width="0.7" height="0.7" fill="#d4d0bf" opacity="0.55"/>
<rect x="7.94" y="44.49" width="0.7" height="0.7" fill="#d4d0bf" opacity="0.55"/>
<rect x="130.67" y="130.45" width="0.7" height="0.7" fill="#d4d0bf" opacity="0.55"/>
<rect x="41.36" y="127.92" width="0.7" height="0.7" fill="#d4d0bf" opacity="0.55"/>
<rect x="41.9" y="139.95" width="0.7" height="0.7" fill="#d4d0bf" opacity="0.55"/>
<rect x="100.42" y="62.01" width="0.7" height="0.7" fill="#d4d0bf" opacity="0.55"/>
<rect x="34.07" y="1.26" width="0.7" height="0.7" fill="#d4d0bf" opacity="0.55"/>
<rect x="118.63" y="5.65" width="0.7" height="0.7" fill="#d4d0bf" opacity="0.55"/>
<rect x="110.62" y="143.37" width="0.7" height="0.7" fill="#d4d0bf" opacity="0.55"/>
<rect x="76.99" y="25.56" width="0.7" height="0.7" fill="#d4d0bf" opacity="0.55"/>
<rect x="117.15" y="145.09" width="0.7" height="0.7" fill="#d4d0bf" opacity="0.55"/>
<rect x="95.04" y="75.82" width="0.7" height="0.7" fill="#d4d0bf" opacity="0.55"/>
<rect x="51.03" y="51.69" width="0.7" height="0.7" fill="#d4d0bf" opacity="0.55"/>
<rect x="27.78" y="100.45" width="0.7" height="0.7" fill="#d4d0bf" opacity="0.55"/>
<rect x="58.45" y="28.92" width="0.7" height="0.7" fill="#d4d0bf" opacity="0.55"/>
<rect x="14.1" y="99.23" width="0.7" height="0.7" fill="#d4d0bf" opacity="0.55"/>
<rect x="39.97" y="74.47" width="0.7" height="0.7" fill="#d4d0bf" opacity="0.55"/>
<rect x="43.92" y="129.87" width="0.7" height="0.7" fill="#d4d0bf" opacity="0.55"/>
<rect x="121.46" y="2.7" width="0.7" height="0.7" fill="#d4d0bf" opacity="0.55"/>
<rect x="27.12" y="48.83" width="0.7" height="0.7" fill="#d4d0bf" opacity="0.55"/>
<rect x="133.25" y="116.62" width="0.7" height="0.7" fill="#d4d0bf" opacity="0.55"/>
<rect x="45.78" y="31.74" width="0.7" height="0.7" fill="#d4d0bf" opacity="0.55"/>
<rect x="91.05" y="124.82" width="0.7" height="0.7" fill="#d4d0bf" opacity="0.55"/>
<rect x="125.85" y="51.23" width="0.7" height="0.7" fill="#d4d0bf" opacity="0.55"/>
<rect x="119.12" y="102.38" width="0.7" height="0.7" fill="#d4d0bf" opacity="0.55"/>
<rect x="65.41" y="146.84" width="0.7" height="0.7" fill="#d4d0bf" opacity="0.55"/>
<rect x="31.68" y="108.09" width="0.7" height="0.7" fill="#d4d0bf" opacity="0.55"/>
<rect x="11.43" y="25.28" width="0.7" height="0.7" fill="#d4d0bf" opacity="0.55"/>
<rect x="122.98" y="31.73" width="0.7" height="0.7" fill="#d4d0bf" opacity="0.55"/>
<rect x="102.48" y="89.43" width="0.7" height="0.7" fill="#d4d0bf" opacity="0.55"/>
<rect x="113.55" y="54.85" width="0.7" height="0.7" fill="#d4d0bf" opacity="0.55"/>
<rect x="45.94" y="43.39" width="0.7" height="0.7" fill="#d4d0bf" opacity="0.55"/>
<rect x="117.1" y="89.99" width="0.7" height="0.7" fill="#d4d0bf" opacity="0.55"/>
<rect x="128.83" y="132.2" width="0.7" height="0.7" fill="#d4d0bf" opacity="0.55"/>
<rect x="18.27" y="82.12" width="0.7" height="0.7" fill="#d4d0bf" opacity="0.55"/>
<rect x="14.08" y="5.83" width="0.7" height="0.7" fill="#d4d0bf" opacity="0.55"/>
<rect x="9.88" y="129.06" width="0.7" height="0.7" fill="#d4d0bf" opacity="0.55"/>
<rect x="106.4" y="123.45" width="0.7" height="0.7" fill="#d4d0bf" opacity="0.55"/>
<rect x="46.02" y="91.66" width="0.7" height="0.7" fill="#d4d0bf" opacity="0.55"/>
<rect x="105.56" y="56.33" width="0.7" height="0.7" fill="#d4d0bf" opacity="0.55"/>
<rect x="77.06" y="33.33" width="0.7" height="0.7" fill="#d4d0bf" opacity="0.55"/>
<rect x="11.04" y="39.74" width="0.7" height="0.7" fill="#d4d0bf" opacity="0.55"/>
<rect x="120.25" y="84.1" width="0.7" height="0.7" fill="#d4d0bf" opacity="0.55"/>
<rect x="124.88" y="68.21" width="0.7" height="0.7" fill="#d4d0bf" opacity="0.55"/>
<rect x="37.42" y="117.27" width="0.7" height="0.7" fill="#d4d0bf" opacity="0.55"/>
<rect x="111.75" y="1.84" width="0.7" height="0.7" fill="#d4d0bf" opacity="0.55"/>
<rect x="90.51" y="13.66" width="0.7" height="0.7" fill="#d4d0bf" opacity="0.55"/>
<rect x="15.54" y="131.87" width="0.7" height="0.7" fill="#d4d0bf" opacity="0.55"/>
<rect x="5.4" y="35.71" width="0.7" height="0.7" fill="#d4d0bf" opacity="0.55"/>
<rect x="133.4" y="62.73" width="0.7" height="0.7" fill="#d4d0bf" opacity="0.55"/>
<rect x="15.6" y="24.94" width="0.7" height="0.7" fill="#d4d0bf" opacity="0.55"/>
<rect x="32.59" y="110.86" width="0.7" height="0.7" fill="#d4d0bf" opacity="0.55"/>
<rect x="13.88" y="135.7" width="0.7" height="0.7" fill="#d4d0bf" opacity="0.55"/>
<rect x="51.07" y="144.57" width="0.7" height="0.7" fill="#d4d0bf" opacity="0.55"/>
<rect x="122.75" y="43.81" width="0.7" height="0.7" fill="#d4d0bf" opacity="0.55"/>
<rect x="34.21" y="71.07" width="0.7" height="0.7" fill="#d4d0bf" opacity="0.55"/>
<rect x="13.52" y="97.16" width="0.7" height="0.7" fill="#d4d0bf" opacity="0.55"/>
<rect x="5.35" y="1.57" width="0.7" height="0.7" fill="#d4d0bf" opacity="0.55"/>
<rect x="132.65" y="44.04" width="0.7" height="0.7" fill="#d4d0bf" opacity="0.55"/>
<rect x="80.54" y="67.03" width="0.7" height="0.7" fill="#d4d0bf" opacity="0.55"/>
<rect x="42.29" y="9.38" width="0.7" height="0.7" fill="#d4d0bf" opacity="0.55"/>
<rect x="123.31" y="144.5" width="0.7" height="0.7" fill="#d4d0bf" opacity="0.55"/>
<rect x="130.92" y="16.59" width="0.7" height="0.7" fill="#d4d0bf" opacity="0.55"/>
<rect x="29.05" y="92.05" width="0.7" height="0.7" fill="#d4d0bf" opacity="0.55"/>
<rect x="132.29" y="80.89" width="0.7" height="0.7" fill="#d4d0bf" opacity="0.55"/>
<rect x="92.91" y="98.61" width="0.7" height="0.7" fill="#d4d0bf" opacity="0.55"/>
<rect x="34.98" y="80.7" width="0.7" height="0.7" fill="#d4d0bf" opacity="0.55"/>
<rect x="41.49" y="36.71" width="0.7" height="0.7" fill="#d4d0bf" opacity="0.55"/>
<rect x="10.98" y="41.84" width="0.7" height="0.7" fill="#d4d0bf" opacity="0.55"/>
<rect x="132.76" y="66.74" width="0.7" height="0.7" fill="#d4d0bf" opacity="0.55"/>
<rect x="88.02" y="95.88" width="0.7" height="0.7" fill="#d4d0bf" opacity="0.55"/>
<rect x="127" y="58.18" width="0.7" height="0.7" fill="#d4d0bf" opacity="0.55"/>
<rect x="41.42" y="48.76" width="0.7" height="0.7" fill="#d4d0bf" opacity="0.55"/>
<rect x="42.76" y="126.22" width="0.7" height="0.7" fill="#d4d0bf" opacity="0.55"/>
<rect x="120.62" y="45.12" width="0.7" height="0.7" fill="#d4d0bf" opacity="0.55"/>
<rect x="45.14" y="81.09" width="0.7" height="0.7" fill="#d4d0bf" opacity="0.55"/>
<rect x="78.16" y="88.8" width="0.7" height="0.7" fill="#d4d0bf" opacity="0.55"/>
<rect x="33.09" y="3.04" width="0.7" height="0.7" fill="#d4d0bf" opacity="0.55"/>
<rect x="32.91" y="10.78" width="0.7" height="0.7" fill="#d4d0bf" opacity="0.55"/>
<rect x="74.41" y="10.57" width="0.7" height="0.7" fill="#d4d0bf" opacity="0.55"/>
<rect x="10.14" y="94.67" width="0.7" height="0.7" fill="#d4d0bf" opacity="0.55"/>
<rect x="39.26" y="118.04" width="0.7" height="0.7" fill="#d4d0bf" opacity="0.55"/>
<rect x="66.59" y="128.53" width="0.7" height="0.7" fill="#d4d0bf" opacity="0.55"/>
<rect x="20.81" y="74.71" width="0.7" height="0.7" fill="#d4d0bf" opacity="0.55"/>
<rect x="107.32" y="11.49" width="0.7" height="0.7" fill="#d4d0bf" opacity="0.55"/>
<rect x="128.15" y="25.81" width="0.7" height="0.7" fill="#d4d0bf" opacity="0.55"/>
<rect x="104.79" y="146.75" width="0.7" height="0.7" fill="#d4d0bf" opacity="0.55"/>
<rect x="110.91" y="47.65" width="0.7" height="0.7" fill="#d4d0bf" opacity="0.55"/>
<rect x="14.43" y="76.64" width="0.7" height="0.7" fill="#d4d0bf" opacity="0.55"/>
<rect x="124.11" y="43.73" width="0.7" height="0.7" fill="#d4d0bf" opacity="0.55"/>
<rect x="120.66" y="21.11" width="0.7" height="0.7" fill="#d4d0bf" opacity="0.55"/>
<rect x="122.92" y="4.73" width="0.7" height="0.7" fill="#d4d0bf" opacity="0.55"/>
<rect x="42.67" y="134.56" width="0.7" height="0.7" fill="#d4d0bf" opacity="0.55"/>
<rect x="108.52" y="135.17" width="0.7" height="0.7" fill="#d4d0bf" opacity="0.55"/>
<rect x="113.5" y="111.18" width="0.7" height="0.7" fill="#d4d0bf" opacity="0.55"/>
<rect x="93.1" y="26.55" width="0.7" height="0.7" fill="#d4d0bf" opacity="0.55"/>
<rect x="58.41" y="23.53" width="0.7" height="0.7" fill="#d4d0bf" opacity="0.55"/>
<rect x="96.5" y="99.5" width="0.7" height="0.7" fill="#d4d0bf" opacity="0.55"/>
<rect x="34.1" y="9.6" width="0.7" height="0.7" fill="#d4d0bf" opacity="0.55"/>
<rect x="130.06" y="120.43" width="0.7" height="0.7" fill="#d4d0bf" opacity="0.55"/>
<rect x="74.15" y="80.67" width="0.7" height="0.7" fill="#d4d0bf" opacity="0.55"/>
<rect x="114.92" y="67.54" width="0.7" height="0.7" fill="#d4d0bf" opacity="0.55"/>
<rect x="53.42" y="50.46" width="0.7" height="0.7" fill="#d4d0bf" opacity="0.55"/>
<rect x="34.83" y="3.64" width="0.7" height="0.7" fill="#d4d0bf" opacity="0.55"/>
<rect x="87.27" y="62.09" width="0.7" height="0.7" fill="#d4d0bf" opacity="0.55"/>
<rect x="77.03" y="9.29" width="0.7" height="0.7" fill="#d4d0bf" opacity="0.55"/>
<rect x="47.92" y="20.6" width="0.7" height="0.7" fill="#d4d0bf" opacity="0.55"/>
<rect x="16.89" y="38.61" width="0.7" height="0.7" fill="#d4d0bf" opacity="0.55"/>
<rect x="111.91" y="59.27" width="0.7" height="0.7" fill="#d4d0bf" opacity="0.55"/>
<rect x="54.15" y="91.25" width="0.7" height="0.7" fill="#d4d0bf" opacity="0.55"/>
<rect x="31.53" y="1.11" width="0.7" height="0.7" fill="#d4d0bf" opacity="0.55"/>
<rect x="71.37" y="74.63" width="0.7" height="0.7" fill="#d4d0bf" opacity="0.55"/>
<rect x="87.59" y="65.31" width="0.7" height="0.7" fill="#d4d0bf" opacity="0.55"/>
<rect x="92.68" y="108.98" width="0.7" height="0.7" fill="#d4d0bf" opacity="0.55"/>
<rect x="32.18" y="73.77" width="0.7" height="0.7" fill="#d4d0bf" opacity="0.55"/>
<rect x="64.64" y="33.53" width="0.7" height="0.7" fill="#d4d0bf" opacity="0.55"/>
<rect x="55.65" y="83.5" width="0.7" height="0.7" fill="#d4d0bf" opacity="0.55"/>
<rect x="122.44" y="136.74" width="0.7" height="0.7" fill="#d4d0bf" opacity="0.55"/>
<rect x="37.16" y="96.32" width="0.7" height="0.7" fill="#d4d0bf" opacity="0.55"/>
<rect x="6.51" y="10.66" width="0.7" height="0.7" fill="#d4d0bf" opacity="0.55"/>
<rect x="69.08" y="130.74" width="0.7" height="0.7" fill="#d4d0bf" opacity="0.55"/>
<rect x="21.53" y="114.14" width="0.7" height="0.7" fill="#d4d0bf" opacity="0.55"/>
<rect x="119.21" y="46.46" width="0.7" height="0.7" fill="#d4d0bf" opacity="0.55"/>
<rect x="93.5" y="126.5" width="0.7" height="0.7" fill="#d4d0bf" opacity="0.55"/>
<rect x="50.17" y="104.49" width="0.7" height="0.7" fill="#d4d0bf" opacity="0.55"/>
<rect x="99.42" y="88.59" width="0.7" height="0.7" fill="#d4d0bf" opacity="0.55"/>
<rect x="115.6" y="133.59" width="0.7" height="0.7" fill="#d4d0bf" opacity="0.55"/>
<rect x="129.61" y="85.11" width="0.7" height="0.7" fill="#d4d0bf" opacity="0.55"/>
<rect x="23.8" y="37.34" width="0.7" height="0.7" fill="#d4d0bf" opacity="0.55"/>
<rect x="29.38" y="84.86" width="0.7" height="0.7" fill="#d4d0bf" opacity="0.55"/>
<rect x="102.3" y="7.77" width="0.7" height="0.7" fill="#d4d0bf" opacity="0.55"/>
<rect x="92.02" y="106.86" width="0.7" height="0.7" fill="#d4d0bf" opacity="0.55"/>
<rect x="46.98" y="76.74" width="0.7" height="0.7" fill="#d4d0bf" opacity="0.55"/>
<rect x="22.25" y="108.75" width="0.7" height="0.7" fill="#d4d0bf" opacity="0.55"/>
<rect x="5.5" y="146.2" width="0.7" height="0.7" fill="#d4d0bf" opacity="0.55"/>
<rect x="109.07" y="93.64" width="0.7" height="0.7" fill="#d4d0bf" opacity="0.55"/>
<rect x="36.12" y="136.02" width="0.7" height="0.7" fill="#d4d0bf" opacity="0.55"/>
<rect x="129.52" y="20.73" width="0.7" height="0.7" fill="#d4d0bf" opacity="0.55"/>
<rect x="104.73" y="125.45" width="0.7" height="0.7" fill="#d4d0bf" opacity="0.55"/>
<rect x="89.06" y="104.36" width="0.7" height="0.7" fill="#d4d0bf" opacity="0.55"/>
<rect x="60.08" y="137.72" width="0.7" height="0.7" fill="#d4d0bf" opacity="0.55"/>
<rect x="131.11" y="56.97" width="0.7" height="0.7" fill="#d4d0bf" opacity="0.55"/>
<rect x="108.37" y="64.51" width="0.7" height="0.7" fill="#d4d0bf" opacity="0.55"/>
<rect x="22.24" y="48.49" width="0.7" height="0.7" fill="#d4d0bf" opacity="0.55"/>
<rect x="17.05" y="135.42" width="0.7" height="0.7" fill="#d4d0bf" opacity="0.55"/>
<rect x="129.52" y="17.76" width="0.7" height="0.7" fill="#d4d0bf" opacity="0.55"/>
<rect x="81.09" y="60.83" width="0.7" height="0.7" fill="#d4d0bf" opacity="0.55"/>
<rect x="15.94" y="44.03" width="0.7" height="0.7" fill="#d4d0bf" opacity="0.55"/>
<rect x="33.51" y="111.69" width="0.7" height="0.7" fill="#d4d0bf" opacity="0.55"/>
<rect x="0.54" y="28.29" width="0.7" height="0.7" fill="#d4d0bf" opacity="0.55"/>
<rect x="59.23" y="3.13" width="0.7" height="0.7" fill="#d4d0bf" opacity="0.55"/>
<rect x="84.72" y="90.24" width="0.7" height="0.7" fill="#d4d0bf" opacity="0.55"/>
<rect x="112.77" y="30.78" width="0.7" height="0.7" fill="#d4d0bf" opacity="0.55"/>
<rect x="38.45" y="80.81" width="0.7" height="0.7" fill="#d4d0bf" opacity="0.55"/>
<rect x="36.89" y="87.27" width="0.7" height="0.7" fill="#d4d0bf" opacity="0.55"/>
<rect x="33.87" y="101.85" width="0.7" height="0.7" fill="#d4d0bf" opacity="0.55"/>
<rect x="106.8" y="120.49" width="0.7" height="0.7" fill="#d4d0bf" opacity="0.55"/>
<rect x="131.44" y="81.26" width="0.7" height="0.7" fill="#d4d0bf" opacity="0.55"/>
<rect x="66.26" y="127.5" width="0.7" height="0.7" fill="#d4d0bf" opacity="0.55"/>
<rect x="103.82" y="85.01" width="0.7" height="0.7" fill="#d4d0bf" opacity="0.55"/>
<rect x="51.74" y="42.32" width="0.7" height="0.7" fill="#d4d0bf" opacity="0.55"/>
<rect x="14.6" y="120.32" width="0.7" height="0.7" fill="#d4d0bf" opacity="0.55"/>
<rect x="15.94" y="111.34" width="0.7" height="0.7" fill="#d4d0bf" opacity="0.55"/>
<rect x="73.61" y="143.78" width="0.7" height="0.7" fill="#d4d0bf" opacity="0.55"/>
<rect x="102.74" y="145.05" width="0.7" height="0.7" fill="#d4d0bf" opacity="0.55"/>
<rect x="18.44" y="74.56" width="0.7" height="0.7" fill="#d4d0bf" opacity="0.55"/>
<rect x="77.3" y="46.38" width="0.7" height="0.7" fill="#d4d0bf" opacity="0.55"/>
<rect x="67.91" y="53.17" width="0.7" height="0.7" fill="#d4d0bf" opacity="0.55"/>
<rect x="71.33" y="0.13" width="0.7" height="0.7" fill="#d4d0bf" opacity="0.55"/>
<rect x="59.71" y="66.98" width="0.7" height="0.7" fill="#d4d0bf" opacity="0.55"/>
<rect x="41.15" y="59.51" width="0.7" height="0.7" fill="#d4d0bf" opacity="0.55"/>
<rect x="105.72" y="101.83" width="0.7" height="0.7" fill="#d4d0bf" opacity="0.55"/>
<rect x="66.46" y="96.5" width="0.7" height="0.7" fill="#d4d0bf" opacity="0.55"/>
<rect x="50.97" y="30.38" width="0.7" height="0.7" fill="#d4d0bf" opacity="0.55"/>
<rect x="0.52" y="41.37" width="0.7" height="0.7" fill="#d4d0bf" opacity="0.55"/>
<rect x="80.75" y="131.37" width="0.7" height="0.7" fill="#d4d0bf" opacity="0.55"/>
<rect x="111.97" y="76.13" width="0.7" height="0.7" fill="#d4d0bf" opacity="0.55"/>
<rect x="133.25" y="68.78" width="0.7" height="0.7" fill="#d4d0bf" opacity="0.55"/>
<rect x="112.67" y="60.94" width="0.7" height="0.7" fill="#d4d0bf" opacity="0.55"/>
<rect x="100.53" y="147.15" width="0.7" height="0.7" fill="#d4d0bf" opacity="0.55"/>
<rect x="41.22" y="25.38" width="0.7" height="0.7" fill="#d4d0bf" opacity="0.55"/>
<rect x="83.7" y="79.11" width="0.7" height="0.7" fill="#d4d0bf" opacity="0.55"/>
<rect x="48.52" y="0.52" width="0.7" height="0.7" fill="#d4d0bf" opacity="0.55"/>
<rect x="52.54" y="63.45" width="0.7" height="0.7" fill="#d4d0bf" opacity="0.55"/>
<rect x="54.71" y="128.33" width="0.7" height="0.7" fill="#d4d0bf" opacity="0.55"/>
<rect x="78.9" y="109.34" width="0.7" height="0.7" fill="#d4d0bf" opacity="0.55"/>
<rect x="121.22" y="111.57" width="0.7" height="0.7" fill="#d4d0bf" opacity="0.55"/>
<rect x="66.51" y="111.12" width="0.7" height="0.7" fill="#d4d0bf" opacity="0.55"/>
<rect x="86.45" y="96.66" width="0.7" height="0.7" fill="#d4d0bf" opacity="0.55"/>
<rect x="85.01" y="60.64" width="0.7" height="0.7" fill="#d4d0bf" opacity="0.55"/>
<rect x="84.95" y="94.43" width="0.7" height="0.7" fill="#d4d0bf" opacity="0.55"/>
<rect x="126.51" y="116.59" width="0.7" height="0.7" fill="#d4d0bf" opacity="0.55"/>
<rect x="114.25" y="114.36" width="0.7" height="0.7" fill="#d4d0bf" opacity="0.55"/>
<rect x="110.07" y="90.21" width="0.7" height="0.7" fill="#d4d0bf" opacity="0.55"/>
<rect x="47.18" y="39.42" width="0.7" height="0.7" fill="#d4d0bf" opacity="0.55"/>
<rect x="95.58" y="130.22" width="0.7" height="0.7" fill="#d4d0bf" opacity="0.55"/>
<rect x="73.47" y="22.66" width="0.7" height="0.7" fill="#d4d0bf" opacity="0.55"/>
<rect x="112.45" y="72.2" width="0.7" height="0.7" fill="#d4d0bf" opacity="0.55"/>
<rect x="63.06" y="6.76" width="0.7" height="0.7" fill="#d4d0bf" opacity="0.55"/>
<rect x="68.89" y="110.97" width="0.7" height="0.7" fill="#d4d0bf" opacity="0.55"/>
<rect x="57.05" y="52.92" width="0.7" height="0.7" fill="#d4d0bf" opacity="0.55"/>
<rect x="88.67" y="2.94" width="0.7" height="0.7" fill="#d4d0bf" opacity="0.55"/>
<rect x="68.47" y="140.97" width="0.7" height="0.7" fill="#d4d0bf" opacity="0.55"/>
<rect x="93.21" y="59.89" width="0.7" height="0.7" fill="#d4d0bf" opacity="0.55"/>
<rect x="93" y="90.14" width="0.7" height="0.7" fill="#d4d0bf" opacity="0.55"/>
<rect x="28.2" y="30.95" width="0.7" height="0.7" fill="#d4d0bf" opacity="0.55"/>
<rect x="119.61" y="40.09" width="0.7" height="0.7" fill="#d4d0bf" opacity="0.55"/>
<rect x="10.11" y="123.77" width="0.7" height="0.7" fill="#d4d0bf" opacity="0.55"/>
<rect x="70.63" y="54.86" width="0.7" height="0.7" fill="#d4d0bf" opacity="0.55"/>
<rect x="69.06" y="109.77" width="0.7" height="0.7" fill="#d4d0bf" opacity="0.55"/>
<rect x="22.75" y="97.31" width="0.7" height="0.7" fill="#d4d0bf" opacity="0.55"/>
<rect x="96.31" y="121.44" width="0.7" height="0.7" fill="#d4d0bf" opacity="0.55"/>
<rect x="36.42" y="90.84" width="0.7" height="0.7" fill="#d4d0bf" opacity="0.55"/>
<rect x="31.34" y="83.6" width="0.7" height="0.7" fill="#d4d0bf" opacity="0.55"/>
<rect x="23.27" y="117.68" width="0.7" height="0.7" fill="#d4d0bf" opacity="0.55"/>
<rect x="117.01" y="49.12" width="0.7" height="0.7" fill="#d4d0bf" opacity="0.55"/>
<rect x="30.01" y="143.6" width="0.7" height="0.7" fill="#d4d0bf" opacity="0.55"/>
<rect x="95.4" y="125.73" width="0.7" height="0.7" fill="#d4d0bf" opacity="0.55"/>
<rect x="4.12" y="134.01" width="0.7" height="0.7" fill="#d4d0bf" opacity="0.55"/>
<rect x="84.03" y="47.16" width="0.7" height="0.7" fill="#d4d0bf" opacity="0.55"/>
<rect x="58.29" y="113.48" width="0.7" height="0.7" fill="#d4d0bf" opacity="0.55"/>
<rect x="106.03" y="28.3" width="0.7" height="0.7" fill="#d4d0bf" opacity="0.55"/>
<rect x="84.49" y="24.68" width="0.7" height="0.7" fill="#d4d0bf" opacity="0.55"/>
<rect x="131.36" y="66.09" width="0.7" height="0.7" fill="#d4d0bf" opacity="0.55"/>
<rect x="123.27" y="108.51" width="0.7" height="0.7" fill="#d4d0bf" opacity="0.55"/>
<rect x="81.85" y="39.04" width="0.7" height="0.7" fill="#d4d0bf" opacity="0.55"/>
<rect x="71.09" y="20.65" width="0.7" height="0.7" fill="#d4d0bf" opacity="0.55"/>
<rect x="18.64" y="106.65" width="0.7" height="0.7" fill="#d4d0bf" opacity="0.55"/>
<rect x="48.75" y="111.96" width="0.7" height="0.7" fill="#d4d0bf" opacity="0.55"/>
<rect x="32.47" y="107.01" width="0.7" height="0.7" fill="#d4d0bf" opacity="0.55"/>
<rect x="96.99" y="45.52" width="0.7" height="0.7" fill="#d4d0bf" opacity="0.55"/>
<rect x="14.36" y="59.15" width="0.7" height="0.7" fill="#d4d0bf" opacity="0.55"/>
<rect x="66.47" y="14.9" width="0.7" height="0.7" fill="#d4d0bf" opacity="0.55"/>
<rect x="25.21" y="8.25" width="0.7" height="0.7" fill="#d4d0bf" opacity="0.55"/>
<rect x="80.66" y="132.44" width="0.7" height="0.7" fill="#d4d0bf" opacity="0.55"/>
<rect x="29.24" y="5.17" width="0.7" height="0.7" fill="#d4d0bf" opacity="0.55"/>
<rect x="95.03" y="121.42" width="0.7" height="0.7" fill="#d4d0bf" opacity="0.55"/>
<rect x="130.16" y="91.36" width="0.7" height="0.7" fill="#d4d0bf" opacity="0.55"/>
<rect x="46.23" y="124.84" width="0.7" height="0.7" fill="#d4d0bf" opacity="0.55"/>
<rect x="15.94" y="103.2" width="0.7" height="0.7" fill="#d4d0bf" opacity="0.55"/>
<rect x="12.86" y="59.56" width="0.7" height="0.7" fill="#d4d0bf" opacity="0.55"/>
<rect x="66.83" y="56.31" width="0.7" height="0.7" fill="#d4d0bf" opacity="0.55"/>
<rect x="22.76" y="34.53" width="0.7" height="0.7" fill="#d4d0bf" opacity="0.55"/>
<rect x="110.72" y="68.92" width="0.7" height="0.7" fill="#d4d0bf" opacity="0.55"/>
<rect x="78.29" y="31.57" width="0.7" height="0.7" fill="#d4d0bf" opacity="0.55"/>
<rect x="96.52" y="49.19" width="0.7" height="0.7" fill="#d4d0bf" opacity="0.55"/>
<rect x="80.14" y="135.51" width="0.7" height="0.7" fill="#d4d0bf" opacity="0.55"/>
<rect x="134.24" y="6.89" width="0.7" height="0.7" fill="#d4d0bf" opacity="0.55"/>
<rect x="107.65" y="127.78" width="0.7" height="0.7" fill="#d4d0bf" opacity="0.55"/>
<rect x="43.14" y="57.09" width="0.7" height="0.7" fill="#d4d0bf" opacity="0.55"/>
<rect x="78.33" y="136.91" width="0.7" height="0.7" fill="#d4d0bf" opacity="0.55"/>
<rect x="53.99" y="131.12" width="0.7" height="0.7" fill="#d4d0bf" opacity="0.55"/>
<rect x="102.41" y="22.69" width="0.7" height="0.7" fill="#d4d0bf" opacity="0.55"/>
<rect x="123.35" y="2.26" width="0.7" height="0.7" fill="#d4d0bf" opacity="0.55"/>
<rect x="19.6" y="99.06" width="0.7" height="0.7" fill="#d4d0bf" opacity="0.55"/>
<rect x="7.71" y="56.54" width="0.7" height="0.7" fill="#d4d0bf" opacity="0.55"/>
<rect x="17.55" y="68.97" width="0.7" height="0.7" fill="#d4d0bf" opacity="0.55"/>
<rect x="113.4" y="135.01" width="0.7" height="0.7" fill="#d4d0bf" opacity="0.55"/>
<rect x="4.79" y="9.07" width="0.7" height="0.7" fill="#d4d0bf" opacity="0.55"/>
<rect x="113.48" y="6.38" width="0.7" height="0.7" fill="#d4d0bf" opacity="0.55"/>
<rect x="36.93" y="17.5" width="0.7" height="0.7" fill="#d4d0bf" opacity="0.55"/>
<rect x="12.29" y="4.12" width="0.7" height="0.7" fill="#d4d0bf" opacity="0.55"/>
<rect x="86.06" y="110.95" width="0.7" height="0.7" fill="#d4d0bf" opacity="0.55"/>
<rect x="92.71" y="126" width="0.7" height="0.7" fill="#d4d0bf" opacity="0.55"/>
<rect x="89.51" y="58.07" width="0.7" height="0.7" fill="#d4d0bf" opacity="0.55"/>
<rect x="85.19" y="144.47" width="0.7" height="0.7" fill="#d4d0bf" opacity="0.55"/>
<rect x="86.62" y="36.22" width="0.7" height="0.7" fill="#d4d0bf" opacity="0.55"/>
<rect x="8.12" y="139.34" width="0.7" height="0.7" fill="#d4d0bf" opacity="0.55"/>
<rect x="79.72" y="52.09" width="0.7" height="0.7" fill="#d4d0bf" opacity="0.55"/>
<rect x="81.72" y="83.48" width="0.7" height="0.7" fill="#d4d0bf" opacity="0.55"/>
<rect x="70.49" y="9.06" width="0.7" height="0.7" fill="#d4d0bf" opacity="0.55"/>
<rect x="47.69" y="61.48" width="0.7" height="0.7" fill="#d4d0bf" opacity="0.55"/>
<rect x="26.91" y="131.14" width="0.7" height="0.7" fill="#d4d0bf" opacity="0.55"/>
<rect x="57.26" y="98.7" width="0.7" height="0.7" fill="#d4d0bf" opacity="0.55"/>
<rect x="96.33" y="110.75" width="0.7" height="0.7" fill="#d4d0bf" opacity="0.55"/>
<rect x="97.35" y="112.08" width="0.7" height="0.7" fill="#d4d0bf" opacity="0.55"/>
<rect x="33.96" y="145.48" width="0.7" height="0.7" fill="#d4d0bf" opacity="0.55"/>
<rect x="20.39" y="136.88" width="0.7" height="0.7" fill="#d4d0bf" opacity="0.55"/>
<rect x="115.37" y="126.97" width="0.7" height="0.7" fill="#d4d0bf" opacity="0.55"/>
<rect x="7.13" y="13.59" width="0.7" height="0.7" fill="#d4d0bf" opacity="0.55"/>
<rect x="109.76" y="69.91" width="0.7" height="0.7" fill="#d4d0bf" opacity="0.55"/>
<rect x="49.98" y="146.72" width="0.7" height="0.7" fill="#d4d0bf" opacity="0.55"/>
<rect x="5.42" y="79.19" width="0.7" height="0.7" fill="#d4d0bf" opacity="0.55"/>
<rect x="59.85" y="19.1" width="0.7" height="0.7" fill="#d4d0bf" opacity="0.55"/>
<rect x="53.35" y="105.44" width="0.7" height="0.7" fill="#d4d0bf" opacity="0.55"/>
<rect x="119.11" y="3.67" width="0.7" height="0.7" fill="#d4d0bf" opacity="0.55"/>
<rect x="70.81" y="13.47" width="0.7" height="0.7" fill="#d4d0bf" opacity="0.55"/>
<rect x="108.05" y="12.78" width="0.7" height="0.7" fill="#d4d0bf" opacity="0.55"/>
<rect x="4.62" y="57.25" width="0.7" height="0.7" fill="#d4d0bf" opacity="0.55"/>
<rect x="98.9" y="46.67" width="0.7" height="0.7" fill="#d4d0bf" opacity="0.55"/>
<rect x="17.55" y="118.39" width="0.7" height="0.7" fill="#d4d0bf" opacity="0.55"/>
<rect x="108.93" y="127.52" width="0.7" height="0.7" fill="#d4d0bf" opacity="0.55"/>
<rect x="41.01" y="63.3" width="0.7" height="0.7" fill="#d4d0bf" opacity="0.55"/>
<rect x="33.13" y="83.02" width="0.7" height="0.7" fill="#d4d0bf" opacity="0.55"/>
<rect x="44.56" y="50.46" width="0.7" height="0.7" fill="#d4d0bf" opacity="0.55"/>
<rect x="105.79" y="142.49" width="0.7" height="0.7" fill="#d4d0bf" opacity="0.55"/>
<rect x="78.86" y="15.6" width="0.7" height="0.7" fill="#d4d0bf" opacity="0.55"/>
<rect x="88.1" y="66.84" width="0.7" height="0.7" fill="#d4d0bf" opacity="0.55"/>
<rect x="133.38" y="107.19" width="0.7" height="0.7" fill="#d4d0bf" opacity="0.55"/>
<rect x="112.7" y="104.49" width="0.7" height="0.7" fill="#d4d0bf" opacity="0.55"/>
<rect x="72.31" y="133.63" width="0.7" height="0.7" fill="#d4d0bf" opacity="0.55"/>
<rect x="112.27" y="43.41" width="0.7" height="0.7" fill="#d4d0bf" opacity="0.55"/>
<rect x="21.2" y="55.18" width="0.7" height="0.7" fill="#d4d0bf" opacity="0.55"/>
<rect x="70.35" y="14.51" width="0.7" height="0.7" fill="#d4d0bf" opacity="0.55"/>
<rect x="46.63" y="85.66" width="0.7" height="0.7" fill="#d4d0bf" opacity="0.55"/>
<rect x="5.88" y="121.43" width="0.7" height="0.7" fill="#d4d0bf" opacity="0.55"/>
<rect x="87.9" y="46.73" width="0.7" height="0.7" fill="#d4d0bf" opacity="0.55"/>
<rect x="40.27" y="52.54" width="0.7" height="0.7" fill="#d4d0bf" opacity="0.55"/>
<rect x="43.91" y="111.53" width="0.7" height="0.7" fill="#d4d0bf" opacity="0.55"/>
<rect x="67.64" y="78.39" width="0.7" height="0.7" fill="#d4d0bf" opacity="0.55"/>
<rect x="20.08" y="136.25" width="0.7" height="0.7" fill="#d4d0bf" opacity="0.55"/>
<rect x="43.95" y="48.81" width="0.7" height="0.7" fill="#d4d0bf" opacity="0.55"/>
<rect x="9.29" y="145.93" width="0.7" height="0.7" fill="#d4d0bf" opacity="0.55"/>
<rect x="64.76" y="136.02" width="0.7" height="0.7" fill="#d4d0bf" opacity="0.55"/>
<rect x="125.23" y="144.49" width="0.7" height="0.7" fill="#d4d0bf" opacity="0.55"/>
<rect x="110.11" y="137.89" width="0.7" height="0.7" fill="#d4d0bf" opacity="0.55"/>
<rect x="124.51" y="119.4" width="0.7" height="0.7" fill="#d4d0bf" opacity="0.55"/>
<rect x="18.17" y="78.03" width="0.7" height="0.7" fill="#d4d0bf" opacity="0.55"/>
<rect x="77.71" y="147.88" width="0.7" height="0.7" fill="#d4d0bf" opacity="0.55"/>
<rect x="105.83" y="104.73" width="0.7" height="0.7" fill="#d4d0bf" opacity="0.55"/>
<rect x="100.8" y="53.88" width="0.7" height="0.7" fill="#d4d0bf" opacity="0.55"/>
<rect x="127.21" y="95.88" width="0.7" height="0.7" fill="#d4d0bf" opacity="0.55"/>
<rect x="54.35" y="69.22" width="0.7" height="0.7" fill="#d4d0bf" opacity="0.55"/>
<rect x="132.27" y="79.29" width="0.7" height="0.7" fill="#d4d0bf" opacity="0.55"/>
<rect x="22.65" y="22.1" width="0.7" height="0.7" fill="#d4d0bf" opacity="0.55"/>
<rect x="92.78" y="83.85" width="0.7" height="0.7" fill="#d4d0bf" opacity="0.55"/>
<rect x="122.42" y="27.51" width="0.7" height="0.7" fill="#d4d0bf" opacity="0.55"/>
<rect x="55.5" y="108.47" width="0.7" height="0.7" fill="#d4d0bf" opacity="0.55"/>
<rect x="6.76" y="14.78" width="0.7" height="0.7" fill="#d4d0bf" opacity="0.55"/>
<rect x="73.67" y="39.59" width="0.7" height="0.7" fill="#d4d0bf" opacity="0.55"/>
<rect x="14.44" y="38.99" width="0.7" height="0.7" fill="#d4d0bf" opacity="0.55"/>
<rect x="85.34" y="78.43" width="0.7" height="0.7" fill="#d4d0bf" opacity="0.55"/>
<rect x="10.6" y="10.85" width="0.7" height="0.7" fill="#d4d0bf" opacity="0.55"/>
<rect x="114.83" y="95.84" width="0.7" height="0.7" fill="#d4d0bf" opacity="0.55"/>
<rect x="23.4" y="128.41" width="0.7" height="0.7" fill="#d4d0bf" opacity="0.55"/>
<rect x="2.95" y="54.85" width="0.7" height="0.7" fill="#d4d0bf" opacity="0.55"/>
<rect x="114.43" y="105.83" width="0.7" height="0.7" fill="#d4d0bf" opacity="0.55"/>
<rect x="38.31" y="132.8" width="0.7" height="0.7" fill="#d4d0bf" opacity="0.55"/>
<rect x="80.74" y="128.96" width="0.7" height="0.7" fill="#d4d0bf" opacity="0.55"/>
<rect x="120.53" y="63.39" width="0.7" height="0.7" fill="#d4d0bf" opacity="0.55"/>
<rect x="91.21" y="81.13" width="0.7" height="0.7" fill="#d4d0bf" opacity="0.55"/>
<rect x="127.54" y="118.93" width="0.7" height="0.7" fill="#d4d0bf" opacity="0.55"/>
<rect x="97.99" y="121.29" width="0.7" height="0.7" fill="#d4d0bf" opacity="0.55"/>
<rect x="134.75" y="38.23" width="0.7" height="0.7" fill="#d4d0bf" opacity="0.55"/>
<rect x="27.18" y="111.27" width="0.7" height="0.7" fill="#d4d0bf" opacity="0.55"/>
<rect x="103.99" y="76.63" width="0.7" height="0.7" fill="#d4d0bf" opacity="0.55"/>
<rect x="65.76" y="60.16" width="0.7" height="0.7" fill="#d4d0bf" opacity="0.55"/>
<rect x="119.16" y="118.64" width="0.7" height="0.7" fill="#d4d0bf" opacity="0.55"/>
<rect x="78.92" y="5.98" width="0.7" height="0.7" fill="#d4d0bf" opacity="0.55"/>
<rect x="114.9" y="68.31" width="0.7" height="0.7" fill="#d4d0bf" opacity="0.55"/>
<rect x="25.62" y="44.6" width="0.7" height="0.7" fill="#d4d0bf" opacity="0.55"/>
<rect x="93.33" y="0.82" width="0.7" height="0.7" fill="#d4d0bf" opacity="0.55"/>
<rect x="16.21" y="45.1" width="0.7" height="0.7" fill="#d4d0bf" opacity="0.55"/>
<rect x="119.77" y="111.28" width="0.7" height="0.7" fill="#d4d0bf" opacity="0.55"/>
<rect x="131.06" y="80.91" width="0.7" height="0.7" fill="#d4d0bf" opacity="0.55"/>
<rect x="77.22" y="82.16" width="0.7" height="0.7" fill="#d4d0bf" opacity="0.55"/>
<rect x="70.96" y="80.76" width="0.7" height="0.7" fill="#d4d0bf" opacity="0.55"/>
<rect x="110.51" y="142.05" width="0.7" height="0.7" fill="#d4d0bf" opacity="0.55"/>
<rect x="55.12" y="93.86" width="0.7" height="0.7" fill="#d4d0bf" opacity="0.55"/>
<rect x="41.55" y="44.98" width="0.7" height="0.7" fill="#d4d0bf" opacity="0.55"/>
<rect x="68.35" y="87.35" width="0.7" height="0.7" fill="#d4d0bf" opacity="0.55"/>
<rect x="74.25" y="145.51" width="0.7" height="0.7" fill="#d4d0bf" opacity="0.55"/>
<rect x="22" y="94.86" width="0.7" height="0.7" fill="#d4d0bf" opacity="0.55"/>
<rect x="134.26" y="109.68" width="0.7" height="0.7" fill="#d4d0bf" opacity="0.55"/>
<rect x="76.4" y="54.89" width="0.7" height="0.7" fill="#d4d0bf" opacity="0.55"/>
<rect x="54.29" y="139.54" width="0.7" height="0.7" fill="#d4d0bf" opacity="0.55"/>
<rect x="120.87" y="99.78" width="0.7" height="0.7" fill="#d4d0bf" opacity="0.55"/>
<rect x="121.33" y="137.85" width="0.7" height="0.7" fill="#d4d0bf" opacity="0.55"/>
<rect x="114.26" y="57.13" width="0.7" height="0.7" fill="#d4d0bf" opacity="0.55"/>
<rect x="62.69" y="118.59" width="0.7" height="0.7" fill="#d4d0bf" opacity="0.55"/>
<rect x="50.31" y="111.66" width="0.7" height="0.7" fill="#d4d0bf" opacity="0.55"/>
<rect x="64.99" y="50.14" width="0.7" height="0.7" fill="#d4d0bf" opacity="0.55"/>
<rect x="61.58" y="17.36" width="0.7" height="0.7" fill="#d4d0bf" opacity="0.55"/>
<rect x="47.86" y="61.86" width="0.7" height="0.7" fill="#d4d0bf" opacity="0.55"/>
<rect x="2.45" y="25.64" width="0.7" height="0.7" fill="#d4d0bf" opacity="0.55"/>
<rect x="35.13" y="127.82" width="0.7" height="0.7" fill="#d4d0bf" opacity="0.55"/>
<rect x="79.59" y="42.78" width="0.7" height="0.7" fill="#d4d0bf" opacity="0.55"/>
<rect x="134.69" y="38.43" width="0.7" height="0.7" fill="#d4d0bf" opacity="0.55"/>
<rect x="69.36" y="110.19" width="0.7" height="0.7" fill="#d4d0bf" opacity="0.55"/>
<rect x="93.33" y="64.59" width="0.7" height="0.7" fill="#d4d0bf" opacity="0.55"/>
<rect x="104.89" y="72.38" width="0.7" height="0.7" fill="#d4d0bf" opacity="0.55"/>
<rect x="96.59" y="73.22" width="0.7" height="0.7" fill="#d4d0bf" opacity="0.55"/>
<rect x="131.15" y="106.71" width="0.7" height="0.7" fill="#d4d0bf" opacity="0.55"/>
<rect x="12.34" y="19.29" width="0.7" height="0.7" fill="#d4d0bf" opacity="0.55"/>
<rect x="130.48" y="34.16" width="0.7" height="0.7" fill="#d4d0bf" opacity="0.55"/>
<rect x="3.53" y="37.73" width="0.7" height="0.7" fill="#d4d0bf" opacity="0.55"/>
<rect x="64.77" y="141.87" width="0.7" height="0.7" fill="#d4d0bf" opacity="0.55"/>
<rect x="53.88" y="107.8" width="0.7" height="0.7" fill="#d4d0bf" opacity="0.55"/>
<rect x="112.64" y="13.29" width="0.7" height="0.7" fill="#d4d0bf" opacity="0.55"/>
<rect x="82.61" y="148.37" width="0.7" height="0.7" fill="#d4d0bf" opacity="0.55"/>
<rect x="74.2" y="79.64" width="0.7" height="0.7" fill="#d4d0bf" opacity="0.55"/>
<rect x="46.8" y="140.97" width="0.7" height="0.7" fill="#d4d0bf" opacity="0.55"/>
<rect x="130.9" y="15.37" width="0.7" height="0.7" fill="#d4d0bf" opacity="0.55"/>
<rect x="74.63" y="62.52" width="0.7" height="0.7" fill="#d4d0bf" opacity="0.55"/>
<rect x="90.67" y="17.68" width="0.7" height="0.7" fill="#d4d0bf" opacity="0.55"/>
<rect x="35.82" y="41.53" width="0.7" height="0.7" fill="#d4d0bf" opacity="0.55"/>
<rect x="64.76" y="118.2" width="0.7" height="0.7" fill="#d4d0bf" opacity="0.55"/>
<rect x="115.81" y="117.18" width="0.7" height="0.7" fill="#d4d0bf" opacity="0.55"/>
<rect x="91.37" y="12.99" width="0.7" height="0.7" fill="#d4d0bf" opacity="0.55"/>
<rect x="52.61" y="99.64" width="0.7" height="0.7" fill="#d4d0bf" opacity="0.55"/>
<rect x="39.72" y="75.66" width="0.7" height="0.7" fill="#d4d0bf" opacity="0.55"/>
<rect x="122.19" y="17.31" width="0.7" height="0.7" fill="#d4d0bf" opacity="0.55"/>
<rect x="115.27" y="15.77" width="0.7" height="0.7" fill="#d4d0bf" opacity="0.55"/>
<rect x="52.16" y="134.9" width="0.7" height="0.7" fill="#d4d0bf" opacity="0.55"/>
<rect x="27.16" y="77.59" width="0.7" height="0.7" fill="#d4d0bf" opacity="0.55"/>
<rect x="56.24" y="132.3" width="0.7" height="0.7" fill="#d4d0bf" opacity="0.55"/>
<rect x="133.93" y="43" width="0.7" height="0.7" fill="#d4d0bf" opacity="0.55"/>
<rect x="66.48" y="133.36" width="0.7" height="0.7" fill="#d4d0bf" opacity="0.55"/>
<rect x="73.55" y="31.98" width="0.7" height="0.7" fill="#d4d0bf" opacity="0.55"/>
<rect x="102.55" y="50.23" width="0.7" height="0.7" fill="#d4d0bf" opacity="0.55"/>
<rect x="65.61" y="1.28" width="0.7" height="0.7" fill="#d4d0bf" opacity="0.55"/>
<rect x="133.51" y="97.94" width="0.7" height="0.7" fill="#d4d0bf" opacity="0.55"/>
<rect x="124.98" y="144.33" width="0.7" height="0.7" fill="#d4d0bf" opacity="0.55"/>
<rect x="36.12" y="80.54" width="0.7" height="0.7" fill="#d4d0bf" opacity="0.55"/>
<rect x="59.43" y="113.22" width="0.7" height="0.7" fill="#d4d0bf" opacity="0.55"/>
<rect x="113.72" y="34.06" width="0.7" height="0.7" fill="#d4d0bf" opacity="0.55"/>
<rect x="37.07" y="105.23" width="0.7" height="0.7" fill="#d4d0bf" opacity="0.55"/>
<rect x="55.57" y="19.4" width="0.7" height="0.7" fill="#d4d0bf" opacity="0.55"/>
<rect x="26.37" y="83.57" width="0.7" height="0.7" fill="#d4d0bf" opacity="0.55"/>
<rect x="80.8" y="143.05" width="0.7" height="0.7" fill="#d4d0bf" opacity="0.55"/>
<rect x="71.93" y="90.74" width="0.7" height="0.7" fill="#d4d0bf" opacity="0.55"/>
<rect x="20.1" y="61.66" width="0.7" height="0.7" fill="#d4d0bf" opacity="0.55"/>
<rect x="37.77" y="103.62" width="0.7" height="0.7" fill="#d4d0bf" opacity="0.55"/>
<rect x="36.05" y="31.95" width="0.7" height="0.7" fill="#d4d0bf" opacity="0.55"/>
<rect x="49.64" y="70.11" width="0.7" height="0.7" fill="#d4d0bf" opacity="0.55"/>
<rect x="45.68" y="90.25" width="0.7" height="0.7" fill="#d4d0bf" opacity="0.55"/>
<rect x="24.46" y="131.11" width="0.7" height="0.7" fill="#d4d0bf" opacity="0.55"/>
<rect x="93.71" y="79.68" width="0.7" height="0.7" fill="#d4d0bf" opacity="0.55"/>
<rect x="7.85" y="48.57" width="0.7" height="0.7" fill="#d4d0bf" opacity="0.55"/>
<rect x="93.16" y="96.11" width="0.7" height="0.7" fill="#d4d0bf" opacity="0.55"/>
<rect x="109.61" y="132.83" width="0.7" height="0.7" fill="#d4d0bf" opacity="0.55"/>
<rect x="42.57" y="73.57" width="0.7" height="0.7" fill="#d4d0bf" opacity="0.55"/>
<rect x="44.56" y="19.06" width="0.7" height="0.7" fill="#d4d0bf" opacity="0.55"/>
<rect x="18.92" y="38.21" width="0.7" height="0.7" fill="#d4d0bf" opacity="0.55"/>
<rect x="11.88" y="80.29" width="0.7" height="0.7" fill="#d4d0bf" opacity="0.55"/>
<rect x="94.89" y="83.9" width="0.7" height="0.7" fill="#d4d0bf" opacity="0.55"/>
<rect x="92.44" y="33.71" width="0.7" height="0.7" fill="#d4d0bf" opacity="0.55"/></g></defs>
<clipPath id="pc1"><rect x="0" y="0" width="135" height="149"/></clipPath>
<g transform="translate(23,490)" clip-path="url(#pc1)">
<use href="#foam"/>
<polygon points="0,104 16.7,107.1 15.7,149 0,149" fill="url(#mesh)"/>
<polygon points="0,96.5 23.7,105.6 16.7,107.6 0,105" fill="#c6c2ae"/>
<polygon points="15.7,107.1 60.7,132.2 60.7,151 15.7,151" fill="#47474a" />
<polygon points="60.7,132.2 120,125.5 120,151 60.7,151" fill="#1f2023" />
<polygon points="63.7,136.2 116,129.5 116,151 63.7,151" fill="#3c3d41" />
<polygon points="15.7,107.1 45,104 79,120.3 120,125.5 60.7,132.2" fill="url(#gboxtop)" />
<polyline points="15.7,107.1 60.7,132.2 120,125.5" fill="none" stroke="#1a1b1e" stroke-width="2.2" />
<line x1="60.7" y1="132.2" x2="60.7" y2="149" stroke="#161719" stroke-width="1.5" />
<polygon points="44,110.5 53,107.5 82,118.5 80,122.5 75,123" fill="#1b1c1f" />
<path d="M55.4,14.6 C55.13,23.83 54.3,53.77 53.8,70 C53.3,86.23 52.63,105 52.4,112 L76.6,113 C76.93,105.83 77.92,86.4 78.6,70 C79.28,53.6 80.35,23.83 80.7,14.6 Z" fill="url(#gstrip)"/>
<path d="M54.9,14.6 L81.2,14.6 L80.9,19.6 L55.3,19.6 Z" fill="#1d1d20"/>
<path id="pp1" d="M68.2,27 C67.93,40.67 66.87,95.33 66.6,109" fill="none"/><path id="pg1" d="M61,46 C60.83,52.92 60.17,80.58 60,87.5" fill="none"/><text font-size="7.6" font-weight="bold" font-style="italic" fill="#f0408e" fill-opacity="0.65" dominant-baseline="central"><textPath href="#pp1" textLength="81.2" lengthAdjust="spacingAndGlyphs">POSTECH</textPath></text><text font-size="4.6" fill="#8a8a8a" dominant-baseline="central"><textPath href="#pg1" textLength="41.1" lengthAdjust="spacingAndGlyphs">PHARMAHUB</textPath></text>
<line x1="81.8" y1="10.8" x2="75.9" y2="120.5" stroke="#e6e62a" stroke-width="1.6" stroke-dasharray="6.5,2.5"/>
<text x="83.8" y="69.6" font-size="9.4" font-weight="normal" font-style="normal" text-anchor="start" fill="#e4e43a" >Reference</text>
<rect x="6.3" y="132.9" width="13.7" height="2" fill="#f6f6f6" />
<text x="6" y="144.3" font-size="7.6" font-weight="normal" font-style="normal" text-anchor="start" fill="#f8f8f8" >1cm</text>
<text x="126.5" y="144.5" font-size="12" fill="#f4f4f4" text-anchor="end">0 V µm<tspan font-size="8" dy="-4.5">-1</tspan></text>
</g>
<clipPath id="pc2"><rect x="0" y="0" width="135" height="149"/></clipPath>
<g transform="translate(180,490)" clip-path="url(#pc2)">
<use href="#foam"/>
<polygon points="0,104 21.7,108.1 20.7,149 0,149" fill="url(#mesh)"/>
<polygon points="0,96.5 28.7,106.6 21.7,108.6 0,105" fill="#c6c2ae"/>
<polygon points="20.7,108.1 65,132.4 65,151 20.7,151" fill="#47474a" />
<polygon points="65,132.4 126.1,125.5 126.1,151 65,151" fill="#1f2023" />
<polygon points="68,136.4 122.1,129.5 122.1,151 68,151" fill="#3c3d41" />
<polygon points="20.7,108.1 50,105 85,121 126.1,125.5 65,132.4" fill="url(#gboxtop)" />
<polyline points="20.7,108.1 65,132.4 126.1,125.5" fill="none" stroke="#1a1b1e" stroke-width="2.2" />
<line x1="65" y1="132.4" x2="65" y2="149" stroke="#161719" stroke-width="1.5" />
<polygon points="48,110.2 58,108 87,119 85,122.5 78,123" fill="#1b1c1f" />
<path d="M57.3,14.4 C57.3,22 57.3,44.17 57.3,60 C57.3,75.83 57.3,101.17 57.3,109.4 L80.8,113.5 C80.87,104.58 81.03,76.52 81.2,60 C81.37,43.48 81.7,22 81.8,14.4 Z" fill="url(#gstrip)"/>
<path d="M56.8,14.4 L82.3,14.4 L82,19.4 L57.2,19.4 Z" fill="#1d1d20"/>
<path id="pp2" d="M71.8,27 C71.7,40.83 71.3,96.17 71.2,110" fill="none"/><path id="pg2" d="M64.2,46 C64.17,53 64.03,81 64,88" fill="none"/><text font-size="7.6" font-weight="bold" font-style="italic" fill="#f0408e" fill-opacity="0.65" dominant-baseline="central"><textPath href="#pp2" textLength="82.17" lengthAdjust="spacingAndGlyphs">POSTECH</textPath></text><text font-size="4.6" fill="#8a8a8a" dominant-baseline="central"><textPath href="#pg2" textLength="41.58" lengthAdjust="spacingAndGlyphs">PHARMAHUB</textPath></text>
<line x1="86.9" y1="12.4" x2="80.8" y2="119.7" stroke="#e6e62a" stroke-width="1.6" stroke-dasharray="6.5,2.5"/>
<line x1="86.9" y1="12.4" x2="74.6" y2="12.4" stroke="#e6e62a" stroke-width="1.1" />
<polygon points="71.6,12.4 75.6,10.1 75.6,14.7" fill="#e6e62a" />
<rect x="6.3" y="132.9" width="13.7" height="2" fill="#f6f6f6" />
<text x="6" y="144.3" font-size="7.6" font-weight="normal" font-style="normal" text-anchor="start" fill="#f8f8f8" >1cm</text>
<text x="130.3" y="144.5" font-size="12" fill="#f4f4f4" text-anchor="end">5 V µm<tspan font-size="8" dy="-4.5">-1</tspan></text>
</g>
<clipPath id="pc3"><rect x="0" y="0" width="135" height="149"/></clipPath>
<g transform="translate(341,490)" clip-path="url(#pc3)">
<use href="#foam"/>
<polygon points="0,104 21.7,108.1 20.7,149 0,149" fill="url(#mesh)"/>
<polygon points="0,96.5 28.7,106.6 21.7,108.6 0,105" fill="#c6c2ae"/>
<polygon points="20.7,108.1 65,132.4 65,151 20.7,151" fill="#47474a" />
<polygon points="65,132.4 126.1,125.5 126.1,151 65,151" fill="#1f2023" />
<polygon points="68,136.4 122.1,129.5 122.1,151 68,151" fill="#3c3d41" />
<polygon points="20.7,108.1 50,105 85,121 126.1,125.5 65,132.4" fill="url(#gboxtop)" />
<polyline points="20.7,108.1 65,132.4 126.1,125.5" fill="none" stroke="#1a1b1e" stroke-width="2.2" />
<line x1="65" y1="132.4" x2="65" y2="149" stroke="#161719" stroke-width="1.5" />
<polygon points="48,110.2 58,108 87,119 85,122.5 78,123" fill="#1b1c1f" />
<path d="M48.2,20 C48.98,23.12 51.45,32.2 52.9,38.7 C54.35,45.2 55.88,52.25 56.9,59 C57.92,65.75 58.55,71.03 59,79.2 C59.45,87.37 59.5,103.2 59.6,108 L79.2,113 C79.2,108.48 79.32,94.47 79.2,85.9 C79.08,77.33 78.95,69.47 78.5,61.6 C78.05,53.73 77.4,45.72 76.5,38.7 C75.6,31.68 73.67,22.7 73.1,19.5 Z" fill="url(#gstrip)"/>
<path d="M47.7,20 L73.6,19.5 L73.3,24.1 L48.1,24.6 Z" fill="#1d1d20"/>
<path id="pp3" d="M63.8,26.6 C64.43,30.5 66.63,41.93 67.6,50 C68.57,58.07 69.12,65.18 69.6,75 C70.08,84.82 70.35,103.25 70.5,108.9" fill="none"/><path id="pg3" d="M59.5,46.8 C59.83,50 61,59.48 61.5,66 C62,72.52 62.33,82.58 62.5,85.9" fill="none"/><text font-size="7.6" font-weight="bold" font-style="italic" fill="#f0408e" fill-opacity="0.65" dominant-baseline="central"><textPath href="#pp3" textLength="81.87" lengthAdjust="spacingAndGlyphs">POSTECH</textPath></text><text font-size="4.6" fill="#8a8a8a" dominant-baseline="central"><textPath href="#pg3" textLength="38.84" lengthAdjust="spacingAndGlyphs">PHARMAHUB</textPath></text>
<line x1="85.9" y1="11.1" x2="79.2" y2="121" stroke="#e6e62a" stroke-width="1.6" stroke-dasharray="6.5,2.5"/>
<line x1="85.9" y1="11.1" x2="61.3" y2="11.1" stroke="#e6e62a" stroke-width="1.1" />
<polygon points="58.3,11.1 62.3,8.8 62.3,13.4" fill="#e6e62a" />
<rect x="6.3" y="132.9" width="13.7" height="2" fill="#f6f6f6" />
<text x="6" y="144.3" font-size="7.6" font-weight="normal" font-style="normal" text-anchor="start" fill="#f8f8f8" >1cm</text>
<text x="130.3" y="144.5" font-size="12" fill="#f4f4f4" text-anchor="end">15 V µm<tspan font-size="8" dy="-4.5">-1</tspan></text>
</g>
<clipPath id="pc4"><rect x="0" y="0" width="135" height="149"/></clipPath>
<g transform="translate(501,490)" clip-path="url(#pc4)">
<use href="#foam"/>
<polygon points="0,104 21.7,108.1 20.7,149 0,149" fill="url(#mesh)"/>
<polygon points="0,96.5 28.7,106.6 21.7,108.6 0,105" fill="#c6c2ae"/>
<polygon points="20.7,108.1 65,132.4 65,151 20.7,151" fill="#47474a" />
<polygon points="65,132.4 126.1,125.5 126.1,151 65,151" fill="#1f2023" />
<polygon points="68,136.4 122.1,129.5 122.1,151 68,151" fill="#3c3d41" />
<polygon points="20.7,108.1 50,105 85,121 126.1,125.5 65,132.4" fill="url(#gboxtop)" />
<polyline points="20.7,108.1 65,132.4 126.1,125.5" fill="none" stroke="#1a1b1e" stroke-width="2.2" />
<line x1="65" y1="132.4" x2="65" y2="149" stroke="#161719" stroke-width="1.5" />
<polygon points="48,110.2 58,108 87,119 85,122.5 78,123" fill="#1b1c1f" />
<path d="M37.1,22 C38,24.78 40.7,32.98 42.5,38.7 C44.3,44.42 46.22,50.68 47.9,56.3 C49.58,61.92 51.25,67.02 52.6,72.4 C53.95,77.78 55.22,83 56,88.6 C56.78,94.2 57.08,103.1 57.3,106 L79.6,111.6 C79.15,107.77 77.92,95.8 76.9,88.6 C75.88,81.4 74.73,74.92 73.5,68.4 C72.27,61.88 70.85,55.12 69.5,49.5 C68.15,43.88 66.87,39.37 65.4,34.7 C63.93,30.03 61.48,23.7 60.7,21.5 Z" fill="url(#gstrip)"/>
<path d="M36.6,22 L61.2,21.5 L60.9,26.1 L37,26.6 Z" fill="#1d1d20"/>
<path id="pp4" d="M53,29.3 C53.92,32.75 56.75,42.88 58.5,50 C60.25,57.12 62,65.33 63.5,72 C65,78.67 66.5,84.08 67.5,90 C68.5,95.92 69.17,104.58 69.5,107.5" fill="none"/><path id="pg4" d="M52.6,48.2 C53.42,51.33 56.03,60.72 57.5,67 C58.97,73.28 60.75,82.75 61.4,85.9" fill="none"/><text font-size="7.6" font-weight="bold" font-style="italic" fill="#f0408e" fill-opacity="0.65" dominant-baseline="central"><textPath href="#pp4" textLength="79.23" lengthAdjust="spacingAndGlyphs">POSTECH</textPath></text><text font-size="4.6" fill="#8a8a8a" dominant-baseline="central"><textPath href="#pg4" textLength="38.34" lengthAdjust="spacingAndGlyphs">PHARMAHUB</textPath></text>
<line x1="87" y1="11.1" x2="80.3" y2="121" stroke="#e6e62a" stroke-width="1.6" stroke-dasharray="6.5,2.5"/>
<line x1="87" y1="11.1" x2="50.2" y2="11.1" stroke="#e6e62a" stroke-width="1.1" />
<polygon points="47.2,11.1 51.2,8.8 51.2,13.4" fill="#e6e62a" />
<rect x="6.3" y="132.9" width="13.7" height="2" fill="#f6f6f6" />
<text x="6" y="144.3" font-size="7.6" font-weight="normal" font-style="normal" text-anchor="start" fill="#f8f8f8" >1cm</text>
<text x="130.3" y="144.5" font-size="12" fill="#f4f4f4" text-anchor="end">25 V µm<tspan font-size="8" dy="-4.5">-1</tspan></text>
</g>
<polygon points="159,563.3 169.2,563.3 169.2,558.2 179,568.7 169.2,579.1 169.2,574.1 159,574.1" fill="#fff" />
<polygon points="316,563.3 326.2,563.3 326.2,558.2 336,568.7 326.2,579.1 326.2,574.1 316,574.1" fill="#fff" />
<polygon points="477,563.3 487.2,563.3 487.2,558.2 497,568.7 487.2,579.1 487.2,574.1 477,574.1" fill="#fff" />
</svg></body></html>
